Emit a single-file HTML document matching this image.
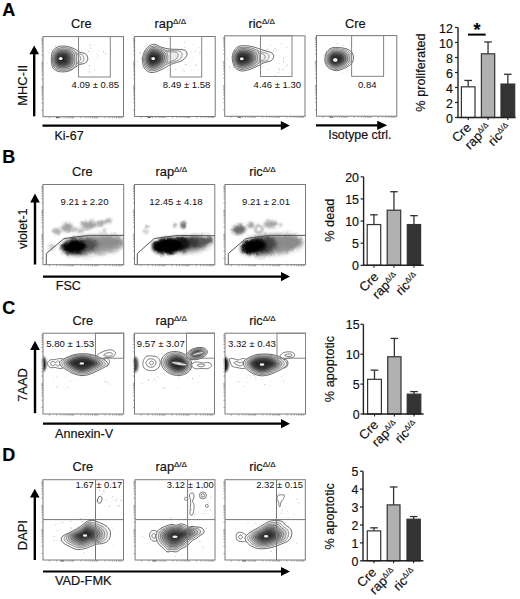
<!DOCTYPE html>
<html><head><meta charset="utf-8"><style>
html,body{margin:0;padding:0;background:#fff;}
body{width:520px;height:599px;overflow:hidden;font-family:"Liberation Sans",sans-serif;}
svg{display:block;}
text{stroke:#111;stroke-width:0.18px;}
</style></head><body>
<svg width="520" height="599" viewBox="0 0 520 599" font-family="Liberation Sans"><defs><filter id="wig" x="-10%" y="-10%" width="120%" height="120%"><feTurbulence type="fractalNoise" baseFrequency="0.25" numOctaves="2" seed="5" result="n"/><feDisplacementMap in="SourceGraphic" in2="n" scale="2.5" xChannelSelector="R" yChannelSelector="G"/></filter><filter id="lumpy" x="-10%" y="-10%" width="120%" height="120%"><feTurbulence type="fractalNoise" baseFrequency="0.14" numOctaves="2" seed="3" result="n"/><feDisplacementMap in="SourceGraphic" in2="n" scale="3.5" xChannelSelector="R" yChannelSelector="G"/></filter><filter id="b0_5" x="-50%" y="-50%" width="200%" height="200%"><feGaussianBlur stdDeviation="0.5"/></filter><filter id="b1_3" x="-50%" y="-50%" width="200%" height="200%"><feGaussianBlur stdDeviation="1.3"/></filter><filter id="b1_4" x="-50%" y="-50%" width="200%" height="200%"><feGaussianBlur stdDeviation="1.4"/></filter><filter id="b1_2" x="-50%" y="-50%" width="200%" height="200%"><feGaussianBlur stdDeviation="1.2"/></filter><filter id="b1" x="-50%" y="-50%" width="200%" height="200%"><feGaussianBlur stdDeviation="1"/></filter><filter id="b2_3" x="-50%" y="-50%" width="200%" height="200%"><feGaussianBlur stdDeviation="2.3"/></filter><filter id="b2_1" x="-50%" y="-50%" width="200%" height="200%"><feGaussianBlur stdDeviation="2.1"/></filter><filter id="b1_8" x="-50%" y="-50%" width="200%" height="200%"><feGaussianBlur stdDeviation="1.8"/></filter><filter id="b0_8" x="-50%" y="-50%" width="200%" height="200%"><feGaussianBlur stdDeviation="0.8"/></filter><filter id="b2_2" x="-50%" y="-50%" width="200%" height="200%"><feGaussianBlur stdDeviation="2.2"/></filter><filter id="b1_6" x="-50%" y="-50%" width="200%" height="200%"><feGaussianBlur stdDeviation="1.6"/></filter><filter id="b1_5" x="-50%" y="-50%" width="200%" height="200%"><feGaussianBlur stdDeviation="1.5"/></filter><filter id="b2" x="-50%" y="-50%" width="200%" height="200%"><feGaussianBlur stdDeviation="2"/></filter><filter id="b1_0" x="-50%" y="-50%" width="200%" height="200%"><feGaussianBlur stdDeviation="1.0"/></filter></defs><rect width="520" height="599" fill="#fff"/><text x="2.2" y="15.9" font-size="18" text-anchor="start" font-weight="bold" fill="#000" >A</text>
<text x="2.2" y="163.4" font-size="18" text-anchor="start" font-weight="bold" fill="#000" >B</text>
<text x="2.2" y="313.6" font-size="18" text-anchor="start" font-weight="bold" fill="#000" >C</text>
<text x="2.2" y="461.3" font-size="18" text-anchor="start" font-weight="bold" fill="#000" >D</text>
<rect x="43" y="36.6" width="80.5" height="80.1" fill="#fff" stroke="#7a7a7a" stroke-width="1"/>
<path d="M41.4,110.3h1.6 M49.4,116.7v1.6 M41.4,103.1h1.6 M56.7,116.7v1.6 M41.4,98.8h1.6 M61.0,116.7v1.6 M41.4,95.8h1.6 M64.0,116.7v1.6 M41.4,93.5h1.6 M66.3,116.7v1.6 M41.4,91.6h1.6 M68.2,116.7v1.6 M41.4,90.0h1.6 M69.8,116.7v1.6 M41.4,88.6h1.6 M71.2,116.7v1.6 M41.4,87.4h1.6 M72.5,116.7v1.6 M41.4,86.3h1.6 M73.6,116.7v1.6 M41.4,79.0h1.6 M80.9,116.7v1.6 M41.4,74.8h1.6 M85.1,116.7v1.6 M41.4,71.8h1.6 M88.1,116.7v1.6 M41.4,69.5h1.6 M90.5,116.7v1.6 M41.4,67.6h1.6 M92.4,116.7v1.6 M41.4,66.0h1.6 M94.0,116.7v1.6 M41.4,64.6h1.6 M95.4,116.7v1.6 M41.4,63.3h1.6 M96.6,116.7v1.6 M41.4,62.2h1.6 M97.7,116.7v1.6 M41.4,55.0h1.6 M105.0,116.7v1.6 M41.4,50.8h1.6 M109.3,116.7v1.6 M41.4,47.8h1.6 M112.3,116.7v1.6 M41.4,45.4h1.6 M114.6,116.7v1.6 M41.4,43.5h1.6 M116.5,116.7v1.6 M41.4,41.9h1.6 M118.1,116.7v1.6 M41.4,40.5h1.6 M119.5,116.7v1.6 M41.4,39.3h1.6 M120.8,116.7v1.6 M41.4,38.2h1.6 M121.9,116.7v1.6" stroke="#7a7a7a" stroke-width="0.65" fill="none"/>
<rect x="134.6" y="36.5" width="80.6" height="80.0" fill="#fff" stroke="#7a7a7a" stroke-width="1"/>
<path d="M133.0,110.1h1.6 M141.0,116.5v1.6 M133.0,102.9h1.6 M148.3,116.5v1.6 M133.0,98.6h1.6 M152.6,116.5v1.6 M133.0,95.7h1.6 M155.6,116.5v1.6 M133.0,93.3h1.6 M157.9,116.5v1.6 M133.0,91.4h1.6 M159.9,116.5v1.6 M133.0,89.8h1.6 M161.5,116.5v1.6 M133.0,88.4h1.6 M162.9,116.5v1.6 M133.0,87.2h1.6 M164.1,116.5v1.6 M133.0,86.1h1.6 M165.2,116.5v1.6 M133.0,78.9h1.6 M172.5,116.5v1.6 M133.0,74.6h1.6 M176.8,116.5v1.6 M133.0,71.7h1.6 M179.8,116.5v1.6 M133.0,69.3h1.6 M182.1,116.5v1.6 M133.0,67.4h1.6 M184.0,116.5v1.6 M133.0,65.8h1.6 M185.7,116.5v1.6 M133.0,64.4h1.6 M187.1,116.5v1.6 M133.0,63.2h1.6 M188.3,116.5v1.6 M133.0,62.1h1.6 M189.4,116.5v1.6 M133.0,54.9h1.6 M196.7,116.5v1.6 M133.0,50.6h1.6 M200.9,116.5v1.6 M133.0,47.7h1.6 M204.0,116.5v1.6 M133.0,45.3h1.6 M206.3,116.5v1.6 M133.0,43.4h1.6 M208.2,116.5v1.6 M133.0,41.8h1.6 M209.8,116.5v1.6 M133.0,40.4h1.6 M211.2,116.5v1.6 M133.0,39.2h1.6 M212.5,116.5v1.6 M133.0,38.1h1.6 M213.6,116.5v1.6" stroke="#7a7a7a" stroke-width="0.65" fill="none"/>
<rect x="224.7" y="35.8" width="80.30000000000001" height="80.5" fill="#fff" stroke="#7a7a7a" stroke-width="1"/>
<path d="M223.1,109.9h1.6 M231.1,116.3v1.6 M223.1,102.6h1.6 M238.4,116.3v1.6 M223.1,98.3h1.6 M242.6,116.3v1.6 M223.1,95.3h1.6 M245.6,116.3v1.6 M223.1,93.0h1.6 M248.0,116.3v1.6 M223.1,91.1h1.6 M249.9,116.3v1.6 M223.1,89.5h1.6 M251.5,116.3v1.6 M223.1,88.1h1.6 M252.9,116.3v1.6 M223.1,86.8h1.6 M254.1,116.3v1.6 M223.1,85.7h1.6 M255.2,116.3v1.6 M223.1,78.4h1.6 M262.5,116.3v1.6 M223.1,74.2h1.6 M266.7,116.3v1.6 M223.1,71.2h1.6 M269.7,116.3v1.6 M223.1,68.8h1.6 M272.1,116.3v1.6 M223.1,66.9h1.6 M274.0,116.3v1.6 M223.1,65.3h1.6 M275.6,116.3v1.6 M223.1,63.9h1.6 M277.0,116.3v1.6 M223.1,62.7h1.6 M278.2,116.3v1.6 M223.1,61.6h1.6 M279.3,116.3v1.6 M223.1,54.3h1.6 M286.6,116.3v1.6 M223.1,50.0h1.6 M290.8,116.3v1.6 M223.1,47.0h1.6 M293.8,116.3v1.6 M223.1,44.7h1.6 M296.1,116.3v1.6 M223.1,42.8h1.6 M298.0,116.3v1.6 M223.1,41.2h1.6 M299.7,116.3v1.6 M223.1,39.8h1.6 M301.1,116.3v1.6 M223.1,38.5h1.6 M302.3,116.3v1.6 M223.1,37.4h1.6 M303.4,116.3v1.6" stroke="#7a7a7a" stroke-width="0.65" fill="none"/>
<rect x="316.5" y="35.6" width="80.30000000000001" height="80.6" fill="#fff" stroke="#7a7a7a" stroke-width="1"/>
<path d="M314.9,109.8h1.6 M322.9,116.2v1.6 M314.9,102.5h1.6 M330.2,116.2v1.6 M314.9,98.2h1.6 M334.4,116.2v1.6 M314.9,95.2h1.6 M337.4,116.2v1.6 M314.9,92.9h1.6 M339.8,116.2v1.6 M314.9,90.9h1.6 M341.7,116.2v1.6 M314.9,89.3h1.6 M343.3,116.2v1.6 M314.9,87.9h1.6 M344.7,116.2v1.6 M314.9,86.7h1.6 M345.9,116.2v1.6 M314.9,85.6h1.6 M347.0,116.2v1.6 M314.9,78.3h1.6 M354.3,116.2v1.6 M314.9,74.0h1.6 M358.5,116.2v1.6 M314.9,71.0h1.6 M361.5,116.2v1.6 M314.9,68.7h1.6 M363.9,116.2v1.6 M314.9,66.8h1.6 M365.8,116.2v1.6 M314.9,65.1h1.6 M367.4,116.2v1.6 M314.9,63.7h1.6 M368.8,116.2v1.6 M314.9,62.5h1.6 M370.0,116.2v1.6 M314.9,61.4h1.6 M371.1,116.2v1.6 M314.9,54.1h1.6 M378.4,116.2v1.6 M314.9,49.9h1.6 M382.6,116.2v1.6 M314.9,46.8h1.6 M385.6,116.2v1.6 M314.9,44.5h1.6 M387.9,116.2v1.6 M314.9,42.6h1.6 M389.8,116.2v1.6 M314.9,41.0h1.6 M391.5,116.2v1.6 M314.9,39.6h1.6 M392.9,116.2v1.6 M314.9,38.3h1.6 M394.1,116.2v1.6 M314.9,37.2h1.6 M395.2,116.2v1.6" stroke="#7a7a7a" stroke-width="0.65" fill="none"/>
<circle cx="86.4" cy="47.5" r="0.41" fill="#d8d8d8"/><circle cx="94.6" cy="70.3" r="0.41" fill="#bcbcbc"/><circle cx="89.9" cy="45.1" r="0.54" fill="#b4b4b4"/><circle cx="77.9" cy="60.0" r="0.56" fill="#bdbdbd"/><circle cx="94.7" cy="44.9" r="0.50" fill="#d4d4d4"/><circle cx="103.5" cy="51.7" r="0.54" fill="#b8b8b8"/><circle cx="94.3" cy="59.8" r="0.45" fill="#dadada"/><circle cx="94.6" cy="62.2" r="0.42" fill="#c6c6c6"/><circle cx="98.8" cy="59.9" r="0.45" fill="#d6d6d6"/><circle cx="97.8" cy="55.8" r="0.52" fill="#c3c3c3"/><circle cx="105.6" cy="53.8" r="0.60" fill="#bebebe"/><circle cx="98.4" cy="50.3" r="0.48" fill="#d3d3d3"/><circle cx="91.8" cy="53.3" r="0.47" fill="#cbcbcb"/><circle cx="89.4" cy="65.7" r="0.63" fill="#b8b8b8"/><circle cx="89.5" cy="71.9" r="0.59" fill="#b3b3b3"/><circle cx="94.3" cy="69.3" r="0.49" fill="#c3c3c3"/><circle cx="87.2" cy="57.9" r="0.42" fill="#cccccc"/><circle cx="79.0" cy="51.1" r="0.57" fill="#dbdbdb"/><circle cx="77.9" cy="64.0" r="0.54" fill="#d8d8d8"/><circle cx="97.8" cy="56.4" r="0.50" fill="#dcdcdc"/><circle cx="90.8" cy="48.0" r="0.52" fill="#b6b6b6"/><circle cx="83.0" cy="51.6" r="0.46" fill="#dedede"/><circle cx="88.5" cy="69.1" r="0.44" fill="#b4b4b4"/><circle cx="88.9" cy="51.3" r="0.60" fill="#b7b7b7"/><circle cx="103.6" cy="51.4" r="0.65" fill="#c9c9c9"/><circle cx="97.8" cy="54.4" r="0.44" fill="#bdbdbd"/><circle cx="81.6" cy="50.0" r="0.40" fill="#bdbdbd"/>
<circle cx="70.6" cy="50.5" r="0.40" fill="#c1c1c1"/><circle cx="57.4" cy="56.1" r="0.48" fill="#d3d3d3"/><circle cx="74.4" cy="64.6" r="0.41" fill="#dedede"/><circle cx="72.8" cy="68.4" r="0.60" fill="#dadada"/><circle cx="56.6" cy="57.0" r="0.52" fill="#b5b5b5"/><circle cx="56.8" cy="50.7" r="0.51" fill="#bcbcbc"/><circle cx="47.5" cy="63.0" r="0.40" fill="#b5b5b5"/><circle cx="55.6" cy="45.8" r="0.55" fill="#bcbcbc"/><circle cx="48.8" cy="52.6" r="0.55" fill="#c5c5c5"/><circle cx="59.2" cy="48.5" r="0.65" fill="#cecece"/><circle cx="58.9" cy="59.5" r="0.44" fill="#b4b4b4"/><circle cx="68.0" cy="67.2" r="0.61" fill="#cdcdcd"/><circle cx="74.4" cy="60.8" r="0.57" fill="#b8b8b8"/><circle cx="73.3" cy="67.7" r="0.64" fill="#c2c2c2"/><circle cx="71.6" cy="65.9" r="0.53" fill="#bfbfbf"/>
<circle cx="199.9" cy="52.4" r="0.53" fill="#bdbdbd"/><circle cx="195.5" cy="51.5" r="0.55" fill="#bdbdbd"/><circle cx="195.8" cy="65.3" r="0.60" fill="#bbbbbb"/><circle cx="196.8" cy="64.7" r="0.45" fill="#bdbdbd"/><circle cx="185.8" cy="64.4" r="0.60" fill="#b0b0b0"/><circle cx="185.1" cy="47.2" r="0.64" fill="#d5d5d5"/><circle cx="184.2" cy="71.0" r="0.64" fill="#c5c5c5"/><circle cx="181.4" cy="48.1" r="0.52" fill="#bdbdbd"/><circle cx="180.5" cy="56.4" r="0.61" fill="#d6d6d6"/><circle cx="185.3" cy="61.9" r="0.42" fill="#d8d8d8"/><circle cx="191.5" cy="70.1" r="0.58" fill="#e1e1e1"/><circle cx="175.8" cy="69.4" r="0.60" fill="#cacaca"/><circle cx="180.3" cy="66.6" r="0.50" fill="#dddddd"/><circle cx="182.6" cy="71.3" r="0.44" fill="#dddddd"/><circle cx="189.1" cy="55.9" r="0.44" fill="#d8d8d8"/><circle cx="191.3" cy="52.2" r="0.54" fill="#d2d2d2"/><circle cx="193.7" cy="44.3" r="0.63" fill="#dedede"/><circle cx="183.7" cy="68.9" r="0.41" fill="#bcbcbc"/><circle cx="176.2" cy="57.0" r="0.55" fill="#dfdfdf"/><circle cx="177.8" cy="54.4" r="0.42" fill="#b7b7b7"/><circle cx="194.2" cy="69.7" r="0.55" fill="#d9d9d9"/><circle cx="199.7" cy="54.5" r="0.43" fill="#cfcfcf"/><circle cx="174.2" cy="57.3" r="0.59" fill="#cbcbcb"/><circle cx="189.7" cy="65.8" r="0.44" fill="#b8b8b8"/><circle cx="185.1" cy="64.2" r="0.42" fill="#d2d2d2"/><circle cx="192.2" cy="58.0" r="0.60" fill="#cdcdcd"/><circle cx="172.6" cy="58.9" r="0.45" fill="#bebebe"/><circle cx="184.4" cy="41.9" r="0.51" fill="#b3b3b3"/><circle cx="189.8" cy="57.2" r="0.45" fill="#cfcfcf"/><circle cx="178.4" cy="57.3" r="0.53" fill="#cdcdcd"/><circle cx="177.4" cy="57.7" r="0.63" fill="#bfbfbf"/><circle cx="199.4" cy="47.5" r="0.43" fill="#cbcbcb"/><circle cx="173.1" cy="55.1" r="0.57" fill="#b3b3b3"/>
<circle cx="149.9" cy="51.4" r="0.60" fill="#c2c2c2"/><circle cx="158.5" cy="64.8" r="0.46" fill="#b8b8b8"/><circle cx="141.1" cy="59.0" r="0.64" fill="#dedede"/><circle cx="148.9" cy="59.6" r="0.61" fill="#d9d9d9"/><circle cx="141.8" cy="57.9" r="0.50" fill="#cfcfcf"/><circle cx="149.6" cy="55.7" r="0.58" fill="#b4b4b4"/><circle cx="137.6" cy="61.6" r="0.58" fill="#cbcbcb"/><circle cx="148.5" cy="60.5" r="0.53" fill="#c1c1c1"/><circle cx="140.1" cy="53.0" r="0.63" fill="#b1b1b1"/><circle cx="142.4" cy="67.7" r="0.61" fill="#cacaca"/><circle cx="157.3" cy="73.4" r="0.44" fill="#c8c8c8"/><circle cx="164.6" cy="62.1" r="0.48" fill="#dbdbdb"/>
<circle cx="267.5" cy="69.2" r="0.51" fill="#bababa"/><circle cx="279.6" cy="69.3" r="0.55" fill="#b4b4b4"/><circle cx="265.6" cy="51.0" r="0.51" fill="#b6b6b6"/><circle cx="269.5" cy="60.8" r="0.56" fill="#c0c0c0"/><circle cx="266.9" cy="48.2" r="0.56" fill="#c2c2c2"/><circle cx="276.1" cy="49.0" r="0.53" fill="#cbcbcb"/><circle cx="264.0" cy="53.8" r="0.65" fill="#b0b0b0"/><circle cx="275.2" cy="75.3" r="0.52" fill="#cfcfcf"/><circle cx="285.8" cy="56.7" r="0.54" fill="#cecece"/><circle cx="268.5" cy="49.3" r="0.49" fill="#bdbdbd"/><circle cx="286.3" cy="66.0" r="0.43" fill="#d7d7d7"/><circle cx="279.3" cy="71.9" r="0.44" fill="#cacaca"/><circle cx="287.6" cy="64.8" r="0.55" fill="#c1c1c1"/><circle cx="281.6" cy="43.5" r="0.44" fill="#bababa"/><circle cx="273.2" cy="51.0" r="0.64" fill="#c4c4c4"/><circle cx="276.6" cy="50.3" r="0.45" fill="#c2c2c2"/><circle cx="264.2" cy="53.4" r="0.52" fill="#b4b4b4"/><circle cx="275.1" cy="48.8" r="0.59" fill="#cfcfcf"/><circle cx="262.9" cy="62.0" r="0.41" fill="#c8c8c8"/><circle cx="268.3" cy="49.9" r="0.64" fill="#d4d4d4"/><circle cx="287.0" cy="47.3" r="0.60" fill="#dcdcdc"/><circle cx="278.3" cy="68.0" r="0.65" fill="#dddddd"/><circle cx="263.1" cy="66.6" r="0.44" fill="#d8d8d8"/><circle cx="286.0" cy="66.3" r="0.56" fill="#cfcfcf"/><circle cx="283.0" cy="69.6" r="0.63" fill="#b7b7b7"/><circle cx="283.6" cy="61.3" r="0.61" fill="#b0b0b0"/><circle cx="277.9" cy="72.4" r="0.64" fill="#dadada"/><circle cx="279.9" cy="44.9" r="0.43" fill="#b1b1b1"/><circle cx="270.3" cy="45.6" r="0.54" fill="#cbcbcb"/><circle cx="279.3" cy="63.3" r="0.46" fill="#dadada"/><circle cx="267.0" cy="57.5" r="0.59" fill="#b3b3b3"/><circle cx="275.1" cy="60.2" r="0.53" fill="#d9d9d9"/><circle cx="283.4" cy="58.1" r="0.61" fill="#b3b3b3"/>
<circle cx="234.0" cy="67.7" r="0.58" fill="#bdbdbd"/><circle cx="256.3" cy="59.8" r="0.42" fill="#c7c7c7"/><circle cx="254.3" cy="53.6" r="0.55" fill="#b1b1b1"/><circle cx="246.3" cy="47.3" r="0.48" fill="#b8b8b8"/><circle cx="246.5" cy="65.8" r="0.54" fill="#d6d6d6"/><circle cx="235.1" cy="65.2" r="0.45" fill="#dbdbdb"/><circle cx="241.7" cy="66.3" r="0.52" fill="#c1c1c1"/><circle cx="241.0" cy="48.6" r="0.45" fill="#d2d2d2"/><circle cx="227.5" cy="58.8" r="0.64" fill="#cfcfcf"/><circle cx="240.5" cy="53.1" r="0.63" fill="#bcbcbc"/><circle cx="229.7" cy="67.4" r="0.64" fill="#bfbfbf"/><circle cx="231.0" cy="69.6" r="0.47" fill="#cfcfcf"/>
<circle cx="324.1" cy="54.7" r="0.62" fill="#cecece"/><circle cx="337.5" cy="43.8" r="0.64" fill="#afafaf"/><circle cx="344.5" cy="56.0" r="0.44" fill="#dddddd"/><circle cx="332.4" cy="53.1" r="0.40" fill="#c4c4c4"/><circle cx="347.0" cy="69.9" r="0.63" fill="#b6b6b6"/><circle cx="346.6" cy="51.1" r="0.50" fill="#b3b3b3"/><circle cx="333.0" cy="56.7" r="0.61" fill="#c0c0c0"/><circle cx="330.1" cy="44.7" r="0.47" fill="#d9d9d9"/><circle cx="329.6" cy="59.4" r="0.59" fill="#bbbbbb"/><circle cx="348.3" cy="56.7" r="0.60" fill="#b0b0b0"/><circle cx="342.7" cy="72.2" r="0.54" fill="#d2d2d2"/><circle cx="346.4" cy="57.4" r="0.43" fill="#dfdfdf"/><circle cx="351.3" cy="58.5" r="0.43" fill="#d2d2d2"/><circle cx="337.0" cy="54.0" r="0.46" fill="#c2c2c2"/><circle cx="346.6" cy="63.9" r="0.56" fill="#c8c8c8"/><circle cx="330.8" cy="60.8" r="0.43" fill="#c8c8c8"/><circle cx="343.2" cy="45.4" r="0.63" fill="#cfcfcf"/><circle cx="337.9" cy="50.0" r="0.65" fill="#c4c4c4"/><circle cx="336.2" cy="47.5" r="0.46" fill="#bbbbbb"/><circle cx="326.3" cy="60.8" r="0.46" fill="#c3c3c3"/><circle cx="329.3" cy="61.2" r="0.59" fill="#b0b0b0"/>
<rect x="56" y="117.0" width="3.5" height="1.2" fill="#666" filter="url(#b0_5)"/>
<rect x="147.6" y="116.8" width="3.5" height="1.2" fill="#666" filter="url(#b0_5)"/>
<rect x="237.7" y="116.6" width="3.5" height="1.2" fill="#666" filter="url(#b0_5)"/>
<rect x="329.5" y="116.5" width="3.5" height="1.2" fill="#666" filter="url(#b0_5)"/>
<text x="71" y="27.7" font-size="12.8" text-anchor="start" font-weight="normal" fill="#111" >Cre</text>
<text x="154.6" y="27.7" font-size="12.8" text-anchor="start" fill="#111" >rap<tspan font-size="8" dy="-4">Δ/Δ</tspan></text>
<text x="248.5" y="27.7" font-size="12.8" text-anchor="start" fill="#111" >ric<tspan font-size="8" dy="-4">Δ/Δ</tspan></text>
<text x="345" y="27.7" font-size="12.8" text-anchor="start" font-weight="normal" fill="#111" >Cre</text>
<g><path d="M51.30,59.00C51.30,56.08 51.63,52.62 53.00,50.50C54.37,48.38 56.83,46.92 59.50,46.30C62.17,45.68 66.33,46.27 69.00,46.80C71.67,47.33 73.67,48.58 75.50,49.50C77.33,50.42 78.33,51.58 80.00,52.30C81.67,53.02 84.20,52.77 85.50,53.80C86.80,54.83 87.80,56.97 87.80,58.50C87.80,60.03 86.80,62.00 85.50,63.00C84.20,64.00 81.67,63.83 80.00,64.50C78.33,65.17 77.33,65.92 75.50,67.00C73.67,68.08 71.67,70.22 69.00,71.00C66.33,71.78 62.17,72.20 59.50,71.70C56.83,71.20 54.37,70.12 53.00,68.00C51.63,65.88 51.30,61.92 51.30,59.00Z" fill="#fafafa" stroke="#3a3a3a" stroke-width="0.75"/><path d="M52.59,59.00C52.59,56.49 52.87,53.51 54.05,51.69C55.23,49.87 57.35,48.61 59.64,48.08C61.93,47.55 65.52,48.05 67.81,48.51C70.10,48.97 71.82,50.04 73.40,50.83C74.98,51.62 75.84,52.62 77.27,53.24C78.70,53.85 80.88,53.64 82.00,54.53C83.12,55.42 83.98,57.25 83.98,58.57C83.98,59.89 83.12,61.58 82.00,62.44C80.88,63.30 78.70,63.16 77.27,63.73C75.84,64.30 74.98,64.95 73.40,65.88C71.82,66.81 70.10,68.65 67.81,69.32C65.52,69.99 61.93,70.35 59.64,69.92C57.35,69.49 55.23,68.56 54.05,66.74C52.87,64.92 52.59,61.51 52.59,59.00Z" fill="#f4f4f4" stroke="#4a4a4a" stroke-width="0.55"/><path d="M53.69,59.00C53.69,56.84 53.94,54.28 54.95,52.71C55.96,51.14 57.79,50.06 59.76,49.60C61.73,49.15 64.82,49.58 66.79,49.97C68.76,50.37 70.24,51.29 71.60,51.97C72.96,52.65 73.70,53.51 74.93,54.04C76.16,54.57 78.04,54.39 79.00,55.15C79.96,55.92 80.70,57.50 80.70,58.63C80.70,59.76 79.96,61.22 79.00,61.96C78.04,62.70 76.16,62.58 74.93,63.07C73.70,63.56 72.96,64.12 71.60,64.92C70.24,65.72 68.76,67.30 66.79,67.88C64.82,68.46 61.73,68.77 59.76,68.40C57.79,68.03 55.96,67.23 54.95,65.66C53.94,64.09 53.69,61.16 53.69,59.00Z" fill="#ececec" stroke="#4a4a4a" stroke-width="0.55"/><path d="M52.49,59.00C52.54,56.95 52.90,54.48 53.55,52.84C54.19,51.20 54.99,49.98 56.36,49.14C57.74,48.31 59.74,48.00 61.82,47.82C63.90,47.65 66.88,47.72 68.86,48.09C70.84,48.45 72.48,49.09 73.70,50.02C74.92,50.96 75.68,52.22 76.16,53.72C76.65,55.22 76.60,57.24 76.60,59.00C76.60,60.76 76.65,62.77 76.16,64.28C75.68,65.79 75.06,67.10 73.70,68.06C72.34,69.03 70.25,69.72 67.98,70.09C65.71,70.45 62.11,70.50 60.06,70.26C58.01,70.03 56.79,69.53 55.66,68.68C54.53,67.83 53.81,66.77 53.28,65.16C52.76,63.55 52.45,61.05 52.49,59.00Z" fill="#dcdcdc" stroke="#4a4a4a" stroke-width="0.55"/><path d="M53.40,59.00C53.44,57.18 53.77,55.00 54.34,53.54C54.91,52.08 55.61,51.00 56.83,50.26C58.06,49.52 59.82,49.25 61.67,49.09C63.52,48.94 66.16,49.00 67.91,49.33C69.66,49.65 71.12,50.21 72.20,51.04C73.28,51.88 73.95,52.99 74.38,54.32C74.81,55.65 74.77,57.44 74.77,59.00C74.77,60.56 74.81,62.34 74.38,63.68C73.95,65.02 73.41,66.18 72.20,67.03C70.99,67.89 69.14,68.50 67.13,68.83C65.11,69.15 61.93,69.19 60.11,68.98C58.29,68.78 57.21,68.33 56.21,67.58C55.21,66.83 54.57,65.89 54.10,64.46C53.64,63.03 53.36,60.82 53.40,59.00Z" fill="#bcbcbc" stroke="#4a4a4a" stroke-width="0.55"/><path d="M54.31,59.00C54.35,57.41 54.63,55.51 55.13,54.24C55.63,52.97 56.24,52.03 57.30,51.38C58.37,50.74 59.91,50.50 61.52,50.36C63.13,50.23 65.43,50.28 66.96,50.57C68.49,50.85 69.76,51.34 70.70,52.06C71.64,52.79 72.23,53.76 72.60,54.92C72.98,56.08 72.94,57.64 72.94,59.00C72.94,60.36 72.98,61.91 72.60,63.08C72.23,64.25 71.75,65.26 70.70,66.00C69.65,66.75 68.04,67.28 66.28,67.57C64.52,67.85 61.75,67.89 60.16,67.70C58.57,67.52 57.63,67.14 56.76,66.48C55.89,65.82 55.33,65.01 54.92,63.76C54.52,62.51 54.28,60.59 54.31,59.00Z" fill="#969696" stroke="#4a4a4a" stroke-width="0.55"/><path d="M55.22,59.00C55.25,57.65 55.49,56.02 55.92,54.94C56.34,53.86 56.87,53.05 57.77,52.50C58.68,51.95 60.00,51.75 61.37,51.63C62.74,51.52 64.70,51.57 66.01,51.81C67.32,52.05 68.40,52.47 69.20,53.08C70.00,53.70 70.50,54.53 70.82,55.52C71.14,56.51 71.11,57.84 71.11,59.00C71.11,60.16 71.14,61.48 70.82,62.48C70.50,63.48 70.10,64.34 69.20,64.97C68.30,65.61 66.93,66.07 65.43,66.31C63.93,66.55 61.56,66.58 60.21,66.42C58.86,66.27 58.05,65.94 57.31,65.38C56.57,64.82 56.09,64.12 55.74,63.06C55.40,62.00 55.19,60.35 55.22,59.00Z" fill="#6e6e6e" stroke="#4a4a4a" stroke-width="0.55"/><path d="M56.13,59.00C56.16,57.88 56.36,56.54 56.71,55.64C57.06,54.74 57.49,54.08 58.24,53.62C59.00,53.17 60.08,53.00 61.22,52.90C62.36,52.81 63.98,52.85 65.06,53.05C66.14,53.25 67.04,53.59 67.70,54.10C68.36,54.62 68.78,55.30 69.04,56.12C69.31,56.94 69.28,58.04 69.28,59.00C69.28,59.96 69.31,61.06 69.04,61.88C68.78,62.70 68.44,63.42 67.70,63.94C66.96,64.47 65.82,64.85 64.58,65.05C63.34,65.25 61.38,65.27 60.26,65.14C59.14,65.02 58.48,64.74 57.86,64.28C57.24,63.82 56.85,63.24 56.56,62.36C56.28,61.48 56.11,60.12 56.13,59.00Z" fill="#4a4a4a" stroke="#4a4a4a" stroke-width="0.55"/><path d="M57.04,59.00C57.06,58.11 57.22,57.05 57.50,56.34C57.78,55.63 58.12,55.11 58.71,54.74C59.31,54.38 60.17,54.25 61.07,54.17C61.97,54.10 63.25,54.13 64.11,54.29C64.97,54.45 65.67,54.72 66.20,55.12C66.73,55.53 67.05,56.07 67.26,56.72C67.47,57.37 67.45,58.24 67.45,59.00C67.45,59.76 67.47,60.63 67.26,61.28C67.05,61.93 66.79,62.50 66.20,62.91C65.61,63.33 64.71,63.63 63.73,63.79C62.75,63.95 61.20,63.97 60.31,63.86C59.42,63.76 58.90,63.55 58.41,63.18C57.92,62.81 57.61,62.36 57.38,61.66C57.16,60.96 57.02,59.89 57.04,59.00Z" fill="#303030" stroke="#4a4a4a" stroke-width="0.55"/><path d="M57.77,59.00C57.78,58.30 57.91,57.46 58.13,56.90C58.35,56.34 58.62,55.92 59.09,55.64C59.56,55.36 60.24,55.25 60.95,55.19C61.66,55.13 62.68,55.16 63.35,55.28C64.03,55.41 64.58,55.62 65.00,55.94C65.42,56.26 65.68,56.69 65.84,57.20C66.00,57.71 65.99,58.40 65.99,59.00C65.99,59.60 66.00,60.28 65.84,60.80C65.68,61.31 65.47,61.76 65.00,62.09C64.53,62.42 63.82,62.66 63.05,62.78C62.27,62.91 61.05,62.92 60.35,62.84C59.65,62.76 59.23,62.59 58.85,62.30C58.47,62.01 58.22,61.65 58.04,61.10C57.86,60.55 57.75,59.70 57.77,59.00Z" fill="#222222" stroke="#4a4a4a" stroke-width="0.55"/><path d="M58.50,59.00C58.51,58.49 58.60,57.87 58.76,57.46C58.92,57.05 59.12,56.75 59.47,56.54C59.81,56.33 60.31,56.25 60.83,56.21C61.35,56.16 62.10,56.18 62.59,56.27C63.09,56.36 63.50,56.52 63.80,56.76C64.10,56.99 64.30,57.31 64.42,57.68C64.54,58.05 64.53,58.56 64.53,59.00C64.53,59.44 64.54,59.94 64.42,60.32C64.30,60.70 64.14,61.02 63.80,61.27C63.46,61.51 62.94,61.68 62.37,61.77C61.80,61.86 60.90,61.87 60.39,61.82C59.88,61.76 59.57,61.63 59.29,61.42C59.01,61.21 58.83,60.94 58.70,60.54C58.56,60.14 58.49,59.51 58.50,59.00Z" fill="#1a1a1a" stroke="#4a4a4a" stroke-width="0.55"/></g>
<ellipse cx="60.8" cy="58.6" rx="1.9" ry="1.6" fill="#fff" opacity="0.95" filter="url(#b0_5)"/>
<g><path d="M142.30,59.90C142.27,56.78 143.72,52.90 145.00,50.50C146.28,48.10 148.33,46.53 150.00,45.50C151.67,44.47 153.10,44.02 155.00,44.30C156.90,44.58 158.98,46.42 161.40,47.20C163.82,47.98 166.43,48.62 169.50,49.00C172.57,49.38 177.12,49.22 179.80,49.50C182.48,49.78 184.43,49.73 185.60,50.70C186.77,51.67 187.37,53.67 186.80,55.30C186.23,56.93 184.90,58.97 182.20,60.50C179.50,62.03 173.88,63.05 170.60,64.50C167.32,65.95 165.57,67.85 162.50,69.20C159.43,70.55 155.08,72.60 152.20,72.60C149.32,72.60 146.85,71.32 145.20,69.20C143.55,67.08 142.33,63.02 142.30,59.90Z" fill="#fafafa" stroke="#3a3a3a" stroke-width="0.75"/><path d="M143.77,59.72C143.74,57.04 144.99,53.70 146.09,51.63C147.20,49.57 148.96,48.22 150.39,47.33C151.83,46.45 153.06,46.06 154.69,46.30C156.33,46.55 158.12,48.12 160.20,48.80C162.27,49.47 164.52,50.01 167.16,50.34C169.80,50.67 173.71,50.53 176.02,50.77C178.33,51.02 180.00,50.97 181.01,51.81C182.01,52.64 182.53,54.36 182.04,55.76C181.55,57.17 180.41,58.92 178.08,60.23C175.76,61.55 170.93,62.43 168.11,63.67C165.28,64.92 163.78,66.56 161.14,67.72C158.50,68.88 154.76,70.64 152.28,70.64C149.80,70.64 147.68,69.54 146.26,67.72C144.84,65.90 143.80,62.40 143.77,59.72Z" fill="#f4f4f4" stroke="#4a4a4a" stroke-width="0.55"/><path d="M145.03,59.56C145.01,57.26 146.08,54.38 147.03,52.61C147.98,50.83 149.49,49.67 150.73,48.91C151.96,48.14 153.02,47.81 154.43,48.02C155.83,48.23 157.38,49.58 159.16,50.16C160.95,50.74 162.89,51.21 165.16,51.50C167.43,51.78 170.79,51.66 172.78,51.87C174.77,52.08 176.21,52.04 177.07,52.75C177.94,53.47 178.38,54.95 177.96,56.16C177.54,57.37 176.55,58.87 174.56,60.01C172.56,61.14 168.40,61.89 165.97,62.97C163.54,64.04 162.25,65.45 159.98,66.44C157.71,67.44 154.49,68.96 152.36,68.96C150.22,68.96 148.40,68.01 147.18,66.44C145.95,64.88 145.05,61.87 145.03,59.56Z" fill="#ececec" stroke="#4a4a4a" stroke-width="0.55"/><path d="M143.56,59.74C143.46,57.07 144.51,53.95 145.50,51.91C146.48,49.87 147.92,48.49 149.46,47.51C151.00,46.53 152.92,45.94 154.74,46.02C156.55,46.09 158.75,47.34 160.37,47.95C161.98,48.57 163.30,48.91 164.42,49.71C165.53,50.52 166.47,51.40 167.06,52.79C167.64,54.19 168.08,56.31 167.94,58.07C167.79,59.83 167.28,61.74 166.18,63.35C165.08,64.97 163.65,66.49 161.34,67.75C159.02,69.01 154.81,70.89 152.27,70.92C149.73,70.95 147.56,69.79 146.11,67.93C144.66,66.07 143.66,62.41 143.56,59.74Z" fill="#dcdcdc" stroke="#4a4a4a" stroke-width="0.55"/><path d="M144.61,59.61C144.52,57.25 145.45,54.48 146.33,52.67C147.20,50.86 148.47,49.64 149.84,48.77C151.20,47.90 152.90,47.38 154.52,47.45C156.13,47.51 158.08,48.62 159.51,49.16C160.94,49.71 162.11,50.01 163.10,50.72C164.08,51.44 164.92,52.22 165.44,53.45C165.96,54.69 166.35,56.57 166.22,58.13C166.09,59.69 165.63,61.38 164.66,62.81C163.68,64.24 162.42,65.59 160.37,66.71C158.31,67.83 154.58,69.49 152.33,69.52C150.08,69.55 148.16,68.52 146.87,66.87C145.58,65.22 144.70,61.98 144.61,59.61Z" fill="#bcbcbc" stroke="#4a4a4a" stroke-width="0.55"/><path d="M145.66,59.48C145.58,57.42 146.40,55.01 147.16,53.43C147.92,51.86 149.03,50.79 150.22,50.03C151.41,49.27 152.89,48.82 154.30,48.88C155.70,48.93 157.40,49.90 158.65,50.37C159.89,50.85 160.91,51.11 161.78,51.73C162.64,52.36 163.36,53.04 163.82,54.11C164.27,55.19 164.61,56.83 164.50,58.19C164.38,59.55 163.99,61.03 163.14,62.27C162.29,63.52 161.19,64.70 159.40,65.67C157.61,66.65 154.35,68.10 152.39,68.12C150.43,68.14 148.75,67.25 147.63,65.81C146.51,64.37 145.74,61.55 145.66,59.48Z" fill="#969696" stroke="#4a4a4a" stroke-width="0.55"/><path d="M146.71,59.35C146.64,57.59 147.34,55.54 147.99,54.19C148.63,52.85 149.58,51.94 150.60,51.29C151.61,50.64 152.88,50.26 154.08,50.31C155.27,50.35 156.72,51.18 157.79,51.58C158.85,51.99 159.72,52.21 160.46,52.74C161.19,53.27 161.81,53.85 162.20,54.77C162.58,55.69 162.87,57.09 162.78,58.25C162.68,59.41 162.34,60.67 161.62,61.73C160.89,62.80 159.95,63.80 158.43,64.63C156.90,65.46 154.12,66.70 152.45,66.72C150.78,66.74 149.35,65.98 148.39,64.75C147.44,63.52 146.78,61.11 146.71,59.35Z" fill="#6e6e6e" stroke="#4a4a4a" stroke-width="0.55"/><path d="M147.76,59.22C147.70,57.77 148.28,56.06 148.82,54.95C149.35,53.84 150.14,53.09 150.98,52.55C151.82,52.02 152.86,51.70 153.86,51.74C154.85,51.78 156.05,52.46 156.93,52.79C157.81,53.13 158.53,53.31 159.14,53.75C159.74,54.19 160.26,54.67 160.58,55.43C160.90,56.19 161.14,57.35 161.06,58.31C160.98,59.27 160.70,60.31 160.10,61.19C159.50,62.07 158.72,62.90 157.46,63.59C156.19,64.28 153.90,65.30 152.51,65.32C151.13,65.34 149.94,64.70 149.15,63.69C148.36,62.67 147.82,60.68 147.76,59.22Z" fill="#4a4a4a" stroke="#4a4a4a" stroke-width="0.55"/><path d="M148.81,59.09C148.77,57.94 149.22,56.59 149.65,55.71C150.07,54.83 150.69,54.24 151.36,53.81C152.02,53.39 152.85,53.13 153.64,53.17C154.42,53.20 155.37,53.74 156.07,54.00C156.76,54.27 157.33,54.41 157.82,54.76C158.30,55.11 158.70,55.49 158.96,56.09C159.21,56.69 159.40,57.61 159.34,58.37C159.27,59.13 159.05,59.96 158.58,60.65C158.10,61.35 157.49,62.01 156.49,62.55C155.49,63.10 153.67,63.91 152.57,63.92C151.48,63.93 150.54,63.43 149.91,62.63C149.28,61.82 148.85,60.25 148.81,59.09Z" fill="#303030" stroke="#4a4a4a" stroke-width="0.55"/><path d="M149.65,58.99C149.62,58.08 149.97,57.02 150.31,56.32C150.65,55.62 151.13,55.16 151.66,54.82C152.19,54.48 152.84,54.29 153.46,54.31C154.08,54.34 154.83,54.76 155.38,54.97C155.93,55.18 156.38,55.30 156.76,55.57C157.14,55.84 157.46,56.15 157.66,56.62C157.86,57.10 158.01,57.82 157.96,58.42C157.91,59.02 157.74,59.67 157.36,60.22C156.99,60.77 156.50,61.29 155.71,61.72C154.92,62.15 153.49,62.79 152.62,62.80C151.75,62.81 151.02,62.41 150.52,61.78C150.03,61.15 149.69,59.90 149.65,58.99Z" fill="#222222" stroke="#4a4a4a" stroke-width="0.55"/><path d="M150.49,58.89C150.46,58.22 150.73,57.44 150.97,56.93C151.22,56.42 151.58,56.07 151.96,55.83C152.35,55.58 152.83,55.44 153.28,55.45C153.74,55.47 154.29,55.78 154.69,55.94C155.10,56.09 155.43,56.18 155.70,56.38C155.98,56.58 156.22,56.80 156.36,57.15C156.51,57.50 156.62,58.03 156.58,58.47C156.55,58.91 156.42,59.38 156.14,59.79C155.87,60.19 155.51,60.57 154.93,60.89C154.35,61.20 153.30,61.67 152.67,61.68C152.03,61.69 151.49,61.40 151.13,60.93C150.77,60.47 150.52,59.55 150.49,58.89Z" fill="#1a1a1a" stroke="#4a4a4a" stroke-width="0.55"/></g>
<ellipse cx="153.2" cy="58.6" rx="1.9" ry="1.6" fill="#fff" opacity="0.95" filter="url(#b0_5)"/>
<g><path d="M232.20,57.60C232.20,54.80 233.20,51.93 234.50,50.00C235.80,48.07 237.42,46.65 240.00,46.00C242.58,45.35 246.97,45.70 250.00,46.10C253.03,46.50 255.70,47.63 258.20,48.40C260.70,49.17 262.70,49.93 265.00,50.70C267.30,51.47 270.55,52.03 272.00,53.00C273.45,53.97 273.80,55.25 273.70,56.50C273.60,57.75 273.02,59.45 271.40,60.50C269.78,61.55 266.40,61.83 264.00,62.80C261.60,63.77 259.50,65.15 257.00,66.30C254.50,67.45 251.70,68.93 249.00,69.70C246.30,70.47 243.22,71.38 240.80,70.90C238.38,70.42 235.93,69.02 234.50,66.80C233.07,64.58 232.20,60.40 232.20,57.60Z" fill="#fafafa" stroke="#3a3a3a" stroke-width="0.75"/><path d="M233.40,57.74C233.40,55.33 234.26,52.87 235.38,51.20C236.50,49.54 237.89,48.32 240.11,47.76C242.33,47.21 246.10,47.51 248.71,47.85C251.32,48.19 253.61,49.17 255.76,49.83C257.91,50.49 259.63,51.15 261.61,51.81C263.59,52.47 266.38,52.95 267.63,53.78C268.88,54.62 269.18,55.72 269.09,56.79C269.01,57.87 268.51,59.33 267.12,60.23C265.73,61.14 262.82,61.38 260.75,62.21C258.69,63.04 256.88,64.23 254.73,65.22C252.58,66.21 250.17,67.49 247.85,68.15C245.53,68.81 242.88,69.59 240.80,69.18C238.72,68.76 236.61,67.56 235.38,65.65C234.15,63.75 233.40,60.15 233.40,57.74Z" fill="#f4f4f4" stroke="#4a4a4a" stroke-width="0.55"/><path d="M234.44,57.86C234.44,55.79 235.18,53.67 236.14,52.24C237.10,50.81 238.30,49.76 240.21,49.28C242.12,48.79 245.36,49.05 247.61,49.35C249.85,49.65 251.83,50.48 253.68,51.05C255.53,51.62 257.01,52.19 258.71,52.75C260.41,53.32 262.81,53.74 263.89,54.46C264.96,55.17 265.22,56.12 265.15,57.05C265.07,57.97 264.64,59.23 263.44,60.01C262.25,60.78 259.74,60.99 257.97,61.71C256.19,62.42 254.64,63.45 252.79,64.30C250.94,65.15 248.87,66.25 246.87,66.81C244.87,67.38 242.59,68.06 240.80,67.70C239.01,67.34 237.20,66.31 236.14,64.67C235.08,63.03 234.44,59.93 234.44,57.86Z" fill="#ececec" stroke="#4a4a4a" stroke-width="0.55"/><path d="M233.23,57.72C233.23,55.26 234.11,52.73 235.26,51.03C236.40,49.33 237.82,48.08 240.10,47.51C242.37,46.94 246.55,47.37 248.90,47.60C251.24,47.83 252.71,48.35 254.18,48.92C255.64,49.49 256.82,49.95 257.70,51.03C258.58,52.12 259.16,53.82 259.46,55.43C259.75,57.05 259.90,59.17 259.46,60.71C259.02,62.25 258.14,63.57 256.82,64.67C255.50,65.77 253.44,66.58 251.54,67.31C249.63,68.05 247.17,68.72 245.38,69.07C243.59,69.42 242.49,69.97 240.80,69.42C239.11,68.88 236.52,67.77 235.26,65.82C233.99,63.87 233.23,60.18 233.23,57.72Z" fill="#dcdcdc" stroke="#4a4a4a" stroke-width="0.55"/><path d="M234.09,57.82C234.09,55.64 234.87,53.40 235.89,51.89C236.90,50.38 238.16,49.28 240.18,48.77C242.19,48.27 245.90,48.64 247.98,48.85C250.06,49.06 251.36,49.51 252.66,50.02C253.96,50.53 255.00,50.93 255.78,51.89C256.56,52.85 257.08,54.36 257.34,55.79C257.60,57.22 257.73,59.11 257.34,60.47C256.95,61.84 256.17,63.01 255.00,63.98C253.83,64.96 252.01,65.67 250.32,66.32C248.63,66.97 246.44,67.57 244.86,67.88C243.27,68.19 242.30,68.68 240.80,68.19C239.31,67.71 237.00,66.72 235.89,65.00C234.77,63.27 234.09,60.00 234.09,57.82Z" fill="#bcbcbc" stroke="#4a4a4a" stroke-width="0.55"/><path d="M234.95,57.92C234.95,56.02 235.63,54.07 236.52,52.75C237.40,51.44 238.50,50.47 240.26,50.03C242.01,49.59 245.24,49.92 247.06,50.10C248.87,50.28 250.00,50.68 251.14,51.12C252.27,51.56 253.18,51.91 253.86,52.75C254.54,53.59 254.99,54.91 255.22,56.15C255.44,57.40 255.56,59.04 255.22,60.23C254.88,61.42 254.20,62.44 253.18,63.29C252.16,64.14 250.57,64.77 249.10,65.33C247.62,65.90 245.72,66.42 244.34,66.69C242.95,66.96 242.10,67.38 240.80,66.96C239.50,66.54 237.49,65.68 236.52,64.18C235.54,62.67 234.95,59.82 234.95,57.92Z" fill="#969696" stroke="#4a4a4a" stroke-width="0.55"/><path d="M235.81,58.02C235.81,56.40 236.39,54.73 237.15,53.61C237.90,52.49 238.84,51.67 240.34,51.29C241.83,50.91 244.59,51.20 246.14,51.35C247.68,51.50 248.65,51.84 249.62,52.22C250.58,52.60 251.36,52.90 251.94,53.61C252.52,54.33 252.90,55.45 253.10,56.51C253.29,57.58 253.39,58.98 253.10,59.99C252.81,61.01 252.23,61.88 251.36,62.60C250.49,63.33 249.13,63.86 247.88,64.34C246.62,64.83 245.00,65.27 243.82,65.50C242.64,65.73 241.91,66.09 240.80,65.73C239.69,65.38 237.98,64.64 237.15,63.36C236.31,62.07 235.81,59.64 235.81,58.02Z" fill="#6e6e6e" stroke="#4a4a4a" stroke-width="0.55"/><path d="M236.67,58.12C236.67,56.78 237.15,55.40 237.78,54.47C238.40,53.54 239.18,52.86 240.42,52.55C241.66,52.24 243.94,52.47 245.22,52.60C246.50,52.73 247.30,53.01 248.10,53.32C248.90,53.63 249.54,53.88 250.02,54.47C250.50,55.06 250.82,55.99 250.98,56.87C251.14,57.75 251.22,58.91 250.98,59.75C250.74,60.59 250.26,61.31 249.54,61.91C248.82,62.51 247.70,62.95 246.66,63.35C245.62,63.75 244.27,64.12 243.30,64.31C242.32,64.50 241.72,64.80 240.80,64.50C239.88,64.21 238.46,63.60 237.78,62.54C237.09,61.47 236.67,59.46 236.67,58.12Z" fill="#4a4a4a" stroke="#4a4a4a" stroke-width="0.55"/><path d="M237.53,58.22C237.53,57.16 237.91,56.07 238.41,55.33C238.90,54.60 239.51,54.06 240.50,53.81C241.48,53.56 243.28,53.75 244.30,53.85C245.31,53.95 245.94,54.17 246.58,54.42C247.21,54.67 247.72,54.86 248.10,55.33C248.48,55.80 248.73,56.54 248.86,57.23C248.98,57.93 249.05,58.85 248.86,59.51C248.67,60.18 248.29,60.75 247.72,61.22C247.15,61.70 246.26,62.05 245.44,62.36C244.61,62.68 243.55,62.97 242.78,63.12C242.00,63.27 241.53,63.51 240.80,63.27C240.07,63.04 238.95,62.56 238.41,61.72C237.86,60.87 237.53,59.28 237.53,58.22Z" fill="#303030" stroke="#4a4a4a" stroke-width="0.55"/><path d="M238.22,58.30C238.22,57.46 238.52,56.60 238.91,56.02C239.30,55.44 239.78,55.02 240.56,54.82C241.34,54.62 242.76,54.77 243.56,54.85C244.36,54.93 244.86,55.11 245.36,55.30C245.86,55.50 246.26,55.65 246.56,56.02C246.86,56.39 247.06,56.97 247.16,57.52C247.26,58.07 247.31,58.80 247.16,59.32C247.01,59.84 246.71,60.30 246.26,60.67C245.81,61.05 245.11,61.32 244.46,61.57C243.81,61.82 242.97,62.05 242.36,62.17C241.75,62.29 241.38,62.48 240.80,62.29C240.23,62.11 239.34,61.73 238.91,61.06C238.48,60.40 238.22,59.14 238.22,58.30Z" fill="#222222" stroke="#4a4a4a" stroke-width="0.55"/><path d="M238.91,58.38C238.91,57.76 239.13,57.13 239.41,56.71C239.70,56.28 240.06,55.97 240.62,55.83C241.19,55.69 242.24,55.79 242.82,55.85C243.41,55.91 243.78,56.04 244.14,56.18C244.51,56.32 244.80,56.44 245.02,56.71C245.24,56.98 245.39,57.40 245.46,57.81C245.54,58.21 245.57,58.74 245.46,59.13C245.35,59.51 245.13,59.84 244.80,60.12C244.47,60.39 243.96,60.59 243.48,60.78C243.01,60.96 242.39,61.13 241.94,61.22C241.50,61.31 241.22,61.44 240.80,61.31C240.38,61.17 239.73,60.89 239.41,60.40C239.10,59.92 238.91,59.00 238.91,58.38Z" fill="#1a1a1a" stroke="#4a4a4a" stroke-width="0.55"/></g>
<ellipse cx="241.8" cy="58.8" rx="1.9" ry="1.5" fill="#fff" opacity="0.95" filter="url(#b0_5)"/>
<g><path d="M324.90,58.20C325.17,56.22 325.65,53.27 327.00,51.50C328.35,49.73 330.17,48.15 333.00,47.60C335.83,47.05 341.02,47.60 344.00,48.20C346.98,48.80 349.32,49.68 350.90,51.20C352.48,52.72 353.37,55.27 353.50,57.30C353.63,59.33 353.00,61.67 351.70,63.40C350.40,65.13 348.28,66.48 345.70,67.70C343.12,68.92 339.08,70.70 336.20,70.70C333.32,70.70 330.20,68.92 328.40,67.70C326.60,66.48 325.98,64.98 325.40,63.40C324.82,61.82 324.63,60.18 324.90,58.20Z" fill="#fafafa" stroke="#3a3a3a" stroke-width="0.75"/><path d="M325.89,58.33C326.13,56.55 326.56,53.89 327.78,52.30C329.00,50.71 330.63,49.28 333.18,48.79C335.73,48.30 340.39,48.79 343.08,49.33C345.76,49.87 347.86,50.66 349.29,52.03C350.71,53.40 351.51,55.69 351.63,57.52C351.75,59.35 351.18,61.45 350.01,63.01C348.84,64.57 346.94,65.78 344.61,66.88C342.29,67.97 338.66,69.58 336.06,69.58C333.46,69.58 330.66,67.97 329.04,66.88C327.42,65.78 326.86,64.44 326.34,63.01C325.81,61.59 325.65,60.12 325.89,58.33Z" fill="#e8e8e8" stroke="#4a4a4a" stroke-width="0.55"/><path d="M326.88,58.46C327.09,56.87 327.48,54.51 328.56,53.10C329.64,51.69 331.09,50.42 333.36,49.98C335.63,49.54 339.77,49.98 342.16,50.46C344.55,50.94 346.41,51.65 347.68,52.86C348.95,54.07 349.65,56.11 349.76,57.74C349.87,59.37 349.36,61.23 348.32,62.62C347.28,64.01 345.59,65.09 343.52,66.06C341.45,67.03 338.23,68.46 335.92,68.46C333.61,68.46 331.12,67.03 329.68,66.06C328.24,65.09 327.75,63.89 327.28,62.62C326.81,61.35 326.67,60.05 326.88,58.46Z" fill="#c8c8c8" stroke="#4a4a4a" stroke-width="0.55"/><path d="M327.87,58.59C328.06,57.20 328.40,55.14 329.34,53.90C330.29,52.66 331.56,51.55 333.54,51.17C335.52,50.79 339.15,51.17 341.24,51.59C343.33,52.01 344.96,52.63 346.07,53.69C347.18,54.75 347.80,56.54 347.89,57.96C347.98,59.38 347.54,61.02 346.63,62.23C345.72,63.44 344.24,64.39 342.43,65.24C340.62,66.09 337.80,67.34 335.78,67.34C333.76,67.34 331.58,66.09 330.32,65.24C329.06,64.39 328.63,63.34 328.22,62.23C327.81,61.12 327.68,59.98 327.87,58.59Z" fill="#a0a0a0" stroke="#4a4a4a" stroke-width="0.55"/><path d="M328.86,58.72C329.02,57.53 329.31,55.76 330.12,54.70C330.93,53.64 332.02,52.69 333.72,52.36C335.42,52.03 338.53,52.36 340.32,52.72C342.11,53.08 343.51,53.61 344.46,54.52C345.41,55.43 345.94,56.96 346.02,58.18C346.10,59.40 345.72,60.80 344.94,61.84C344.16,62.88 342.89,63.69 341.34,64.42C339.79,65.15 337.37,66.22 335.64,66.22C333.91,66.22 332.04,65.15 330.96,64.42C329.88,63.69 329.51,62.79 329.16,61.84C328.81,60.89 328.70,59.91 328.86,58.72Z" fill="#767676" stroke="#4a4a4a" stroke-width="0.55"/><path d="M329.85,58.85C329.98,57.86 330.22,56.38 330.90,55.50C331.57,54.62 332.48,53.82 333.90,53.55C335.32,53.27 337.91,53.55 339.40,53.85C340.89,54.15 342.06,54.59 342.85,55.35C343.64,56.11 344.08,57.38 344.15,58.40C344.22,59.42 343.90,60.58 343.25,61.45C342.60,62.32 341.54,62.99 340.25,63.60C338.96,64.21 336.94,65.10 335.50,65.10C334.06,65.10 332.50,64.21 331.60,63.60C330.70,62.99 330.39,62.24 330.10,61.45C329.81,60.66 329.72,59.84 329.85,58.85Z" fill="#4c4c4c" stroke="#4a4a4a" stroke-width="0.55"/><path d="M330.84,58.98C330.95,58.19 331.14,57.01 331.68,56.30C332.22,55.59 332.95,54.96 334.08,54.74C335.21,54.52 337.29,54.74 338.48,54.98C339.67,55.22 340.61,55.57 341.24,56.18C341.87,56.79 342.23,57.81 342.28,58.62C342.33,59.43 342.08,60.37 341.56,61.06C341.04,61.75 340.19,62.29 339.16,62.78C338.13,63.27 336.51,63.98 335.36,63.98C334.21,63.98 332.96,63.27 332.24,62.78C331.52,62.29 331.27,61.69 331.04,61.06C330.81,60.43 330.73,59.77 330.84,58.98Z" fill="#303030" stroke="#4a4a4a" stroke-width="0.55"/><path d="M331.83,59.11C331.91,58.52 332.06,57.63 332.46,57.10C332.87,56.57 333.41,56.09 334.26,55.93C335.11,55.77 336.67,55.93 337.56,56.11C338.45,56.29 339.15,56.56 339.63,57.01C340.11,57.47 340.37,58.23 340.41,58.84C340.45,59.45 340.26,60.15 339.87,60.67C339.48,61.19 338.84,61.59 338.07,61.96C337.30,62.33 336.09,62.86 335.22,62.86C334.36,62.86 333.42,62.33 332.88,61.96C332.34,61.59 332.16,61.15 331.98,60.67C331.81,60.20 331.75,59.70 331.83,59.11Z" fill="#202020" stroke="#4a4a4a" stroke-width="0.55"/><path d="M332.82,59.24C332.87,58.84 332.97,58.25 333.24,57.90C333.51,57.55 333.87,57.23 334.44,57.12C335.01,57.01 336.04,57.12 336.64,57.24C337.24,57.36 337.70,57.54 338.02,57.84C338.34,58.14 338.51,58.65 338.54,59.06C338.57,59.47 338.44,59.93 338.18,60.28C337.92,60.63 337.50,60.90 336.98,61.14C336.46,61.38 335.66,61.74 335.08,61.74C334.50,61.74 333.88,61.38 333.52,61.14C333.16,60.90 333.04,60.60 332.92,60.28C332.80,59.96 332.77,59.64 332.82,59.24Z" fill="#181818" stroke="#4a4a4a" stroke-width="0.55"/></g>
<ellipse cx="335.3" cy="59.9" rx="2.3" ry="1.9" fill="#fff" opacity="0.95" filter="url(#b0_5)"/>
<rect x="78.5" y="36.5" width="31.799999999999997" height="40.5" fill="none" stroke="#858585" stroke-width="1"/>
<rect x="170.3" y="36.5" width="31.399999999999977" height="40.5" fill="none" stroke="#858585" stroke-width="1"/>
<rect x="260.5" y="35.8" width="31.5" height="40.7" fill="none" stroke="#858585" stroke-width="1"/>
<rect x="351.6" y="35.6" width="32.0" height="40.699999999999996" fill="none" stroke="#858585" stroke-width="1"/>
<text x="71.6" y="88.3" font-size="9.5" text-anchor="start" font-weight="normal" fill="#111" style="stroke:none" >4.09 ± 0.85</text>
<text x="162.8" y="88.3" font-size="9.5" text-anchor="start" font-weight="normal" fill="#111" style="stroke:none" >8.49 ± 1.58</text>
<text x="253.6" y="88.3" font-size="9.5" text-anchor="start" font-weight="normal" fill="#111" style="stroke:none" >4.46 ± 1.30</text>
<text x="358" y="88.3" font-size="9.5" text-anchor="start" font-weight="normal" fill="#111" style="stroke:none" >0.84</text>
<line x1="34.2" y1="53.7" x2="34.2" y2="116.3" stroke="#000" stroke-width="2.4"/>
<polygon points="34.2,45.5 29.400000000000002,54.2 39.0,54.2" fill="#000"/>
<text x="0" y="0" font-size="12.9" text-anchor="middle" font-weight="normal" fill="#111" transform="translate(27.3 85.3) rotate(-90)">MHC-II</text>
<line x1="42.5" y1="125.6" x2="281.3" y2="125.6" stroke="#000" stroke-width="2.2"/>
<polygon points="289.8,125.6 280.8,121.0 280.8,130.2" fill="#000"/>
<text x="54.6" y="139.6" font-size="12.4" text-anchor="start" font-weight="normal" fill="#111" >Ki-67</text>
<line x1="315.9" y1="125.3" x2="377.7" y2="125.3" stroke="#000" stroke-width="2.2"/>
<polygon points="387.2,125.3 377.2,120.7 377.2,129.9" fill="#000"/>
<text x="328.2" y="139.3" font-size="12.4" text-anchor="start" font-weight="normal" fill="#111" >Isotype ctrl.</text>
<line x1="468.2" y1="86.825" x2="468.2" y2="80.45" stroke="#333" stroke-width="1.3"/>
<line x1="464.4" y1="80.45" x2="472.0" y2="80.45" stroke="#333" stroke-width="1.3"/>
<rect x="461.4" y="86.825" width="13.600000000000023" height="30.674999999999997" fill="#fff" stroke="#333" stroke-width="1.2"/>
<line x1="488.04999999999995" y1="53.824999999999996" x2="488.04999999999995" y2="41.974999999999994" stroke="#333" stroke-width="1.3"/>
<line x1="484.24999999999994" y1="41.974999999999994" x2="491.84999999999997" y2="41.974999999999994" stroke="#333" stroke-width="1.3"/>
<rect x="481.4" y="53.824999999999996" width="13.300000000000011" height="63.675000000000004" fill="#b0b0b0" stroke="#333" stroke-width="1.2"/>
<line x1="507.85" y1="84.05" x2="507.85" y2="74.30000000000001" stroke="#333" stroke-width="1.3"/>
<line x1="504.05" y1="74.30000000000001" x2="511.65000000000003" y2="74.30000000000001" stroke="#333" stroke-width="1.3"/>
<rect x="501" y="84.05" width="13.700000000000045" height="33.45" fill="#333" stroke="#333" stroke-width="1.2"/>
<line x1="458" y1="27.5" x2="458" y2="117.5" stroke="#222" stroke-width="1.4"/>
<line x1="457.3" y1="117.5" x2="515.5" y2="117.5" stroke="#222" stroke-width="1.4"/>
<line x1="455" y1="117.5" x2="458" y2="117.5" stroke="#222" stroke-width="1.2"/>
<text x="452.79999999999995" y="122.6" font-size="12.4" text-anchor="end" fill="#111">0</text>
<line x1="455" y1="102.5" x2="458" y2="102.5" stroke="#222" stroke-width="1.2"/>
<text x="452.79999999999995" y="107.6" font-size="12.4" text-anchor="end" fill="#111">2</text>
<line x1="455" y1="87.5" x2="458" y2="87.5" stroke="#222" stroke-width="1.2"/>
<text x="452.79999999999995" y="92.6" font-size="12.4" text-anchor="end" fill="#111">4</text>
<line x1="455" y1="72.5" x2="458" y2="72.5" stroke="#222" stroke-width="1.2"/>
<text x="452.79999999999995" y="77.6" font-size="12.4" text-anchor="end" fill="#111">6</text>
<line x1="455" y1="57.5" x2="458" y2="57.5" stroke="#222" stroke-width="1.2"/>
<text x="452.79999999999995" y="62.6" font-size="12.4" text-anchor="end" fill="#111">8</text>
<line x1="455" y1="42.5" x2="458" y2="42.5" stroke="#222" stroke-width="1.2"/>
<text x="452.79999999999995" y="47.6" font-size="12.4" text-anchor="end" fill="#111">10</text>
<line x1="455" y1="27.5" x2="458" y2="27.5" stroke="#222" stroke-width="1.2"/>
<text x="452.79999999999995" y="32.6" font-size="12.4" text-anchor="end" fill="#111">12</text>
<line x1="468.2" y1="117.5" x2="468.2" y2="120.0" stroke="#222" stroke-width="1.1"/>
<line x1="488.04999999999995" y1="117.5" x2="488.04999999999995" y2="120.0" stroke="#222" stroke-width="1.1"/>
<line x1="507.85" y1="117.5" x2="507.85" y2="120.0" stroke="#222" stroke-width="1.1"/>
<text x="0" y="0" font-size="13" text-anchor="end" fill="#111" transform="translate(472.0 128.29999999999998) rotate(-45)">Cre</text>
<text x="0" y="0" font-size="13" text-anchor="end" fill="#111" transform="translate(491.84999999999997 128.29999999999998) rotate(-45)">rap<tspan font-size="7.6" dy="-4.2">Δ/Δ</tspan></text>
<text x="0" y="0" font-size="13" text-anchor="end" fill="#111" transform="translate(511.65000000000003 128.29999999999998) rotate(-45)">ric<tspan font-size="7.6" dy="-4.2">Δ/Δ</tspan></text>
<text x="0" y="0" font-size="12.7" text-anchor="middle" fill="#111" transform="translate(425.2 72.5) rotate(-90)">% proliferated</text>
<line x1="468" y1="34.6" x2="485.7" y2="34.6" stroke="#000" stroke-width="2"/>
<text x="477.05" y="36.2" font-size="18" text-anchor="middle" font-weight="bold" fill="#000">*</text>
<line x1="373.95" y1="224.54575" x2="373.95" y2="214.81075" stroke="#333" stroke-width="1.3"/>
<line x1="370.15" y1="214.81075" x2="377.75" y2="214.81075" stroke="#333" stroke-width="1.3"/>
<rect x="367.2" y="224.54575" width="13.5" height="40.75425000000001" fill="#fff" stroke="#333" stroke-width="1.2"/>
<line x1="393.95" y1="210.20875" x2="393.95" y2="191.71225000000004" stroke="#333" stroke-width="1.3"/>
<line x1="390.15" y1="191.71225000000004" x2="397.75" y2="191.71225000000004" stroke="#333" stroke-width="1.3"/>
<rect x="387.2" y="210.20875" width="13.5" height="55.09125" fill="#b0b0b0" stroke="#333" stroke-width="1.2"/>
<line x1="413.95000000000005" y1="224.54575" x2="413.95000000000005" y2="215.6515" stroke="#333" stroke-width="1.3"/>
<line x1="410.15000000000003" y1="215.6515" x2="417.75000000000006" y2="215.6515" stroke="#333" stroke-width="1.3"/>
<rect x="407.3" y="224.54575" width="13.300000000000011" height="40.75425000000001" fill="#333" stroke="#333" stroke-width="1.2"/>
<line x1="363.6" y1="176.8" x2="363.6" y2="265.3" stroke="#222" stroke-width="1.4"/>
<line x1="362.90000000000003" y1="265.3" x2="423.6" y2="265.3" stroke="#222" stroke-width="1.4"/>
<line x1="360.6" y1="265.3" x2="363.6" y2="265.3" stroke="#222" stroke-width="1.2"/>
<text x="359.0" y="270.40000000000003" font-size="12.4" text-anchor="end" fill="#111">0</text>
<line x1="360.6" y1="243.175" x2="363.6" y2="243.175" stroke="#222" stroke-width="1.2"/>
<text x="359.0" y="248.275" font-size="12.4" text-anchor="end" fill="#111">5</text>
<line x1="360.6" y1="221.05" x2="363.6" y2="221.05" stroke="#222" stroke-width="1.2"/>
<text x="359.0" y="226.15" font-size="12.4" text-anchor="end" fill="#111">10</text>
<line x1="360.6" y1="198.925" x2="363.6" y2="198.925" stroke="#222" stroke-width="1.2"/>
<text x="359.0" y="204.025" font-size="12.4" text-anchor="end" fill="#111">15</text>
<line x1="360.6" y1="176.8" x2="363.6" y2="176.8" stroke="#222" stroke-width="1.2"/>
<text x="359.0" y="181.9" font-size="12.4" text-anchor="end" fill="#111">20</text>
<line x1="373.95" y1="265.3" x2="373.95" y2="267.8" stroke="#222" stroke-width="1.1"/>
<line x1="393.95" y1="265.3" x2="393.95" y2="267.8" stroke="#222" stroke-width="1.1"/>
<line x1="413.95000000000005" y1="265.3" x2="413.95000000000005" y2="267.8" stroke="#222" stroke-width="1.1"/>
<text x="0" y="0" font-size="13" text-anchor="end" fill="#111" transform="translate(379.35 277.70000000000005) rotate(-45)">Cre</text>
<text x="0" y="0" font-size="13" text-anchor="end" fill="#111" transform="translate(399.35 277.70000000000005) rotate(-45)">rap<tspan font-size="7.6" dy="-4.2">Δ/Δ</tspan></text>
<text x="0" y="0" font-size="13" text-anchor="end" fill="#111" transform="translate(419.3500000000001 277.70000000000005) rotate(-45)">ric<tspan font-size="7.6" dy="-4.2">Δ/Δ</tspan></text>
<text x="0" y="0" font-size="12.7" text-anchor="middle" fill="#111" transform="translate(334 220.2) rotate(-90)">% dead</text>
<line x1="374.5" y1="379.31600000000003" x2="374.5" y2="370.1666" stroke="#333" stroke-width="1.3"/>
<line x1="370.7" y1="370.1666" x2="378.3" y2="370.1666" stroke="#333" stroke-width="1.3"/>
<rect x="367.6" y="379.31600000000003" width="13.799999999999955" height="34.68399999999997" fill="#fff" stroke="#333" stroke-width="1.2"/>
<line x1="394.35" y1="356.77139999999997" x2="394.35" y2="338.4128" stroke="#333" stroke-width="1.3"/>
<line x1="390.55" y1="338.4128" x2="398.15000000000003" y2="338.4128" stroke="#333" stroke-width="1.3"/>
<rect x="387.7" y="356.77139999999997" width="13.300000000000011" height="57.22860000000003" fill="#b0b0b0" stroke="#333" stroke-width="1.2"/>
<line x1="414.0" y1="394.1464" x2="414.0" y2="391.575" stroke="#333" stroke-width="1.3"/>
<line x1="410.2" y1="391.575" x2="417.8" y2="391.575" stroke="#333" stroke-width="1.3"/>
<rect x="407.2" y="394.1464" width="13.600000000000023" height="19.85359999999997" fill="#333" stroke="#333" stroke-width="1.2"/>
<line x1="363.4" y1="324.3" x2="363.4" y2="414" stroke="#222" stroke-width="1.4"/>
<line x1="362.7" y1="414" x2="423.6" y2="414" stroke="#222" stroke-width="1.4"/>
<line x1="360.4" y1="414.0" x2="363.4" y2="414.0" stroke="#222" stroke-width="1.2"/>
<text x="359.59999999999997" y="419.1" font-size="12.4" text-anchor="end" fill="#111">0</text>
<line x1="360.4" y1="384.1" x2="363.4" y2="384.1" stroke="#222" stroke-width="1.2"/>
<text x="359.59999999999997" y="389.20000000000005" font-size="12.4" text-anchor="end" fill="#111">5</text>
<line x1="360.4" y1="354.2" x2="363.4" y2="354.2" stroke="#222" stroke-width="1.2"/>
<text x="359.59999999999997" y="359.3" font-size="12.4" text-anchor="end" fill="#111">10</text>
<line x1="360.4" y1="324.3" x2="363.4" y2="324.3" stroke="#222" stroke-width="1.2"/>
<text x="359.59999999999997" y="329.40000000000003" font-size="12.4" text-anchor="end" fill="#111">15</text>
<line x1="374.5" y1="414" x2="374.5" y2="416.5" stroke="#222" stroke-width="1.1"/>
<line x1="394.35" y1="414" x2="394.35" y2="416.5" stroke="#222" stroke-width="1.1"/>
<line x1="414.0" y1="414" x2="414.0" y2="416.5" stroke="#222" stroke-width="1.1"/>
<text x="0" y="0" font-size="13" text-anchor="end" fill="#111" transform="translate(379.1 425.6) rotate(-45)">Cre</text>
<text x="0" y="0" font-size="13" text-anchor="end" fill="#111" transform="translate(398.95000000000005 425.6) rotate(-45)">rap<tspan font-size="7.6" dy="-4.2">Δ/Δ</tspan></text>
<text x="0" y="0" font-size="13" text-anchor="end" fill="#111" transform="translate(418.6 425.6) rotate(-45)">ric<tspan font-size="7.6" dy="-4.2">Δ/Δ</tspan></text>
<text x="0" y="0" font-size="12.7" text-anchor="middle" fill="#111" transform="translate(334 369) rotate(-90)">% apoptotic</text>
<line x1="374.0" y1="530.8736" x2="374.0" y2="527.8272" stroke="#333" stroke-width="1.3"/>
<line x1="370.2" y1="527.8272" x2="377.8" y2="527.8272" stroke="#333" stroke-width="1.3"/>
<rect x="367.3" y="530.8736" width="13.399999999999977" height="29.926399999999944" fill="#fff" stroke="#333" stroke-width="1.2"/>
<line x1="393.6" y1="504.8896" x2="393.6" y2="486.96959999999996" stroke="#333" stroke-width="1.3"/>
<line x1="389.8" y1="486.96959999999996" x2="397.40000000000003" y2="486.96959999999996" stroke="#333" stroke-width="1.3"/>
<rect x="387.2" y="504.8896" width="12.800000000000011" height="55.91039999999998" fill="#b0b0b0" stroke="#333" stroke-width="1.2"/>
<line x1="413.65" y1="519.2256" x2="413.65" y2="516.5376" stroke="#333" stroke-width="1.3"/>
<line x1="409.84999999999997" y1="516.5376" x2="417.45" y2="516.5376" stroke="#333" stroke-width="1.3"/>
<rect x="407" y="519.2256" width="13.300000000000011" height="41.57439999999997" fill="#333" stroke="#333" stroke-width="1.2"/>
<line x1="363" y1="471.2" x2="363" y2="560.8" stroke="#222" stroke-width="1.4"/>
<line x1="362.3" y1="560.8" x2="423.4" y2="560.8" stroke="#222" stroke-width="1.4"/>
<line x1="360" y1="560.8" x2="363" y2="560.8" stroke="#222" stroke-width="1.2"/>
<text x="358.4" y="565.9" font-size="12.4" text-anchor="end" fill="#111">0</text>
<line x1="360" y1="542.88" x2="363" y2="542.88" stroke="#222" stroke-width="1.2"/>
<text x="358.4" y="547.98" font-size="12.4" text-anchor="end" fill="#111">1</text>
<line x1="360" y1="524.9599999999999" x2="363" y2="524.9599999999999" stroke="#222" stroke-width="1.2"/>
<text x="358.4" y="530.06" font-size="12.4" text-anchor="end" fill="#111">2</text>
<line x1="360" y1="507.03999999999996" x2="363" y2="507.03999999999996" stroke="#222" stroke-width="1.2"/>
<text x="358.4" y="512.14" font-size="12.4" text-anchor="end" fill="#111">3</text>
<line x1="360" y1="489.12" x2="363" y2="489.12" stroke="#222" stroke-width="1.2"/>
<text x="358.4" y="494.22" font-size="12.4" text-anchor="end" fill="#111">4</text>
<line x1="360" y1="471.2" x2="363" y2="471.2" stroke="#222" stroke-width="1.2"/>
<text x="358.4" y="476.3" font-size="12.4" text-anchor="end" fill="#111">5</text>
<line x1="374.0" y1="560.8" x2="374.0" y2="563.3" stroke="#222" stroke-width="1.1"/>
<line x1="393.6" y1="560.8" x2="393.6" y2="563.3" stroke="#222" stroke-width="1.1"/>
<line x1="413.65" y1="560.8" x2="413.65" y2="563.3" stroke="#222" stroke-width="1.1"/>
<text x="0" y="0" font-size="13" text-anchor="end" fill="#111" transform="translate(377.1 573.1999999999999) rotate(-45)">Cre</text>
<text x="0" y="0" font-size="13" text-anchor="end" fill="#111" transform="translate(396.70000000000005 573.1999999999999) rotate(-45)">rap<tspan font-size="7.6" dy="-4.2">Δ/Δ</tspan></text>
<text x="0" y="0" font-size="13" text-anchor="end" fill="#111" transform="translate(416.75 573.1999999999999) rotate(-45)">ric<tspan font-size="7.6" dy="-4.2">Δ/Δ</tspan></text>
<text x="0" y="0" font-size="12.7" text-anchor="middle" fill="#111" transform="translate(334.2 516.3) rotate(-90)">% apoptotic</text>
<rect x="43" y="184.5" width="80.7" height="80.19999999999999" fill="#fff" stroke="#7a7a7a" stroke-width="1"/>
<path d="M41.4,258.3h1.6 M49.5,264.7v1.6 M41.4,251.0h1.6 M56.7,264.7v1.6 M41.4,246.8h1.6 M61.0,264.7v1.6 M41.4,243.8h1.6 M64.0,264.7v1.6 M41.4,241.5h1.6 M66.4,264.7v1.6 M41.4,239.6h1.6 M68.3,264.7v1.6 M41.4,238.0h1.6 M69.9,264.7v1.6 M41.4,236.6h1.6 M71.3,264.7v1.6 M41.4,235.3h1.6 M72.6,264.7v1.6 M41.4,234.2h1.6 M73.7,264.7v1.6 M41.4,227.0h1.6 M81.0,264.7v1.6 M41.4,222.7h1.6 M85.2,264.7v1.6 M41.4,219.7h1.6 M88.2,264.7v1.6 M41.4,217.4h1.6 M90.6,264.7v1.6 M41.4,215.5h1.6 M92.5,264.7v1.6 M41.4,213.9h1.6 M94.1,264.7v1.6 M41.4,212.5h1.6 M95.5,264.7v1.6 M41.4,211.3h1.6 M96.8,264.7v1.6 M41.4,210.2h1.6 M97.9,264.7v1.6 M41.4,202.9h1.6 M105.2,264.7v1.6 M41.4,198.7h1.6 M109.4,264.7v1.6 M41.4,195.7h1.6 M112.5,264.7v1.6 M41.4,193.3h1.6 M114.8,264.7v1.6 M41.4,191.4h1.6 M116.7,264.7v1.6 M41.4,189.8h1.6 M118.3,264.7v1.6 M41.4,188.4h1.6 M119.7,264.7v1.6 M41.4,187.2h1.6 M121.0,264.7v1.6 M41.4,186.1h1.6 M122.1,264.7v1.6" stroke="#7a7a7a" stroke-width="0.65" fill="none"/>
<rect x="134.5" y="184.5" width="80.30000000000001" height="80.19999999999999" fill="#fff" stroke="#7a7a7a" stroke-width="1"/>
<path d="M132.9,258.3h1.6 M140.9,264.7v1.6 M132.9,251.0h1.6 M148.2,264.7v1.6 M132.9,246.8h1.6 M152.4,264.7v1.6 M132.9,243.8h1.6 M155.4,264.7v1.6 M132.9,241.5h1.6 M157.8,264.7v1.6 M132.9,239.6h1.6 M159.7,264.7v1.6 M132.9,238.0h1.6 M161.3,264.7v1.6 M132.9,236.6h1.6 M162.7,264.7v1.6 M132.9,235.3h1.6 M163.9,264.7v1.6 M132.9,234.2h1.6 M165.0,264.7v1.6 M132.9,227.0h1.6 M172.3,264.7v1.6 M132.9,222.7h1.6 M176.5,264.7v1.6 M132.9,219.7h1.6 M179.5,264.7v1.6 M132.9,217.4h1.6 M181.9,264.7v1.6 M132.9,215.5h1.6 M183.8,264.7v1.6 M132.9,213.9h1.6 M185.4,264.7v1.6 M132.9,212.5h1.6 M186.8,264.7v1.6 M132.9,211.3h1.6 M188.0,264.7v1.6 M132.9,210.2h1.6 M189.1,264.7v1.6 M132.9,202.9h1.6 M196.4,264.7v1.6 M132.9,198.7h1.6 M200.6,264.7v1.6 M132.9,195.7h1.6 M203.6,264.7v1.6 M132.9,193.3h1.6 M205.9,264.7v1.6 M132.9,191.4h1.6 M207.8,264.7v1.6 M132.9,189.8h1.6 M209.5,264.7v1.6 M132.9,188.4h1.6 M210.9,264.7v1.6 M132.9,187.2h1.6 M212.1,264.7v1.6 M132.9,186.1h1.6 M213.2,264.7v1.6" stroke="#7a7a7a" stroke-width="0.65" fill="none"/>
<rect x="225" y="184.5" width="80.5" height="80.19999999999999" fill="#fff" stroke="#7a7a7a" stroke-width="1"/>
<path d="M223.4,258.3h1.6 M231.4,264.7v1.6 M223.4,251.0h1.6 M238.7,264.7v1.6 M223.4,246.8h1.6 M243.0,264.7v1.6 M223.4,243.8h1.6 M246.0,264.7v1.6 M223.4,241.5h1.6 M248.3,264.7v1.6 M223.4,239.6h1.6 M250.2,264.7v1.6 M223.4,238.0h1.6 M251.8,264.7v1.6 M223.4,236.6h1.6 M253.2,264.7v1.6 M223.4,235.3h1.6 M254.5,264.7v1.6 M223.4,234.2h1.6 M255.6,264.7v1.6 M223.4,227.0h1.6 M262.9,264.7v1.6 M223.4,222.7h1.6 M267.1,264.7v1.6 M223.4,219.7h1.6 M270.1,264.7v1.6 M223.4,217.4h1.6 M272.5,264.7v1.6 M223.4,215.5h1.6 M274.4,264.7v1.6 M223.4,213.9h1.6 M276.0,264.7v1.6 M223.4,212.5h1.6 M277.4,264.7v1.6 M223.4,211.3h1.6 M278.6,264.7v1.6 M223.4,210.2h1.6 M279.7,264.7v1.6 M223.4,202.9h1.6 M287.0,264.7v1.6 M223.4,198.7h1.6 M291.3,264.7v1.6 M223.4,195.7h1.6 M294.3,264.7v1.6 M223.4,193.3h1.6 M296.6,264.7v1.6 M223.4,191.4h1.6 M298.5,264.7v1.6 M223.4,189.8h1.6 M300.1,264.7v1.6 M223.4,188.4h1.6 M301.5,264.7v1.6 M223.4,187.2h1.6 M302.8,264.7v1.6 M223.4,186.1h1.6 M303.9,264.7v1.6" stroke="#7a7a7a" stroke-width="0.65" fill="none"/>
<text x="72" y="176" font-size="12.8" text-anchor="start" font-weight="normal" fill="#111" >Cre</text>
<text x="155.6" y="176" font-size="12.8" text-anchor="start" fill="#111" >rap<tspan font-size="8" dy="-4">Δ/Δ</tspan></text>
<text x="249.2" y="176" font-size="12.8" text-anchor="start" fill="#111" >ric<tspan font-size="8" dy="-4">Δ/Δ</tspan></text>
<clipPath id="cb1"><rect x="43.5" y="185" width="79.7" height="79.19999999999999"/></clipPath><g clip-path="url(#cb1)">
<g filter="url(#lumpy)">
<ellipse cx="57" cy="231.2" rx="4.2" ry="3.3" fill="#aaa" opacity="0.9" transform="rotate(0 57 231.2)" filter="url(#b1_3)"/>
<ellipse cx="67" cy="227.4" rx="6" ry="4.6" fill="#9a9a9a" opacity="0.9" transform="rotate(0 67 227.4)" filter="url(#b1_4)"/>
<ellipse cx="75" cy="229.5" rx="3" ry="2.6" fill="#b0b0b0" opacity="0.8" transform="rotate(0 75 229.5)" filter="url(#b1_2)"/>
<ellipse cx="81" cy="230.5" rx="3" ry="2.6" fill="#b0b0b0" opacity="0.8" transform="rotate(0 81 230.5)" filter="url(#b1_2)"/>
<ellipse cx="88.6" cy="225" rx="8" ry="4.2" fill="#9a9a9a" opacity="0.9" transform="rotate(-5 88.6 225)" filter="url(#b1_4)"/>
<ellipse cx="100.5" cy="223.5" rx="4.5" ry="3" fill="#a0a0a0" opacity="0.85" transform="rotate(0 100.5 223.5)" filter="url(#b1_3)"/>
<ellipse cx="107.5" cy="221.2" rx="4.2" ry="3" fill="#a5a5a5" opacity="0.85" transform="rotate(-15 107.5 221.2)" filter="url(#b1_3)"/>
<ellipse cx="104.8" cy="230.5" rx="2" ry="2" fill="#b0b0b0" opacity="0.8" transform="rotate(0 104.8 230.5)" filter="url(#b1)"/>
<ellipse cx="51.7" cy="247.4" rx="3.2" ry="3.2" fill="#c0c0c0" opacity="0.8" transform="rotate(0 51.7 247.4)" filter="url(#b1_4)"/>
<ellipse cx="94" cy="245" rx="31" ry="9.5" fill="#9a9a9a" opacity="0.95" transform="rotate(-5 94 245)" filter="url(#b2_3)"/>
<ellipse cx="109" cy="242" rx="14" ry="6" fill="#8a8a8a" opacity="0.9" transform="rotate(-4 109 242)" filter="url(#b2_1)"/>
<ellipse cx="80" cy="246.3" rx="18" ry="8.5" fill="#444" opacity="0.9" transform="rotate(-6 80 246.3)" filter="url(#b2_3)"/>
<ellipse cx="74" cy="246.5" rx="11.5" ry="6.5" fill="#000" opacity="1" transform="rotate(-6 74 246.5)" filter="url(#b1_8)"/>
</g></g>
<polyline points="46.3,264.5 46.3,253.5 64,238.5 88.6,235.4 124,235.4" fill="none" stroke="#555" stroke-width="1"/>
<clipPath id="cb2"><rect x="135" y="185" width="79.30000000000001" height="79.19999999999999"/></clipPath><g clip-path="url(#cb2)">
<g filter="url(#lumpy)">
<ellipse cx="147.3" cy="226.6" rx="1.7" ry="1.7" fill="#999" opacity="0.9" transform="rotate(0 147.3 226.6)" filter="url(#b0_8)"/>
<ellipse cx="145.8" cy="231.2" rx="3.2" ry="1.7" fill="#bbb" opacity="0.8" transform="rotate(0 145.8 231.2)" filter="url(#b1)"/>
<ellipse cx="175" cy="225.8" rx="1.8" ry="1.8" fill="#888" opacity="0.9" transform="rotate(0 175 225.8)" filter="url(#b0_8)"/>
<ellipse cx="183.5" cy="225" rx="3.2" ry="3.7" fill="#666" opacity="0.9" transform="rotate(0 183.5 225)" filter="url(#b1)"/>
<ellipse cx="189" cy="244" rx="24" ry="8" fill="#777" opacity="0.9" transform="rotate(-6 189 244)" filter="url(#b2_2)"/>
<ellipse cx="182" cy="244" rx="9" ry="6.5" fill="#111" opacity="0.95" transform="rotate(0 182 244)" filter="url(#b1_6)"/>
<ellipse cx="194" cy="242" rx="7" ry="5.5" fill="#333" opacity="0.9" transform="rotate(0 194 242)" filter="url(#b1_5)"/>
<ellipse cx="203" cy="241.5" rx="5" ry="4.5" fill="#555" opacity="0.9" transform="rotate(0 203 241.5)" filter="url(#b1_3)"/>
<ellipse cx="209" cy="239.7" rx="3.6" ry="3.6" fill="#555" opacity="0.9" transform="rotate(0 209 239.7)" filter="url(#b1_2)"/>
<ellipse cx="167" cy="246" rx="15" ry="8.5" fill="#000" opacity="1" transform="rotate(-4 167 246)" filter="url(#b1_8)"/>
</g></g>
<polyline points="137.3,264.5 137.3,253.5 154.2,238.5 178,235.4 215,235.8" fill="none" stroke="#555" stroke-width="1"/>
<clipPath id="cb3"><rect x="225.5" y="185" width="79.5" height="79.19999999999999"/></clipPath><g clip-path="url(#cb3)">
<g filter="url(#lumpy)">
<ellipse cx="239" cy="229.7" rx="7" ry="4.5" fill="#5a5a5a" opacity="0.9" transform="rotate(-10 239 229.7)" filter="url(#b1_5)"/>
<ellipse cx="250.6" cy="225" rx="3.3" ry="3.3" fill="#999" opacity="0.85" transform="rotate(0 250.6 225)" filter="url(#b1_3)"/>
<ellipse cx="270.6" cy="224.3" rx="7" ry="3.8" fill="#999" opacity="0.85" transform="rotate(0 270.6 224.3)" filter="url(#b1_5)"/>
<ellipse cx="280.6" cy="225" rx="1.8" ry="1.8" fill="#aaa" opacity="0.8" transform="rotate(0 280.6 225)" filter="url(#b1)"/>
<ellipse cx="273" cy="244.5" rx="30" ry="10" fill="#8a8a8a" opacity="0.95" transform="rotate(-5 273 244.5)" filter="url(#b2_3)"/>
<ellipse cx="290" cy="242" rx="11" ry="5.5" fill="#8a8a8a" opacity="0.9" transform="rotate(0 290 242)" filter="url(#b2)"/>
<ellipse cx="259" cy="246" rx="18" ry="9" fill="#3a3a3a" opacity="0.9" transform="rotate(-8 259 246)" filter="url(#b2_2)"/>
<ellipse cx="254" cy="246.5" rx="12.5" ry="7" fill="#000" opacity="1" transform="rotate(-10 254 246.5)" filter="url(#b1_8)"/>
<circle cx="259" cy="229" r="3.6" fill="none" stroke="#aaa" stroke-width="2.2" filter="url(#b1)"/>
</g></g>
<polyline points="228.3,264.5 228.3,253.5 246,238.5 270.6,235.4 305.5,235.4" fill="none" stroke="#555" stroke-width="1"/>
<text x="60.6" y="204.9" font-size="9.6" text-anchor="start" font-weight="normal" fill="#111" style="stroke:none" >9.21 ± 2.20</text>
<text x="149.3" y="204.9" font-size="9.6" text-anchor="start" font-weight="normal" fill="#111" style="stroke:none" >12.45 ± 4.18</text>
<text x="242.1" y="204.9" font-size="9.6" text-anchor="start" font-weight="normal" fill="#111" style="stroke:none" >9.21 ± 2.01</text>
<line x1="35" y1="201.9" x2="35" y2="264.5" stroke="#000" stroke-width="2.4"/>
<polygon points="35,193.5 30.2,202.4 39.8,202.4" fill="#000"/>
<text x="0" y="0" font-size="12.6" text-anchor="middle" font-weight="normal" fill="#111" transform="translate(27.3 228.7) rotate(-90)">violet-1</text>
<line x1="43" y1="276.6" x2="281.5" y2="276.6" stroke="#000" stroke-width="2.2"/>
<polygon points="290,276.6 281,272.0 281,281.20000000000005" fill="#000"/>
<text x="55.8" y="289.8" font-size="12.5" text-anchor="start" font-weight="normal" fill="#111" >FSC</text>
<rect x="43" y="333.2" width="80.7" height="80.80000000000001" fill="#fff" stroke="#7a7a7a" stroke-width="1"/>
<path d="M41.4,407.5h1.6 M49.5,414v1.6 M41.4,400.2h1.6 M56.7,414v1.6 M41.4,396.0h1.6 M61.0,414v1.6 M41.4,392.9h1.6 M64.0,414v1.6 M41.4,390.6h1.6 M66.4,414v1.6 M41.4,388.7h1.6 M68.3,414v1.6 M41.4,387.1h1.6 M69.9,414v1.6 M41.4,385.6h1.6 M71.3,414v1.6 M41.4,384.4h1.6 M72.6,414v1.6 M41.4,383.3h1.6 M73.7,414v1.6 M41.4,376.0h1.6 M81.0,414v1.6 M41.4,371.7h1.6 M85.2,414v1.6 M41.4,368.7h1.6 M88.2,414v1.6 M41.4,366.4h1.6 M90.6,414v1.6 M41.4,364.4h1.6 M92.5,414v1.6 M41.4,362.8h1.6 M94.1,414v1.6 M41.4,361.4h1.6 M95.5,414v1.6 M41.4,360.2h1.6 M96.8,414v1.6 M41.4,359.1h1.6 M97.9,414v1.6 M41.4,351.8h1.6 M105.2,414v1.6 M41.4,347.5h1.6 M109.4,414v1.6 M41.4,344.5h1.6 M112.5,414v1.6 M41.4,342.1h1.6 M114.8,414v1.6 M41.4,340.2h1.6 M116.7,414v1.6 M41.4,338.6h1.6 M118.3,414v1.6 M41.4,337.2h1.6 M119.7,414v1.6 M41.4,335.9h1.6 M121.0,414v1.6 M41.4,334.8h1.6 M122.1,414v1.6" stroke="#7a7a7a" stroke-width="0.65" fill="none"/>
<rect x="134.5" y="333.2" width="80.0" height="80.80000000000001" fill="#fff" stroke="#7a7a7a" stroke-width="1"/>
<path d="M132.9,407.5h1.6 M140.9,414v1.6 M132.9,400.2h1.6 M148.1,414v1.6 M132.9,396.0h1.6 M152.4,414v1.6 M132.9,392.9h1.6 M155.3,414v1.6 M132.9,390.6h1.6 M157.7,414v1.6 M132.9,388.7h1.6 M159.6,414v1.6 M132.9,387.1h1.6 M161.2,414v1.6 M132.9,385.6h1.6 M162.6,414v1.6 M132.9,384.4h1.6 M163.8,414v1.6 M132.9,383.3h1.6 M164.9,414v1.6 M132.9,376.0h1.6 M172.1,414v1.6 M132.9,371.7h1.6 M176.4,414v1.6 M132.9,368.7h1.6 M179.3,414v1.6 M132.9,366.4h1.6 M181.7,414v1.6 M132.9,364.4h1.6 M183.6,414v1.6 M132.9,362.8h1.6 M185.2,414v1.6 M132.9,361.4h1.6 M186.6,414v1.6 M132.9,360.2h1.6 M187.8,414v1.6 M132.9,359.1h1.6 M188.9,414v1.6 M132.9,351.8h1.6 M196.1,414v1.6 M132.9,347.5h1.6 M200.4,414v1.6 M132.9,344.5h1.6 M203.3,414v1.6 M132.9,342.1h1.6 M205.7,414v1.6 M132.9,340.2h1.6 M207.6,414v1.6 M132.9,338.6h1.6 M209.2,414v1.6 M132.9,337.2h1.6 M210.6,414v1.6 M132.9,335.9h1.6 M211.8,414v1.6 M132.9,334.8h1.6 M212.9,414v1.6" stroke="#7a7a7a" stroke-width="0.65" fill="none"/>
<rect x="225" y="333.2" width="80.5" height="80.80000000000001" fill="#fff" stroke="#7a7a7a" stroke-width="1"/>
<path d="M223.4,407.5h1.6 M231.4,414v1.6 M223.4,400.2h1.6 M238.7,414v1.6 M223.4,396.0h1.6 M243.0,414v1.6 M223.4,392.9h1.6 M246.0,414v1.6 M223.4,390.6h1.6 M248.3,414v1.6 M223.4,388.7h1.6 M250.2,414v1.6 M223.4,387.1h1.6 M251.8,414v1.6 M223.4,385.6h1.6 M253.2,414v1.6 M223.4,384.4h1.6 M254.5,414v1.6 M223.4,383.3h1.6 M255.6,414v1.6 M223.4,376.0h1.6 M262.9,414v1.6 M223.4,371.7h1.6 M267.1,414v1.6 M223.4,368.7h1.6 M270.1,414v1.6 M223.4,366.4h1.6 M272.5,414v1.6 M223.4,364.4h1.6 M274.4,414v1.6 M223.4,362.8h1.6 M276.0,414v1.6 M223.4,361.4h1.6 M277.4,414v1.6 M223.4,360.2h1.6 M278.6,414v1.6 M223.4,359.1h1.6 M279.7,414v1.6 M223.4,351.8h1.6 M287.0,414v1.6 M223.4,347.5h1.6 M291.3,414v1.6 M223.4,344.5h1.6 M294.3,414v1.6 M223.4,342.1h1.6 M296.6,414v1.6 M223.4,340.2h1.6 M298.5,414v1.6 M223.4,338.6h1.6 M300.1,414v1.6 M223.4,337.2h1.6 M301.5,414v1.6 M223.4,335.9h1.6 M302.8,414v1.6 M223.4,334.8h1.6 M303.9,414v1.6" stroke="#7a7a7a" stroke-width="0.65" fill="none"/>
<text x="72.5" y="325" font-size="12.8" text-anchor="start" font-weight="normal" fill="#111" >Cre</text>
<text x="155.5" y="325" font-size="12.8" text-anchor="start" fill="#111" >rap<tspan font-size="8" dy="-4">Δ/Δ</tspan></text>
<text x="249.2" y="325" font-size="12.8" text-anchor="start" fill="#111" >ric<tspan font-size="8" dy="-4">Δ/Δ</tspan></text>
<circle cx="76.8" cy="380.4" r="0.45" fill="#d0d0d0"/><circle cx="68.2" cy="386.5" r="0.47" fill="#cecece"/><circle cx="82.2" cy="384.3" r="0.42" fill="#bcbcbc"/><circle cx="105.8" cy="379.9" r="0.51" fill="#d8d8d8"/><circle cx="105.7" cy="381.5" r="0.52" fill="#d4d4d4"/><circle cx="107.7" cy="382.5" r="0.64" fill="#cccccc"/><circle cx="66.9" cy="375.0" r="0.44" fill="#b8b8b8"/><circle cx="101.5" cy="385.6" r="0.62" fill="#dfdfdf"/><circle cx="57.1" cy="387.0" r="0.60" fill="#afafaf"/><circle cx="66.0" cy="389.6" r="0.58" fill="#d8d8d8"/><circle cx="109.7" cy="384.3" r="0.56" fill="#d0d0d0"/><circle cx="93.9" cy="375.0" r="0.48" fill="#b3b3b3"/><circle cx="67.7" cy="387.2" r="0.40" fill="#afafaf"/><circle cx="70.1" cy="381.3" r="0.56" fill="#c3c3c3"/><circle cx="105.0" cy="381.6" r="0.54" fill="#bebebe"/><circle cx="53.8" cy="380.4" r="0.48" fill="#d8d8d8"/><circle cx="53.3" cy="382.0" r="0.56" fill="#dadada"/><circle cx="56.9" cy="377.1" r="0.63" fill="#cacaca"/><circle cx="72.3" cy="380.6" r="0.50" fill="#dadada"/><circle cx="81.7" cy="376.6" r="0.61" fill="#e0e0e0"/><circle cx="65.8" cy="377.0" r="0.62" fill="#dfdfdf"/><circle cx="58.5" cy="384.2" r="0.45" fill="#d6d6d6"/>
<circle cx="154.3" cy="378.3" r="0.41" fill="#d9d9d9"/><circle cx="178.1" cy="388.4" r="0.45" fill="#b2b2b2"/><circle cx="165.2" cy="388.0" r="0.58" fill="#c3c3c3"/><circle cx="161.1" cy="373.7" r="0.59" fill="#d0d0d0"/><circle cx="142.0" cy="383.3" r="0.61" fill="#c7c7c7"/><circle cx="203.0" cy="378.8" r="0.40" fill="#b5b5b5"/><circle cx="157.9" cy="377.0" r="0.54" fill="#b6b6b6"/><circle cx="188.6" cy="377.6" r="0.61" fill="#e0e0e0"/><circle cx="192.6" cy="378.6" r="0.58" fill="#b2b2b2"/><circle cx="152.5" cy="380.8" r="0.45" fill="#cbcbcb"/><circle cx="163.3" cy="387.9" r="0.56" fill="#b0b0b0"/><circle cx="155.9" cy="382.5" r="0.41" fill="#c8c8c8"/><circle cx="198.9" cy="375.1" r="0.42" fill="#dedede"/><circle cx="178.8" cy="377.3" r="0.64" fill="#c4c4c4"/><circle cx="179.5" cy="375.2" r="0.57" fill="#dcdcdc"/><circle cx="199.2" cy="375.9" r="0.59" fill="#dddddd"/><circle cx="198.7" cy="382.7" r="0.41" fill="#b3b3b3"/><circle cx="155.0" cy="379.5" r="0.64" fill="#cccccc"/><circle cx="164.7" cy="375.0" r="0.60" fill="#cacaca"/><circle cx="148.5" cy="379.9" r="0.60" fill="#afafaf"/><circle cx="187.3" cy="386.5" r="0.44" fill="#e0e0e0"/><circle cx="155.1" cy="387.2" r="0.49" fill="#cccccc"/>
<circle cx="243.8" cy="386.6" r="0.50" fill="#bebebe"/><circle cx="271.0" cy="381.7" r="0.48" fill="#d1d1d1"/><circle cx="261.9" cy="385.8" r="0.44" fill="#cbcbcb"/><circle cx="240.0" cy="381.3" r="0.46" fill="#dadada"/><circle cx="264.3" cy="386.9" r="0.43" fill="#dfdfdf"/><circle cx="282.5" cy="378.3" r="0.47" fill="#d3d3d3"/><circle cx="247.2" cy="377.7" r="0.46" fill="#cbcbcb"/><circle cx="246.7" cy="375.8" r="0.45" fill="#d4d4d4"/><circle cx="246.8" cy="382.5" r="0.60" fill="#d8d8d8"/><circle cx="238.1" cy="381.5" r="0.61" fill="#bdbdbd"/><circle cx="249.6" cy="375.1" r="0.55" fill="#bbbbbb"/><circle cx="281.7" cy="376.5" r="0.49" fill="#b3b3b3"/><circle cx="284.0" cy="381.1" r="0.59" fill="#bfbfbf"/><circle cx="270.2" cy="385.8" r="0.45" fill="#c5c5c5"/><circle cx="254.1" cy="375.5" r="0.65" fill="#bcbcbc"/><circle cx="281.1" cy="380.4" r="0.45" fill="#c6c6c6"/><circle cx="250.7" cy="376.7" r="0.52" fill="#e1e1e1"/><circle cx="261.0" cy="380.3" r="0.50" fill="#e1e1e1"/><circle cx="265.0" cy="384.5" r="0.56" fill="#b4b4b4"/><circle cx="255.9" cy="377.9" r="0.57" fill="#c1c1c1"/>
<clipPath id="cc1"><rect x="43.5" y="333.5" width="80.5" height="80.5"/></clipPath><g clip-path="url(#cc1)">
<ellipse cx="43" cy="364" rx="3.2" ry="7.5" fill="#000" opacity="0.9" transform="rotate(0 43 364)" filter="url(#b1_0)"/>
<path d="M47.50,363.50C47.50,362.25 48.75,360.67 50.00,360.00C51.25,359.33 53.33,359.75 55.00,359.50C56.67,359.25 58.50,358.42 60.00,358.50C61.50,358.58 63.33,358.58 64.00,360.00C64.67,361.42 64.67,365.58 64.00,367.00C63.33,368.42 61.50,368.42 60.00,368.50C58.50,368.58 56.67,367.67 55.00,367.50C53.33,367.33 51.25,368.17 50.00,367.50C48.75,366.83 47.50,364.75 47.50,363.50Z" fill="none" stroke="#3a3a3a" stroke-width="0.65"/>
<path d="M50.50,363.50C50.50,362.75 51.67,361.47 52.50,361.30C53.33,361.13 54.58,362.55 55.50,362.50C56.42,362.45 57.17,360.83 58.00,361.00C58.83,361.17 60.50,362.67 60.50,363.50C60.50,364.33 58.83,365.83 58.00,366.00C57.17,366.17 56.42,364.53 55.50,364.50C54.58,364.47 53.33,365.97 52.50,365.80C51.67,365.63 50.50,364.25 50.50,363.50Z" fill="none" stroke="#3a3a3a" stroke-width="0.65"/>
<path d="M96.00,356.50C96.33,355.42 99.17,353.53 101.00,352.50C102.83,351.47 105.17,350.72 107.00,350.30C108.83,349.88 110.62,349.63 112.00,350.00C113.38,350.37 114.97,351.50 115.30,352.50C115.63,353.50 114.88,355.17 114.00,356.00C113.12,356.83 111.33,357.25 110.00,357.50C108.67,357.75 107.17,357.33 106.00,357.50C104.83,357.67 104.17,358.25 103.00,358.50C101.83,358.75 100.17,359.33 99.00,359.00C97.83,358.67 95.67,357.58 96.00,356.50Z" fill="none" stroke="#3a3a3a" stroke-width="0.65"/>
<path d="M103.50,355.20C103.67,354.70 105.75,353.40 107.00,353.00C108.25,352.60 110.08,352.55 111.00,352.80C111.92,353.05 112.67,353.97 112.50,354.50C112.33,355.03 111.08,355.75 110.00,356.00C108.92,356.25 107.08,356.13 106.00,356.00C104.92,355.87 103.33,355.70 103.50,355.20Z" fill="none" stroke="#3a3a3a" stroke-width="0.65"/>
<path d="M104.00,360.00C104.58,358.75 106.58,358.25 107.50,358.50C108.42,358.75 109.42,360.33 109.50,361.50C109.58,362.67 108.92,364.75 108.00,365.50C107.08,366.25 104.67,366.92 104.00,366.00C103.33,365.08 103.42,361.25 104.00,360.00Z" fill="none" stroke="#3a3a3a" stroke-width="0.65"/>
<g><path d="M60.00,361.50C60.83,360.13 63.83,358.88 66.00,357.80C68.17,356.72 70.67,355.67 73.00,355.00C75.33,354.33 77.50,353.97 80.00,353.80C82.50,353.63 85.50,353.72 88.00,354.00C90.50,354.28 92.83,354.83 95.00,355.50C97.17,356.17 99.17,357.08 101.00,358.00C102.83,358.92 104.83,359.92 106.00,361.00C107.17,362.08 108.33,363.42 108.00,364.50C107.67,365.58 105.83,366.42 104.00,367.50C102.17,368.58 99.50,369.83 97.00,371.00C94.50,372.17 91.67,373.75 89.00,374.50C86.33,375.25 83.67,375.67 81.00,375.50C78.33,375.33 75.50,374.50 73.00,373.50C70.50,372.50 68.00,370.75 66.00,369.50C64.00,368.25 62.00,367.33 61.00,366.00C60.00,364.67 59.17,362.87 60.00,361.50Z" fill="#f5f5f5" stroke="#3a3a3a" stroke-width="0.75"/><path d="M62.15,361.63C62.90,360.40 65.60,359.28 67.55,358.30C69.50,357.32 71.75,356.38 73.85,355.78C75.95,355.18 77.90,354.85 80.15,354.70C82.40,354.55 85.10,354.62 87.35,354.88C89.60,355.13 91.70,355.63 93.65,356.23C95.60,356.83 97.40,357.66 99.05,358.48C100.70,359.31 102.50,360.21 103.55,361.18C104.60,362.15 105.65,363.36 105.35,364.33C105.05,365.30 103.40,366.05 101.75,367.03C100.10,368.00 97.70,369.13 95.45,370.18C93.20,371.23 90.65,372.65 88.25,373.33C85.85,374.00 83.45,374.38 81.05,374.23C78.65,374.08 76.10,373.33 73.85,372.43C71.60,371.53 69.35,369.95 67.55,368.83C65.75,367.70 63.95,366.88 63.05,365.68C62.15,364.48 61.40,362.86 62.15,361.63Z" fill="#dedede" stroke="#4a4a4a" stroke-width="0.55"/><path d="M64.30,361.76C64.97,360.67 67.37,359.67 69.10,358.80C70.83,357.93 72.83,357.09 74.70,356.56C76.57,356.03 78.30,355.73 80.30,355.60C82.30,355.47 84.70,355.53 86.70,355.76C88.70,355.99 90.57,356.43 92.30,356.96C94.03,357.49 95.63,358.23 97.10,358.96C98.57,359.69 100.17,360.49 101.10,361.36C102.03,362.23 102.97,363.29 102.70,364.16C102.43,365.03 100.97,365.69 99.50,366.56C98.03,367.43 95.90,368.43 93.90,369.36C91.90,370.29 89.63,371.56 87.50,372.16C85.37,372.76 83.23,373.09 81.10,372.96C78.97,372.83 76.70,372.16 74.70,371.36C72.70,370.56 70.70,369.16 69.10,368.16C67.50,367.16 65.90,366.43 65.10,365.36C64.30,364.29 63.63,362.85 64.30,361.76Z" fill="#b8b8b8" stroke="#4a4a4a" stroke-width="0.55"/><path d="M66.45,361.89C67.03,360.93 69.13,360.06 70.65,359.30C72.17,358.54 73.92,357.81 75.55,357.34C77.18,356.87 78.70,356.62 80.45,356.50C82.20,356.38 84.30,356.44 86.05,356.64C87.80,356.84 89.43,357.22 90.95,357.69C92.47,358.16 93.87,358.80 95.15,359.44C96.43,360.08 97.83,360.78 98.65,361.54C99.47,362.30 100.28,363.23 100.05,363.99C99.82,364.75 98.53,365.33 97.25,366.09C95.97,366.85 94.10,367.72 92.35,368.54C90.60,369.36 88.62,370.47 86.75,370.99C84.88,371.51 83.02,371.81 81.15,371.69C79.28,371.57 77.30,370.99 75.55,370.29C73.80,369.59 72.05,368.37 70.65,367.49C69.25,366.62 67.85,365.97 67.15,365.04C66.45,364.11 65.87,362.85 66.45,361.89Z" fill="#8c8c8c" stroke="#4a4a4a" stroke-width="0.55"/><path d="M68.60,362.02C69.10,361.20 70.90,360.45 72.20,359.80C73.50,359.15 75.00,358.52 76.40,358.12C77.80,357.72 79.10,357.50 80.60,357.40C82.10,357.30 83.90,357.35 85.40,357.52C86.90,357.69 88.30,358.02 89.60,358.42C90.90,358.82 92.10,359.37 93.20,359.92C94.30,360.47 95.50,361.07 96.20,361.72C96.90,362.37 97.60,363.17 97.40,363.82C97.20,364.47 96.10,364.97 95.00,365.62C93.90,366.27 92.30,367.02 90.80,367.72C89.30,368.42 87.60,369.37 86.00,369.82C84.40,370.27 82.80,370.52 81.20,370.42C79.60,370.32 77.90,369.82 76.40,369.22C74.90,368.62 73.40,367.57 72.20,366.82C71.00,366.07 69.80,365.52 69.20,364.72C68.60,363.92 68.10,362.84 68.60,362.02Z" fill="#5c5c5c" stroke="#4a4a4a" stroke-width="0.55"/><path d="M70.75,362.15C71.17,361.47 72.67,360.84 73.75,360.30C74.83,359.76 76.08,359.23 77.25,358.90C78.42,358.57 79.50,358.38 80.75,358.30C82.00,358.22 83.50,358.26 84.75,358.40C86.00,358.54 87.17,358.82 88.25,359.15C89.33,359.48 90.33,359.94 91.25,360.40C92.17,360.86 93.17,361.36 93.75,361.90C94.33,362.44 94.92,363.11 94.75,363.65C94.58,364.19 93.67,364.61 92.75,365.15C91.83,365.69 90.50,366.32 89.25,366.90C88.00,367.48 86.58,368.27 85.25,368.65C83.92,369.02 82.58,369.23 81.25,369.15C79.92,369.07 78.50,368.65 77.25,368.15C76.00,367.65 74.75,366.77 73.75,366.15C72.75,365.52 71.75,365.07 71.25,364.40C70.75,363.73 70.33,362.83 70.75,362.15Z" fill="#383838" stroke="#4a4a4a" stroke-width="0.55"/><path d="M72.90,362.28C73.23,361.73 74.43,361.23 75.30,360.80C76.17,360.37 77.17,359.95 78.10,359.68C79.03,359.41 79.90,359.27 80.90,359.20C81.90,359.13 83.10,359.17 84.10,359.28C85.10,359.39 86.03,359.61 86.90,359.88C87.77,360.15 88.57,360.51 89.30,360.88C90.03,361.25 90.83,361.65 91.30,362.08C91.77,362.51 92.23,363.05 92.10,363.48C91.97,363.91 91.23,364.25 90.50,364.68C89.77,365.11 88.70,365.61 87.70,366.08C86.70,366.55 85.57,367.18 84.50,367.48C83.43,367.78 82.37,367.95 81.30,367.88C80.23,367.81 79.10,367.48 78.10,367.08C77.10,366.68 76.10,365.98 75.30,365.48C74.50,364.98 73.70,364.61 73.30,364.08C72.90,363.55 72.57,362.83 72.90,362.28Z" fill="#262626" stroke="#4a4a4a" stroke-width="0.55"/><path d="M75.05,362.41C75.30,362.00 76.20,361.62 76.85,361.30C77.50,360.98 78.25,360.66 78.95,360.46C79.65,360.26 80.30,360.15 81.05,360.10C81.80,360.05 82.70,360.08 83.45,360.16C84.20,360.25 84.90,360.41 85.55,360.61C86.20,360.81 86.80,361.09 87.35,361.36C87.90,361.63 88.50,361.94 88.85,362.26C89.20,362.58 89.55,362.99 89.45,363.31C89.35,363.63 88.80,363.88 88.25,364.21C87.70,364.53 86.90,364.91 86.15,365.26C85.40,365.61 84.55,366.08 83.75,366.31C82.95,366.54 82.15,366.66 81.35,366.61C80.55,366.56 79.70,366.31 78.95,366.01C78.20,365.71 77.45,365.19 76.85,364.81C76.25,364.44 75.65,364.16 75.35,363.76C75.05,363.36 74.80,362.82 75.05,362.41Z" fill="#1c1c1c" stroke="#4a4a4a" stroke-width="0.55"/><path d="M77.20,362.54C77.37,362.27 77.97,362.02 78.40,361.80C78.83,361.58 79.33,361.37 79.80,361.24C80.27,361.11 80.70,361.03 81.20,361.00C81.70,360.97 82.30,360.98 82.80,361.04C83.30,361.10 83.77,361.21 84.20,361.34C84.63,361.47 85.03,361.66 85.40,361.84C85.77,362.02 86.17,362.22 86.40,362.44C86.63,362.66 86.87,362.92 86.80,363.14C86.73,363.36 86.37,363.52 86.00,363.74C85.63,363.96 85.10,364.21 84.60,364.44C84.10,364.67 83.53,364.99 83.00,365.14C82.47,365.29 81.93,365.37 81.40,365.34C80.87,365.31 80.30,365.14 79.80,364.94C79.30,364.74 78.80,364.39 78.40,364.14C78.00,363.89 77.60,363.71 77.40,363.44C77.20,363.17 77.03,362.81 77.20,362.54Z" fill="#161616" stroke="#4a4a4a" stroke-width="0.55"/></g>
<ellipse cx="81.8" cy="363.4" rx="2.4" ry="1.2" fill="#fff" opacity="0.95" filter="url(#b0_5)"/>
</g>
<clipPath id="cc2"><rect x="134.5" y="333.5" width="80.0" height="80.5"/></clipPath><g clip-path="url(#cc2)">
<ellipse cx="134.5" cy="364.5" rx="3.8" ry="8" fill="#222" opacity="0.85" transform="rotate(0 134.5 364.5)" filter="url(#b1_2)"/>
<path d="M143.00,362.00C143.42,360.25 144.50,357.50 146.00,356.50C147.50,355.50 150.17,355.92 152.00,356.00C153.83,356.08 155.67,356.17 157.00,357.00C158.33,357.83 159.67,359.33 160.00,361.00C160.33,362.67 160.00,365.42 159.00,367.00C158.00,368.58 156.00,370.00 154.00,370.50C152.00,371.00 148.75,370.58 147.00,370.00C145.25,369.42 144.17,368.33 143.50,367.00C142.83,365.67 142.58,363.75 143.00,362.00Z" fill="none" stroke="#3a3a3a" stroke-width="0.65"/>
<path d="M146.00,362.50C146.17,361.25 147.67,359.50 149.00,359.00C150.33,358.50 152.83,358.83 154.00,359.50C155.17,360.17 156.17,361.75 156.00,363.00C155.83,364.25 154.33,366.42 153.00,367.00C151.67,367.58 149.17,367.25 148.00,366.50C146.83,365.75 145.83,363.75 146.00,362.50Z" fill="none" stroke="#3a3a3a" stroke-width="0.65"/>
<path d="M149.50,363.00C149.50,362.33 150.83,361.00 151.50,361.00C152.17,361.00 153.50,362.33 153.50,363.00C153.50,363.67 152.17,365.00 151.50,365.00C150.83,365.00 149.50,363.67 149.50,363.00Z" fill="none" stroke="#3a3a3a" stroke-width="0.65"/>
<path d="M191.00,365.00C191.17,363.92 194.00,362.33 196.00,362.00C198.00,361.67 200.83,362.92 203.00,363.00C205.17,363.08 207.58,362.08 209.00,362.50C210.42,362.92 211.67,364.50 211.50,365.50C211.33,366.50 209.75,368.00 208.00,368.50C206.25,369.00 203.17,368.50 201.00,368.50C198.83,368.50 196.67,369.08 195.00,368.50C193.33,367.92 190.83,366.08 191.00,365.00Z" fill="none" stroke="#3a3a3a" stroke-width="0.65"/>
<path d="M197.00,365.30C197.00,364.83 199.67,364.00 201.00,364.00C202.33,364.00 205.00,364.83 205.00,365.30C205.00,365.77 202.33,366.80 201.00,366.80C199.67,366.80 197.00,365.77 197.00,365.30Z" fill="none" stroke="#3a3a3a" stroke-width="0.65"/>
<g><path d="M191.66,366.72C191.41,367.91 190.88,369.10 190.16,370.13C189.44,371.16 188.45,372.12 187.32,372.89C186.20,373.66 184.84,374.30 183.43,374.73C182.01,375.16 180.42,375.42 178.85,375.47C177.29,375.52 175.61,375.37 174.05,375.04C172.48,374.71 170.89,374.16 169.48,373.48C168.07,372.80 166.72,371.91 165.60,370.94C164.49,369.98 163.51,368.83 162.79,367.68C162.08,366.52 161.56,365.24 161.32,364.00C161.08,362.77 161.09,361.47 161.34,360.28C161.59,359.09 162.12,357.90 162.84,356.87C163.56,355.84 164.55,354.88 165.68,354.11C166.80,353.34 168.16,352.70 169.57,352.27C170.99,351.84 172.58,351.58 174.15,351.53C175.71,351.48 177.39,351.63 178.95,351.96C180.52,352.29 182.11,352.84 183.52,353.52C184.93,354.20 186.28,355.09 187.40,356.06C188.51,357.02 189.49,358.17 190.21,359.32C190.92,360.48 191.44,361.76 191.68,363.00C191.92,364.23 191.91,365.53 191.66,366.72Z" fill="#f2f2f2" stroke="#3a3a3a" stroke-width="0.75"/><path d="M190.31,366.42C190.09,367.49 189.61,368.56 188.97,369.48C188.32,370.41 187.43,371.27 186.42,371.96C185.41,372.65 184.19,373.23 182.92,373.61C181.65,374.00 180.22,374.23 178.82,374.28C177.41,374.32 175.90,374.19 174.50,373.89C173.10,373.59 171.67,373.10 170.41,372.49C169.14,371.88 167.93,371.08 166.93,370.21C165.92,369.34 165.04,368.32 164.40,367.28C163.76,366.24 163.30,365.09 163.08,363.98C162.87,362.87 162.87,361.71 163.10,360.64C163.32,359.57 163.80,358.50 164.44,357.58C165.09,356.66 165.98,355.79 166.99,355.10C168.00,354.41 169.22,353.84 170.49,353.45C171.76,353.06 173.19,352.83 174.59,352.78C176.00,352.74 177.51,352.87 178.91,353.17C180.31,353.47 181.74,353.96 183.00,354.57C184.27,355.19 185.48,355.98 186.48,356.85C187.49,357.72 188.37,358.74 189.01,359.78C189.65,360.82 190.11,361.97 190.33,363.08C190.54,364.19 190.54,365.36 190.31,366.42Z" fill="#dadada" stroke="#4a4a4a" stroke-width="0.55"/><path d="M188.96,366.12C188.76,367.07 188.35,368.02 187.77,368.83C187.20,369.65 186.41,370.42 185.51,371.03C184.62,371.64 183.54,372.15 182.42,372.49C181.29,372.83 180.02,373.04 178.78,373.08C177.54,373.12 176.20,373.00 174.96,372.74C173.72,372.47 172.45,372.04 171.33,371.50C170.21,370.95 169.13,370.25 168.25,369.48C167.36,368.71 166.58,367.80 166.01,366.88C165.45,365.96 165.04,364.94 164.84,363.96C164.65,362.98 164.66,361.94 164.86,361.00C165.06,360.05 165.47,359.11 166.05,358.29C166.62,357.47 167.41,356.70 168.31,356.10C169.20,355.49 170.28,354.97 171.40,354.63C172.53,354.29 173.80,354.08 175.04,354.04C176.28,354.00 177.62,354.12 178.86,354.39C180.10,354.65 181.37,355.08 182.49,355.63C183.61,356.17 184.69,356.87 185.57,357.64C186.46,358.41 187.24,359.32 187.81,360.24C188.37,361.16 188.78,362.18 188.98,363.16C189.17,364.14 189.16,365.18 188.96,366.12Z" fill="#b4b4b4" stroke="#4a4a4a" stroke-width="0.55"/><path d="M187.61,365.82C187.44,366.65 187.08,367.47 186.58,368.18C186.07,368.90 185.39,369.56 184.61,370.10C183.83,370.63 182.89,371.07 181.91,371.37C180.93,371.67 179.83,371.85 178.74,371.88C177.66,371.92 176.50,371.82 175.42,371.59C174.33,371.36 173.23,370.98 172.25,370.50C171.28,370.03 170.34,369.42 169.57,368.75C168.80,368.08 168.12,367.29 167.62,366.48C167.13,365.68 166.77,364.79 166.60,363.94C166.44,363.09 166.44,362.18 166.62,361.36C166.79,360.54 167.15,359.71 167.65,359.00C168.16,358.29 168.84,357.62 169.62,357.09C170.40,356.56 171.34,356.11 172.32,355.81C173.30,355.52 174.40,355.34 175.49,355.30C176.57,355.27 177.73,355.37 178.81,355.60C179.90,355.83 181.00,356.21 181.98,356.68C182.95,357.15 183.89,357.77 184.66,358.44C185.43,359.11 186.11,359.90 186.61,360.70C187.10,361.50 187.46,362.39 187.63,363.24C187.79,364.10 187.79,365.00 187.61,365.82Z" fill="#8a8a8a" stroke="#4a4a4a" stroke-width="0.55"/><path d="M186.27,365.52C186.12,366.23 185.81,366.93 185.38,367.54C184.95,368.14 184.37,368.71 183.71,369.16C183.04,369.62 182.24,370.00 181.41,370.25C180.57,370.50 179.63,370.66 178.71,370.69C177.79,370.72 176.79,370.63 175.87,370.43C174.95,370.24 174.01,369.92 173.18,369.51C172.35,369.11 171.55,368.59 170.89,368.01C170.23,367.44 169.65,366.77 169.23,366.09C168.81,365.40 168.51,364.65 168.37,363.92C168.22,363.19 168.23,362.42 168.37,361.72C168.52,361.02 168.83,360.32 169.26,359.71C169.69,359.10 170.27,358.53 170.93,358.08C171.60,357.63 172.40,357.25 173.23,357.00C174.07,356.74 175.01,356.59 175.93,356.56C176.85,356.53 177.85,356.62 178.77,356.81C179.69,357.01 180.63,357.33 181.46,357.73C182.29,358.14 183.09,358.66 183.75,359.23C184.41,359.80 184.99,360.48 185.41,361.16C185.83,361.84 186.13,362.60 186.27,363.33C186.42,364.05 186.41,364.82 186.27,365.52Z" fill="#5e5e5e" stroke="#4a4a4a" stroke-width="0.55"/><path d="M184.92,365.22C184.79,365.80 184.54,366.39 184.18,366.89C183.83,367.39 183.35,367.86 182.80,368.23C182.25,368.61 181.59,368.92 180.90,369.13C180.21,369.34 179.43,369.47 178.67,369.49C177.91,369.52 177.09,369.44 176.33,369.28C175.57,369.12 174.79,368.85 174.10,368.52C173.42,368.19 172.76,367.75 172.21,367.28C171.67,366.81 171.19,366.25 170.84,365.69C170.49,365.13 170.24,364.50 170.13,363.90C170.01,363.30 170.01,362.66 170.13,362.08C170.26,361.50 170.51,360.92 170.87,360.42C171.22,359.92 171.70,359.45 172.25,359.08C172.80,358.70 173.46,358.39 174.15,358.18C174.84,357.97 175.62,357.84 176.38,357.82C177.14,357.79 177.96,357.87 178.72,358.03C179.48,358.19 180.26,358.45 180.95,358.79C181.63,359.12 182.29,359.55 182.84,360.03C183.38,360.50 183.86,361.05 184.21,361.62C184.56,362.18 184.81,362.81 184.92,363.41C185.04,364.01 185.04,364.65 184.92,365.22Z" fill="#3a3a3a" stroke="#4a4a4a" stroke-width="0.55"/><path d="M183.57,364.93C183.47,365.38 183.27,365.84 182.99,366.24C182.71,366.63 182.33,367.01 181.90,367.30C181.47,367.60 180.94,367.84 180.40,368.01C179.85,368.17 179.24,368.27 178.64,368.29C178.03,368.31 177.39,368.26 176.79,368.13C176.18,368.00 175.57,367.79 175.03,367.53C174.49,367.26 173.96,366.92 173.53,366.55C173.11,366.18 172.73,365.74 172.45,365.29C172.18,364.85 171.98,364.35 171.89,363.88C171.79,363.40 171.80,362.90 171.89,362.44C171.99,361.99 172.19,361.53 172.47,361.13C172.75,360.74 173.13,360.36 173.56,360.07C173.99,359.77 174.52,359.53 175.06,359.36C175.61,359.19 176.22,359.09 176.82,359.07C177.43,359.05 178.07,359.11 178.67,359.24C179.28,359.37 179.89,359.58 180.43,359.84C180.97,360.10 181.50,360.45 181.93,360.82C182.35,361.19 182.73,361.63 183.01,362.08C183.28,362.52 183.48,363.02 183.57,363.49C183.67,363.97 183.66,364.47 183.57,364.93Z" fill="#262626" stroke="#4a4a4a" stroke-width="0.55"/><path d="M182.22,364.63C182.15,364.96 182.00,365.30 181.79,365.59C181.59,365.88 181.31,366.15 180.99,366.37C180.68,366.58 180.29,366.77 179.89,366.89C179.49,367.01 179.04,367.08 178.60,367.10C178.16,367.11 177.68,367.07 177.24,366.98C176.80,366.88 176.35,366.73 175.95,366.53C175.55,366.34 175.17,366.09 174.86,365.82C174.54,365.54 174.26,365.22 174.06,364.90C173.86,364.57 173.72,364.21 173.65,363.86C173.58,363.51 173.58,363.14 173.65,362.80C173.72,362.47 173.87,362.13 174.08,361.84C174.28,361.55 174.56,361.28 174.88,361.06C175.19,360.85 175.58,360.66 175.98,360.54C176.38,360.42 176.83,360.35 177.27,360.33C177.71,360.32 178.19,360.36 178.63,360.45C179.07,360.55 179.52,360.70 179.92,360.90C180.32,361.09 180.70,361.34 181.01,361.61C181.33,361.89 181.61,362.21 181.81,362.54C182.01,362.86 182.15,363.23 182.22,363.57C182.29,363.92 182.29,364.29 182.22,364.63Z" fill="#1c1c1c" stroke="#4a4a4a" stroke-width="0.55"/><path d="M180.87,364.33C180.82,364.54 180.73,364.75 180.60,364.94C180.47,365.12 180.29,365.30 180.09,365.44C179.89,365.57 179.64,365.69 179.39,365.77C179.13,365.85 178.84,365.89 178.56,365.90C178.28,365.91 177.98,365.88 177.70,365.82C177.42,365.76 177.13,365.67 176.88,365.54C176.62,365.42 176.38,365.26 176.18,365.09C175.98,364.91 175.80,364.71 175.67,364.50C175.54,364.29 175.45,364.06 175.41,363.84C175.36,363.61 175.37,363.38 175.41,363.17C175.46,362.95 175.55,362.74 175.68,362.55C175.81,362.37 175.99,362.19 176.19,362.06C176.39,361.92 176.64,361.80 176.89,361.72C177.15,361.65 177.44,361.60 177.72,361.59C178.00,361.58 178.30,361.61 178.58,361.67C178.86,361.73 179.15,361.83 179.40,361.95C179.66,362.07 179.90,362.23 180.10,362.41C180.30,362.58 180.48,362.79 180.61,362.99C180.74,363.20 180.83,363.43 180.87,363.66C180.92,363.88 180.91,364.11 180.87,364.33Z" fill="#161616" stroke="#4a4a4a" stroke-width="0.55"/></g>
<g><path d="M207.19,351.06C207.33,351.64 207.31,352.29 207.12,352.92C206.94,353.56 206.57,354.23 206.07,354.85C205.57,355.48 204.89,356.11 204.12,356.66C203.36,357.21 202.44,357.74 201.48,358.17C200.53,358.60 199.45,358.97 198.40,359.23C197.35,359.49 196.23,359.67 195.19,359.74C194.14,359.81 193.08,359.78 192.15,359.65C191.21,359.52 190.32,359.28 189.58,358.96C188.85,358.65 188.21,358.23 187.74,357.75C187.28,357.28 186.96,356.72 186.81,356.14C186.67,355.56 186.69,354.91 186.88,354.28C187.06,353.64 187.43,352.97 187.93,352.35C188.43,351.72 189.11,351.09 189.88,350.54C190.64,349.99 191.56,349.46 192.52,349.03C193.47,348.60 194.55,348.23 195.60,347.97C196.65,347.71 197.77,347.53 198.81,347.46C199.86,347.39 200.92,347.42 201.85,347.55C202.79,347.68 203.68,347.92 204.42,348.24C205.15,348.55 205.79,348.97 206.26,349.45C206.72,349.92 207.04,350.48 207.19,351.06Z" fill="#f2f2f2" stroke="#3a3a3a" stroke-width="0.75"/><path d="M205.90,351.39C206.02,351.89 206.00,352.45 205.84,353.00C205.68,353.55 205.36,354.13 204.92,354.67C204.49,355.21 203.90,355.76 203.24,356.24C202.58,356.72 201.78,357.17 200.95,357.55C200.13,357.92 199.19,358.24 198.28,358.46C197.37,358.69 196.40,358.85 195.49,358.91C194.59,358.97 193.67,358.94 192.86,358.83C192.05,358.71 191.27,358.51 190.64,358.23C190.00,357.96 189.45,357.60 189.04,357.19C188.64,356.78 188.36,356.29 188.24,355.79C188.11,355.29 188.13,354.72 188.29,354.17C188.46,353.63 188.78,353.04 189.21,352.50C189.64,351.96 190.23,351.41 190.89,350.93C191.56,350.46 192.36,350.00 193.18,349.63C194.01,349.26 194.94,348.94 195.85,348.71C196.76,348.48 197.73,348.33 198.64,348.27C199.54,348.21 200.46,348.23 201.27,348.35C202.08,348.46 202.86,348.67 203.50,348.94C204.13,349.21 204.69,349.58 205.09,349.99C205.49,350.39 205.77,350.88 205.90,351.39Z" fill="#dadada" stroke="#4a4a4a" stroke-width="0.55"/><path d="M204.60,351.71C204.71,352.14 204.69,352.61 204.56,353.08C204.42,353.54 204.15,354.04 203.78,354.49C203.42,354.95 202.92,355.41 202.36,355.82C201.80,356.22 201.12,356.61 200.42,356.92C199.72,357.24 198.93,357.51 198.16,357.70C197.39,357.89 196.57,358.02 195.80,358.07C195.04,358.13 194.26,358.10 193.57,358.01C192.89,357.91 192.23,357.74 191.69,357.51C191.16,357.28 190.68,356.97 190.35,356.62C190.01,356.28 189.77,355.86 189.66,355.44C189.56,355.01 189.57,354.53 189.71,354.07C189.85,353.61 190.12,353.11 190.48,352.65C190.85,352.20 191.35,351.73 191.91,351.33C192.47,350.92 193.15,350.54 193.85,350.22C194.55,349.91 195.33,349.64 196.10,349.45C196.87,349.25 197.70,349.12 198.46,349.07C199.23,349.02 200.01,349.04 200.69,349.14C201.38,349.23 202.03,349.41 202.57,349.64C203.11,349.87 203.58,350.18 203.92,350.53C204.26,350.87 204.50,351.29 204.60,351.71Z" fill="#b4b4b4" stroke="#4a4a4a" stroke-width="0.55"/><path d="M203.31,352.04C203.40,352.38 203.39,352.77 203.27,353.15C203.16,353.53 202.94,353.94 202.64,354.31C202.34,354.69 201.93,355.06 201.47,355.40C201.02,355.73 200.46,356.04 199.89,356.30C199.32,356.56 198.67,356.78 198.04,356.94C197.41,357.09 196.74,357.20 196.11,357.24C195.49,357.28 194.85,357.27 194.29,357.19C193.73,357.11 193.19,356.97 192.75,356.78C192.31,356.59 191.92,356.34 191.65,356.05C191.37,355.77 191.17,355.43 191.09,355.08C191.00,354.74 191.01,354.35 191.13,353.97C191.24,353.59 191.46,353.18 191.76,352.81C192.06,352.43 192.47,352.06 192.93,351.72C193.38,351.39 193.94,351.08 194.51,350.82C195.08,350.56 195.73,350.34 196.36,350.18C196.99,350.03 197.66,349.92 198.29,349.88C198.91,349.84 199.55,349.85 200.11,349.93C200.67,350.01 201.21,350.15 201.65,350.34C202.09,350.53 202.48,350.78 202.75,351.07C203.03,351.35 203.23,351.69 203.31,352.04Z" fill="#8a8a8a" stroke="#4a4a4a" stroke-width="0.55"/><path d="M202.02,352.36C202.09,352.63 202.08,352.94 201.99,353.23C201.90,353.53 201.73,353.84 201.50,354.13C201.26,354.42 200.95,354.72 200.59,354.97C200.23,355.23 199.80,355.48 199.36,355.68C198.91,355.88 198.41,356.05 197.92,356.17C197.43,356.30 196.91,356.38 196.42,356.41C195.93,356.44 195.44,356.43 195.00,356.37C194.57,356.31 194.15,356.20 193.81,356.05C193.46,355.90 193.16,355.71 192.95,355.49C192.73,355.27 192.58,355.00 192.51,354.73C192.44,354.46 192.46,354.16 192.54,353.86C192.63,353.57 192.80,353.25 193.04,352.96C193.27,352.67 193.59,352.38 193.94,352.12C194.30,351.86 194.73,351.61 195.17,351.42C195.62,351.22 196.12,351.04 196.61,350.92C197.10,350.80 197.63,350.72 198.11,350.68C198.60,350.65 199.10,350.66 199.53,350.73C199.97,350.79 200.39,350.90 200.73,351.04C201.07,351.19 201.37,351.39 201.59,351.61C201.80,351.83 201.95,352.09 202.02,352.36Z" fill="#5e5e5e" stroke="#4a4a4a" stroke-width="0.55"/><path d="M200.73,352.69C200.78,352.88 200.77,353.10 200.71,353.31C200.65,353.52 200.52,353.74 200.36,353.95C200.19,354.16 199.96,354.37 199.71,354.55C199.45,354.74 199.15,354.91 198.83,355.06C198.51,355.20 198.15,355.32 197.80,355.41C197.45,355.50 197.08,355.56 196.73,355.58C196.38,355.60 196.03,355.59 195.72,355.55C195.40,355.51 195.11,355.43 194.86,355.32C194.62,355.22 194.40,355.08 194.25,354.92C194.09,354.76 193.99,354.57 193.94,354.38C193.89,354.19 193.90,353.97 193.96,353.76C194.02,353.55 194.14,353.32 194.31,353.12C194.48,352.91 194.70,352.70 194.96,352.51C195.21,352.33 195.52,352.15 195.84,352.01C196.16,351.87 196.52,351.74 196.87,351.66C197.22,351.57 197.59,351.51 197.94,351.49C198.29,351.46 198.64,351.47 198.95,351.52C199.26,351.56 199.56,351.64 199.81,351.75C200.05,351.85 200.26,351.99 200.42,352.15C200.57,352.31 200.68,352.49 200.73,352.69Z" fill="#3a3a3a" stroke="#4a4a4a" stroke-width="0.55"/><path d="M199.44,353.01C199.47,353.13 199.46,353.26 199.42,353.38C199.39,353.51 199.31,353.65 199.21,353.77C199.11,353.90 198.98,354.02 198.82,354.13C198.67,354.24 198.49,354.35 198.30,354.43C198.11,354.52 197.89,354.59 197.68,354.65C197.47,354.70 197.25,354.73 197.04,354.75C196.83,354.76 196.62,354.76 196.43,354.73C196.24,354.70 196.06,354.66 195.92,354.59C195.77,354.53 195.64,354.45 195.55,354.35C195.46,354.26 195.39,354.14 195.36,354.03C195.33,353.91 195.34,353.78 195.38,353.66C195.41,353.53 195.49,353.39 195.59,353.27C195.69,353.14 195.82,353.02 195.98,352.91C196.13,352.80 196.31,352.69 196.50,352.61C196.69,352.52 196.91,352.45 197.12,352.39C197.33,352.34 197.55,352.31 197.76,352.29C197.97,352.28 198.18,352.28 198.37,352.31C198.56,352.34 198.74,352.38 198.88,352.45C199.03,352.51 199.16,352.59 199.25,352.69C199.34,352.78 199.41,352.90 199.44,353.01Z" fill="#262626" stroke="#4a4a4a" stroke-width="0.55"/></g>
<ellipse cx="179" cy="363.6" rx="7.5" ry="1.3" transform="rotate(10 179 363.6)" fill="#fff" opacity="0.9" filter="url(#b0_5)"/>
<ellipse cx="198" cy="353.4" rx="5" ry="1" transform="rotate(-14 198 353.4)" fill="#fff" opacity="0.85" filter="url(#b0_5)"/>
</g>
<clipPath id="cc3"><rect x="225" y="333.5" width="80.5" height="80.5"/></clipPath><g clip-path="url(#cc3)">
<ellipse cx="225" cy="364.5" rx="3.6" ry="7.5" fill="#000" opacity="0.9" transform="rotate(0 225 364.5)" filter="url(#b1_0)"/>
<path d="M229.50,359.00C229.67,357.75 231.58,358.33 233.00,358.50C234.42,358.67 236.33,360.00 238.00,360.00C239.67,360.00 241.67,358.50 243.00,358.50C244.33,358.50 245.50,358.50 246.00,360.00C246.50,361.50 246.67,366.08 246.00,367.50C245.33,368.92 243.50,368.50 242.00,368.50C240.50,368.50 238.67,367.92 237.00,367.50C235.33,367.08 233.25,367.42 232.00,366.00C230.75,364.58 229.33,360.25 229.50,359.00Z" fill="none" stroke="#3a3a3a" stroke-width="0.65"/>
<path d="M234.00,362.80C234.00,362.25 236.00,361.47 237.00,361.50C238.00,361.53 239.08,362.95 240.00,363.00C240.92,363.05 242.00,361.55 242.50,361.80C243.00,362.05 243.42,363.80 243.00,364.50C242.58,365.20 241.00,365.95 240.00,366.00C239.00,366.05 238.00,365.33 237.00,364.80C236.00,364.27 234.00,363.35 234.00,362.80Z" fill="none" stroke="#3a3a3a" stroke-width="0.65"/>
<path d="M280.00,356.00C280.17,354.92 282.33,353.20 284.00,352.50C285.67,351.80 288.30,351.63 290.00,351.80C291.70,351.97 293.53,352.72 294.20,353.50C294.87,354.28 294.70,355.75 294.00,356.50C293.30,357.25 291.33,357.67 290.00,358.00C288.67,358.33 287.17,358.33 286.00,358.50C284.83,358.67 284.00,359.42 283.00,359.00C282.00,358.58 279.83,357.08 280.00,356.00Z" fill="none" stroke="#3a3a3a" stroke-width="0.65"/>
<path d="M284.50,355.30C284.42,354.88 286.42,354.22 287.50,354.00C288.58,353.78 290.33,353.67 291.00,354.00C291.67,354.33 292.00,355.58 291.50,356.00C291.00,356.42 289.17,356.62 288.00,356.50C286.83,356.38 284.58,355.72 284.50,355.30Z" fill="none" stroke="#3a3a3a" stroke-width="0.65"/>
<path d="M282.00,361.00C282.67,359.67 285.00,359.17 286.00,359.50C287.00,359.83 287.92,361.75 288.00,363.00C288.08,364.25 287.50,366.25 286.50,367.00C285.50,367.75 282.75,368.50 282.00,367.50C281.25,366.50 281.33,362.33 282.00,361.00Z" fill="none" stroke="#3a3a3a" stroke-width="0.65"/>
<g><path d="M244.00,361.00C245.00,359.58 247.83,358.08 250.00,357.00C252.17,355.92 254.67,355.00 257.00,354.50C259.33,354.00 261.50,354.00 264.00,354.00C266.50,354.00 269.50,354.08 272.00,354.50C274.50,354.92 277.00,355.67 279.00,356.50C281.00,357.33 282.67,358.33 284.00,359.50C285.33,360.67 286.83,362.25 287.00,363.50C287.17,364.75 286.33,365.83 285.00,367.00C283.67,368.17 281.50,369.25 279.00,370.50C276.50,371.75 273.00,373.62 270.00,374.50C267.00,375.38 263.83,375.97 261.00,375.80C258.17,375.63 255.33,374.55 253.00,373.50C250.67,372.45 248.50,370.83 247.00,369.50C245.50,368.17 244.50,366.92 244.00,365.50C243.50,364.08 243.00,362.42 244.00,361.00Z" fill="#f5f5f5" stroke="#3a3a3a" stroke-width="0.75"/><path d="M245.70,361.28C246.60,360.00 249.15,358.65 251.10,357.68C253.05,356.71 255.30,355.88 257.40,355.43C259.50,354.98 261.45,354.98 263.70,354.98C265.95,354.98 268.65,355.06 270.90,355.43C273.15,355.81 275.40,356.48 277.20,357.23C279.00,357.98 280.50,358.88 281.70,359.93C282.90,360.98 284.25,362.40 284.40,363.53C284.55,364.65 283.80,365.63 282.60,366.68C281.40,367.73 279.45,368.70 277.20,369.83C274.95,370.95 271.80,372.63 269.10,373.43C266.40,374.23 263.55,374.75 261.00,374.60C258.45,374.45 255.90,373.47 253.80,372.53C251.70,371.58 249.75,370.13 248.40,368.93C247.05,367.73 246.15,366.61 245.70,365.33C245.25,364.05 244.80,362.55 245.70,361.28Z" fill="#dedede" stroke="#4a4a4a" stroke-width="0.55"/><path d="M247.40,361.56C248.20,360.43 250.47,359.23 252.20,358.36C253.93,357.49 255.93,356.76 257.80,356.36C259.67,355.96 261.40,355.96 263.40,355.96C265.40,355.96 267.80,356.03 269.80,356.36C271.80,356.69 273.80,357.29 275.40,357.96C277.00,358.63 278.33,359.43 279.40,360.36C280.47,361.29 281.67,362.56 281.80,363.56C281.93,364.56 281.27,365.43 280.20,366.36C279.13,367.29 277.40,368.16 275.40,369.16C273.40,370.16 270.60,371.65 268.20,372.36C265.80,373.07 263.27,373.53 261.00,373.40C258.73,373.27 256.47,372.40 254.60,371.56C252.73,370.72 251.00,369.43 249.80,368.36C248.60,367.29 247.80,366.29 247.40,365.16C247.00,364.03 246.60,362.69 247.40,361.56Z" fill="#b8b8b8" stroke="#4a4a4a" stroke-width="0.55"/><path d="M249.10,361.84C249.80,360.85 251.78,359.80 253.30,359.04C254.82,358.28 256.57,357.64 258.20,357.29C259.83,356.94 261.35,356.94 263.10,356.94C264.85,356.94 266.95,357.00 268.70,357.29C270.45,357.58 272.20,358.11 273.60,358.69C275.00,359.27 276.17,359.97 277.10,360.79C278.03,361.61 279.08,362.72 279.20,363.59C279.32,364.47 278.73,365.22 277.80,366.04C276.87,366.86 275.35,367.62 273.60,368.49C271.85,369.37 269.40,370.67 267.30,371.29C265.20,371.91 262.98,372.32 261.00,372.20C259.02,372.08 257.03,371.33 255.40,370.59C253.77,369.86 252.25,368.72 251.20,367.79C250.15,366.86 249.45,365.98 249.10,364.99C248.75,364.00 248.40,362.83 249.10,361.84Z" fill="#8c8c8c" stroke="#4a4a4a" stroke-width="0.55"/><path d="M250.80,362.12C251.40,361.27 253.10,360.37 254.40,359.72C255.70,359.07 257.20,358.52 258.60,358.22C260.00,357.92 261.30,357.92 262.80,357.92C264.30,357.92 266.10,357.97 267.60,358.22C269.10,358.47 270.60,358.92 271.80,359.42C273.00,359.92 274.00,360.52 274.80,361.22C275.60,361.92 276.50,362.87 276.60,363.62C276.70,364.37 276.20,365.02 275.40,365.72C274.60,366.42 273.30,367.07 271.80,367.82C270.30,368.57 268.20,369.69 266.40,370.22C264.60,370.75 262.70,371.10 261.00,371.00C259.30,370.90 257.60,370.25 256.20,369.62C254.80,368.99 253.50,368.02 252.60,367.22C251.70,366.42 251.10,365.67 250.80,364.82C250.50,363.97 250.20,362.97 250.80,362.12Z" fill="#5c5c5c" stroke="#4a4a4a" stroke-width="0.55"/><path d="M252.50,362.40C253.00,361.69 254.42,360.94 255.50,360.40C256.58,359.86 257.83,359.40 259.00,359.15C260.17,358.90 261.25,358.90 262.50,358.90C263.75,358.90 265.25,358.94 266.50,359.15C267.75,359.36 269.00,359.73 270.00,360.15C271.00,360.57 271.83,361.07 272.50,361.65C273.17,362.23 273.92,363.02 274.00,363.65C274.08,364.27 273.67,364.82 273.00,365.40C272.33,365.98 271.25,366.52 270.00,367.15C268.75,367.77 267.00,368.71 265.50,369.15C264.00,369.59 262.42,369.88 261.00,369.80C259.58,369.72 258.17,369.17 257.00,368.65C255.83,368.12 254.75,367.32 254.00,366.65C253.25,365.98 252.75,365.36 252.50,364.65C252.25,363.94 252.00,363.11 252.50,362.40Z" fill="#383838" stroke="#4a4a4a" stroke-width="0.55"/><path d="M254.20,362.68C254.60,362.11 255.73,361.51 256.60,361.08C257.47,360.65 258.47,360.28 259.40,360.08C260.33,359.88 261.20,359.88 262.20,359.88C263.20,359.88 264.40,359.91 265.40,360.08C266.40,360.25 267.40,360.55 268.20,360.88C269.00,361.21 269.67,361.61 270.20,362.08C270.73,362.55 271.33,363.18 271.40,363.68C271.47,364.18 271.13,364.61 270.60,365.08C270.07,365.55 269.20,365.98 268.20,366.48C267.20,366.98 265.80,367.73 264.60,368.08C263.40,368.43 262.13,368.67 261.00,368.60C259.87,368.53 258.73,368.10 257.80,367.68C256.87,367.26 256.00,366.61 255.40,366.08C254.80,365.55 254.40,365.05 254.20,364.48C254.00,363.91 253.80,363.25 254.20,362.68Z" fill="#262626" stroke="#4a4a4a" stroke-width="0.55"/><path d="M255.90,362.96C256.20,362.54 257.05,362.08 257.70,361.76C258.35,361.44 259.10,361.16 259.80,361.01C260.50,360.86 261.15,360.86 261.90,360.86C262.65,360.86 263.55,360.88 264.30,361.01C265.05,361.13 265.80,361.36 266.40,361.61C267.00,361.86 267.50,362.16 267.90,362.51C268.30,362.86 268.75,363.34 268.80,363.71C268.85,364.09 268.60,364.41 268.20,364.76C267.80,365.11 267.15,365.44 266.40,365.81C265.65,366.19 264.60,366.75 263.70,367.01C262.80,367.27 261.85,367.45 261.00,367.40C260.15,367.35 259.30,367.02 258.60,366.71C257.90,366.39 257.25,365.91 256.80,365.51C256.35,365.11 256.05,364.74 255.90,364.31C255.75,363.88 255.60,363.39 255.90,362.96Z" fill="#1c1c1c" stroke="#4a4a4a" stroke-width="0.55"/><path d="M257.60,363.24C257.80,362.96 258.37,362.66 258.80,362.44C259.23,362.22 259.73,362.04 260.20,361.94C260.67,361.84 261.10,361.84 261.60,361.84C262.10,361.84 262.70,361.86 263.20,361.94C263.70,362.02 264.20,362.17 264.60,362.34C265.00,362.51 265.33,362.71 265.60,362.94C265.87,363.17 266.17,363.49 266.20,363.74C266.23,363.99 266.07,364.21 265.80,364.44C265.53,364.67 265.10,364.89 264.60,365.14C264.10,365.39 263.40,365.76 262.80,365.94C262.20,366.12 261.57,366.23 261.00,366.20C260.43,366.17 259.87,365.95 259.40,365.74C258.93,365.53 258.50,365.21 258.20,364.94C257.90,364.67 257.70,364.42 257.60,364.14C257.50,363.86 257.40,363.52 257.60,363.24Z" fill="#161616" stroke="#4a4a4a" stroke-width="0.55"/></g>
<ellipse cx="262" cy="364.5" rx="2.4" ry="1.2" fill="#fff" opacity="0.95" filter="url(#b0_5)"/>
</g>
<rect x="95.5" y="333.2" width="28.200000000000003" height="25.0" fill="none" stroke="#858585" stroke-width="1"/>
<rect x="186.5" y="333.2" width="28.0" height="25.0" fill="none" stroke="#858585" stroke-width="1"/>
<rect x="277" y="333.2" width="28.5" height="25.0" fill="none" stroke="#858585" stroke-width="1"/>
<text x="46.2" y="346.9" font-size="9.6" text-anchor="start" font-weight="normal" fill="#111" style="stroke:none" >5.80 ± 1.53</text>
<text x="136.8" y="346.9" font-size="9.6" text-anchor="start" font-weight="normal" fill="#111" style="stroke:none" >9.57 ± 3.07</text>
<text x="228" y="346.9" font-size="9.6" text-anchor="start" font-weight="normal" fill="#111" style="stroke:none" >3.32 ± 0.43</text>
<line x1="35" y1="349.5" x2="35" y2="413.2" stroke="#000" stroke-width="2.4"/>
<polygon points="35,340.8 30.2,350 39.8,350" fill="#000"/>
<text x="0" y="0" font-size="12.9" text-anchor="middle" font-weight="normal" fill="#111" transform="translate(27.4 385) rotate(-90)">7AAD</text>
<line x1="43" y1="423.7" x2="281.5" y2="423.7" stroke="#000" stroke-width="2.2"/>
<polygon points="290,423.7 281,419.09999999999997 281,428.3" fill="#000"/>
<text x="55" y="437.6" font-size="12.6" text-anchor="start" font-weight="normal" fill="#111" >Annexin-V</text>
<rect x="43" y="479.7" width="80.5" height="80.30000000000001" fill="#fff" stroke="#7a7a7a" stroke-width="1"/>
<path d="M41.4,553.6h1.6 M49.4,560v1.6 M41.4,546.3h1.6 M56.7,560v1.6 M41.4,542.1h1.6 M61.0,560v1.6 M41.4,539.1h1.6 M64.0,560v1.6 M41.4,536.7h1.6 M66.3,560v1.6 M41.4,534.8h1.6 M68.2,560v1.6 M41.4,533.2h1.6 M69.8,560v1.6 M41.4,531.8h1.6 M71.2,560v1.6 M41.4,530.6h1.6 M72.5,560v1.6 M41.4,529.5h1.6 M73.6,560v1.6 M41.4,522.2h1.6 M80.9,560v1.6 M41.4,518.0h1.6 M85.1,560v1.6 M41.4,515.0h1.6 M88.1,560v1.6 M41.4,512.6h1.6 M90.5,560v1.6 M41.4,510.7h1.6 M92.4,560v1.6 M41.4,509.1h1.6 M94.0,560v1.6 M41.4,507.7h1.6 M95.4,560v1.6 M41.4,506.5h1.6 M96.6,560v1.6 M41.4,505.4h1.6 M97.7,560v1.6 M41.4,498.1h1.6 M105.0,560v1.6 M41.4,493.9h1.6 M109.3,560v1.6 M41.4,490.9h1.6 M112.3,560v1.6 M41.4,488.6h1.6 M114.6,560v1.6 M41.4,486.7h1.6 M116.5,560v1.6 M41.4,485.0h1.6 M118.1,560v1.6 M41.4,483.6h1.6 M119.5,560v1.6 M41.4,482.4h1.6 M120.8,560v1.6 M41.4,481.3h1.6 M121.9,560v1.6" stroke="#7a7a7a" stroke-width="0.65" fill="none"/>
<rect x="135.1" y="479.7" width="79.9" height="80.30000000000001" fill="#fff" stroke="#7a7a7a" stroke-width="1"/>
<path d="M133.5,553.6h1.6 M141.5,560v1.6 M133.5,546.3h1.6 M148.7,560v1.6 M133.5,542.1h1.6 M152.9,560v1.6 M133.5,539.1h1.6 M155.9,560v1.6 M133.5,536.7h1.6 M158.2,560v1.6 M133.5,534.8h1.6 M160.1,560v1.6 M133.5,533.2h1.6 M161.7,560v1.6 M133.5,531.8h1.6 M163.1,560v1.6 M133.5,530.6h1.6 M164.4,560v1.6 M133.5,529.5h1.6 M165.5,560v1.6 M133.5,522.2h1.6 M172.7,560v1.6 M133.5,518.0h1.6 M176.9,560v1.6 M133.5,515.0h1.6 M179.9,560v1.6 M133.5,512.6h1.6 M182.2,560v1.6 M133.5,510.7h1.6 M184.1,560v1.6 M133.5,509.1h1.6 M185.7,560v1.6 M133.5,507.7h1.6 M187.1,560v1.6 M133.5,506.5h1.6 M188.3,560v1.6 M133.5,505.4h1.6 M189.4,560v1.6 M133.5,498.1h1.6 M196.6,560v1.6 M133.5,493.9h1.6 M200.9,560v1.6 M133.5,490.9h1.6 M203.9,560v1.6 M133.5,488.6h1.6 M206.2,560v1.6 M133.5,486.7h1.6 M208.1,560v1.6 M133.5,485.0h1.6 M209.7,560v1.6 M133.5,483.6h1.6 M211.1,560v1.6 M133.5,482.4h1.6 M212.3,560v1.6 M133.5,481.3h1.6 M213.4,560v1.6" stroke="#7a7a7a" stroke-width="0.65" fill="none"/>
<rect x="225" y="479.7" width="80.30000000000001" height="80.30000000000001" fill="#fff" stroke="#7a7a7a" stroke-width="1"/>
<path d="M223.4,553.6h1.6 M231.4,560v1.6 M223.4,546.3h1.6 M238.7,560v1.6 M223.4,542.1h1.6 M242.9,560v1.6 M223.4,539.1h1.6 M245.9,560v1.6 M223.4,536.7h1.6 M248.3,560v1.6 M223.4,534.8h1.6 M250.2,560v1.6 M223.4,533.2h1.6 M251.8,560v1.6 M223.4,531.8h1.6 M253.2,560v1.6 M223.4,530.6h1.6 M254.4,560v1.6 M223.4,529.5h1.6 M255.5,560v1.6 M223.4,522.2h1.6 M262.8,560v1.6 M223.4,518.0h1.6 M267.0,560v1.6 M223.4,515.0h1.6 M270.0,560v1.6 M223.4,512.6h1.6 M272.4,560v1.6 M223.4,510.7h1.6 M274.3,560v1.6 M223.4,509.1h1.6 M275.9,560v1.6 M223.4,507.7h1.6 M277.3,560v1.6 M223.4,506.5h1.6 M278.5,560v1.6 M223.4,505.4h1.6 M279.6,560v1.6 M223.4,498.1h1.6 M286.9,560v1.6 M223.4,493.9h1.6 M291.1,560v1.6 M223.4,490.9h1.6 M294.1,560v1.6 M223.4,488.6h1.6 M296.4,560v1.6 M223.4,486.7h1.6 M298.3,560v1.6 M223.4,485.0h1.6 M300.0,560v1.6 M223.4,483.6h1.6 M301.4,560v1.6 M223.4,482.4h1.6 M302.6,560v1.6 M223.4,481.3h1.6 M303.7,560v1.6" stroke="#7a7a7a" stroke-width="0.65" fill="none"/>
<text x="72.5" y="471.2" font-size="12.8" text-anchor="start" font-weight="normal" fill="#111" >Cre</text>
<text x="155.5" y="471.2" font-size="12.8" text-anchor="start" fill="#111" >rap<tspan font-size="8" dy="-4">Δ/Δ</tspan></text>
<text x="249.2" y="471.2" font-size="12.8" text-anchor="start" fill="#111" >ric<tspan font-size="8" dy="-4">Δ/Δ</tspan></text>
<circle cx="105.7" cy="487.6" r="0.54" fill="#dedede"/><circle cx="104.0" cy="499.3" r="0.65" fill="#e0e0e0"/><circle cx="104.2" cy="492.3" r="0.50" fill="#dddddd"/><circle cx="120.4" cy="499.9" r="0.51" fill="#b9b9b9"/><circle cx="117.0" cy="499.0" r="0.52" fill="#c6c6c6"/><circle cx="109.4" cy="506.5" r="0.42" fill="#c8c8c8"/><circle cx="111.4" cy="497.9" r="0.44" fill="#cfcfcf"/><circle cx="103.7" cy="491.2" r="0.63" fill="#b9b9b9"/><circle cx="97.0" cy="501.7" r="0.64" fill="#e1e1e1"/><circle cx="99.5" cy="490.1" r="0.64" fill="#b1b1b1"/><circle cx="107.5" cy="487.7" r="0.50" fill="#d7d7d7"/><circle cx="119.3" cy="505.9" r="0.56" fill="#b9b9b9"/><circle cx="118.0" cy="505.9" r="0.61" fill="#d6d6d6"/><circle cx="117.2" cy="491.9" r="0.41" fill="#bcbcbc"/><circle cx="104.1" cy="490.8" r="0.60" fill="#dddddd"/><circle cx="99.4" cy="514.3" r="0.57" fill="#dfdfdf"/><circle cx="112.7" cy="496.4" r="0.55" fill="#c7c7c7"/><circle cx="109.4" cy="506.1" r="0.56" fill="#c2c2c2"/><circle cx="102.6" cy="494.0" r="0.56" fill="#c7c7c7"/><circle cx="106.5" cy="500.0" r="0.40" fill="#b0b0b0"/><circle cx="121.6" cy="500.9" r="0.59" fill="#cbcbcb"/><circle cx="115.8" cy="500.7" r="0.60" fill="#bababa"/><circle cx="105.2" cy="488.1" r="0.51" fill="#c5c5c5"/><circle cx="96.6" cy="500.1" r="0.56" fill="#cfcfcf"/>
<circle cx="112.7" cy="528.5" r="0.53" fill="#dddddd"/><circle cx="53.7" cy="536.2" r="0.56" fill="#c7c7c7"/><circle cx="54.5" cy="540.6" r="0.60" fill="#dbdbdb"/><circle cx="83.4" cy="554.3" r="0.44" fill="#e1e1e1"/><circle cx="54.5" cy="530.0" r="0.46" fill="#dfdfdf"/><circle cx="72.0" cy="540.5" r="0.44" fill="#cccccc"/><circle cx="84.2" cy="552.8" r="0.55" fill="#bcbcbc"/><circle cx="91.9" cy="525.5" r="0.41" fill="#c6c6c6"/><circle cx="62.4" cy="522.4" r="0.57" fill="#c0c0c0"/><circle cx="103.4" cy="520.6" r="0.41" fill="#d0d0d0"/><circle cx="80.8" cy="536.9" r="0.62" fill="#dbdbdb"/><circle cx="92.8" cy="531.8" r="0.47" fill="#c6c6c6"/><circle cx="117.4" cy="539.1" r="0.48" fill="#c6c6c6"/><circle cx="55.5" cy="525.2" r="0.59" fill="#d6d6d6"/><circle cx="67.2" cy="541.6" r="0.63" fill="#d4d4d4"/><circle cx="110.9" cy="545.3" r="0.41" fill="#dedede"/><circle cx="60.2" cy="540.6" r="0.50" fill="#cacaca"/><circle cx="74.8" cy="517.9" r="0.46" fill="#cecece"/><circle cx="57.2" cy="530.3" r="0.50" fill="#bdbdbd"/><circle cx="70.5" cy="521.3" r="0.56" fill="#c6c6c6"/><circle cx="82.3" cy="521.4" r="0.58" fill="#bebebe"/><circle cx="80.7" cy="518.5" r="0.62" fill="#b8b8b8"/><circle cx="103.2" cy="532.1" r="0.64" fill="#bfbfbf"/><circle cx="110.7" cy="539.8" r="0.51" fill="#d4d4d4"/><circle cx="113.7" cy="545.3" r="0.44" fill="#bebebe"/><circle cx="57.1" cy="540.5" r="0.64" fill="#d9d9d9"/><circle cx="59.7" cy="524.0" r="0.56" fill="#d5d5d5"/><circle cx="94.0" cy="532.6" r="0.44" fill="#d6d6d6"/><circle cx="71.0" cy="528.0" r="0.65" fill="#b2b2b2"/><circle cx="99.3" cy="535.1" r="0.40" fill="#d1d1d1"/><circle cx="107.4" cy="545.8" r="0.42" fill="#cccccc"/><circle cx="94.6" cy="523.0" r="0.47" fill="#b5b5b5"/><circle cx="93.8" cy="520.9" r="0.63" fill="#dedede"/><circle cx="53.6" cy="541.4" r="0.51" fill="#dadada"/><circle cx="103.6" cy="536.9" r="0.47" fill="#bfbfbf"/><circle cx="55.8" cy="536.3" r="0.47" fill="#b9b9b9"/>
<circle cx="191.6" cy="509.8" r="0.59" fill="#b9b9b9"/><circle cx="194.2" cy="514.2" r="0.55" fill="#c4c4c4"/><circle cx="195.6" cy="513.3" r="0.65" fill="#dbdbdb"/><circle cx="208.6" cy="503.2" r="0.61" fill="#cdcdcd"/><circle cx="204.5" cy="513.4" r="0.64" fill="#cacaca"/><circle cx="191.5" cy="514.3" r="0.45" fill="#e1e1e1"/><circle cx="202.4" cy="488.5" r="0.44" fill="#b9b9b9"/><circle cx="211.0" cy="497.0" r="0.58" fill="#b8b8b8"/><circle cx="203.0" cy="487.4" r="0.58" fill="#b3b3b3"/><circle cx="186.8" cy="504.9" r="0.45" fill="#c6c6c6"/><circle cx="211.7" cy="503.1" r="0.42" fill="#d9d9d9"/><circle cx="190.8" cy="489.6" r="0.64" fill="#b1b1b1"/><circle cx="210.5" cy="510.1" r="0.61" fill="#b4b4b4"/><circle cx="202.7" cy="495.2" r="0.43" fill="#b5b5b5"/><circle cx="207.2" cy="506.7" r="0.48" fill="#c1c1c1"/>
<circle cx="170.8" cy="517.8" r="0.63" fill="#bfbfbf"/><circle cx="203.9" cy="547.8" r="0.53" fill="#d5d5d5"/><circle cx="199.9" cy="541.7" r="0.60" fill="#b0b0b0"/><circle cx="144.1" cy="537.7" r="0.49" fill="#b5b5b5"/><circle cx="189.9" cy="538.5" r="0.58" fill="#bcbcbc"/><circle cx="198.3" cy="540.0" r="0.44" fill="#c1c1c1"/><circle cx="142.3" cy="536.6" r="0.57" fill="#cecece"/><circle cx="182.3" cy="555.3" r="0.47" fill="#cfcfcf"/><circle cx="206.2" cy="528.3" r="0.63" fill="#bcbcbc"/><circle cx="157.7" cy="523.6" r="0.59" fill="#d7d7d7"/><circle cx="175.3" cy="556.6" r="0.60" fill="#d2d2d2"/><circle cx="184.7" cy="531.2" r="0.63" fill="#c8c8c8"/><circle cx="202.6" cy="546.8" r="0.62" fill="#cacaca"/><circle cx="159.9" cy="553.0" r="0.44" fill="#cfcfcf"/><circle cx="208.8" cy="542.2" r="0.43" fill="#cccccc"/><circle cx="182.4" cy="544.6" r="0.56" fill="#d5d5d5"/><circle cx="165.7" cy="530.1" r="0.62" fill="#b8b8b8"/><circle cx="172.6" cy="539.1" r="0.44" fill="#c3c3c3"/><circle cx="171.8" cy="547.9" r="0.46" fill="#d4d4d4"/><circle cx="164.7" cy="542.7" r="0.46" fill="#dbdbdb"/><circle cx="155.0" cy="529.1" r="0.61" fill="#dcdcdc"/><circle cx="184.0" cy="545.9" r="0.58" fill="#bebebe"/><circle cx="183.0" cy="530.9" r="0.48" fill="#bebebe"/><circle cx="191.6" cy="521.1" r="0.43" fill="#d9d9d9"/>
<circle cx="286.8" cy="517.5" r="0.48" fill="#e1e1e1"/><circle cx="284.3" cy="494.8" r="0.56" fill="#b5b5b5"/><circle cx="279.0" cy="492.6" r="0.52" fill="#c7c7c7"/><circle cx="288.2" cy="493.1" r="0.47" fill="#d7d7d7"/><circle cx="282.8" cy="513.3" r="0.54" fill="#dbdbdb"/><circle cx="297.0" cy="499.5" r="0.57" fill="#bdbdbd"/><circle cx="294.3" cy="514.1" r="0.58" fill="#d8d8d8"/><circle cx="299.9" cy="507.7" r="0.43" fill="#d8d8d8"/><circle cx="288.1" cy="494.3" r="0.42" fill="#dbdbdb"/><circle cx="287.7" cy="511.0" r="0.58" fill="#dcdcdc"/><circle cx="280.4" cy="513.2" r="0.51" fill="#cdcdcd"/><circle cx="293.4" cy="499.1" r="0.57" fill="#dadada"/><circle cx="279.0" cy="494.0" r="0.44" fill="#bcbcbc"/><circle cx="290.5" cy="489.2" r="0.51" fill="#d3d3d3"/><circle cx="281.7" cy="501.2" r="0.56" fill="#b0b0b0"/><circle cx="299.2" cy="502.7" r="0.59" fill="#c9c9c9"/><circle cx="288.8" cy="517.7" r="0.50" fill="#bababa"/><circle cx="297.4" cy="489.9" r="0.49" fill="#d6d6d6"/><circle cx="277.6" cy="494.8" r="0.42" fill="#c8c8c8"/><circle cx="293.6" cy="507.6" r="0.47" fill="#d4d4d4"/><circle cx="282.3" cy="509.7" r="0.64" fill="#d0d0d0"/><circle cx="288.9" cy="491.3" r="0.42" fill="#e0e0e0"/><circle cx="298.4" cy="492.2" r="0.54" fill="#d8d8d8"/><circle cx="285.9" cy="506.4" r="0.60" fill="#e1e1e1"/>
<circle cx="263.8" cy="528.8" r="0.56" fill="#d2d2d2"/><circle cx="285.0" cy="535.8" r="0.61" fill="#e1e1e1"/><circle cx="250.2" cy="532.0" r="0.65" fill="#bfbfbf"/><circle cx="278.2" cy="536.3" r="0.60" fill="#dddddd"/><circle cx="256.3" cy="543.2" r="0.52" fill="#c3c3c3"/><circle cx="261.1" cy="542.5" r="0.62" fill="#d9d9d9"/><circle cx="242.4" cy="529.1" r="0.41" fill="#c7c7c7"/><circle cx="285.3" cy="522.6" r="0.56" fill="#c5c5c5"/><circle cx="296.7" cy="543.2" r="0.55" fill="#bfbfbf"/><circle cx="271.3" cy="551.2" r="0.59" fill="#bababa"/><circle cx="255.6" cy="523.1" r="0.60" fill="#c8c8c8"/><circle cx="273.4" cy="548.3" r="0.63" fill="#d9d9d9"/><circle cx="269.3" cy="542.5" r="0.45" fill="#c2c2c2"/><circle cx="279.1" cy="538.2" r="0.61" fill="#dedede"/><circle cx="277.6" cy="521.7" r="0.47" fill="#b6b6b6"/><circle cx="247.9" cy="522.6" r="0.54" fill="#cecece"/><circle cx="264.9" cy="553.2" r="0.52" fill="#dbdbdb"/><circle cx="265.9" cy="538.6" r="0.40" fill="#dedede"/><circle cx="289.2" cy="535.7" r="0.52" fill="#d3d3d3"/><circle cx="252.2" cy="535.6" r="0.50" fill="#cacaca"/><circle cx="275.3" cy="542.4" r="0.41" fill="#b0b0b0"/><circle cx="238.4" cy="536.4" r="0.62" fill="#dfdfdf"/><circle cx="274.5" cy="530.5" r="0.49" fill="#d9d9d9"/><circle cx="264.3" cy="538.0" r="0.63" fill="#e0e0e0"/><circle cx="251.3" cy="530.7" r="0.54" fill="#bfbfbf"/><circle cx="288.2" cy="528.7" r="0.50" fill="#cecece"/><circle cx="266.3" cy="527.9" r="0.49" fill="#cfcfcf"/><circle cx="245.8" cy="536.7" r="0.48" fill="#b6b6b6"/><circle cx="253.6" cy="529.0" r="0.64" fill="#d4d4d4"/><circle cx="259.1" cy="539.2" r="0.54" fill="#c8c8c8"/><circle cx="235.4" cy="529.0" r="0.41" fill="#afafaf"/><circle cx="287.9" cy="536.0" r="0.56" fill="#e0e0e0"/><circle cx="273.6" cy="541.7" r="0.57" fill="#d7d7d7"/>
<rect x="60.5" y="560.3" width="3.5" height="1.2" fill="#666" filter="url(#b0_5)"/>
<rect x="152.6" y="560.3" width="3.5" height="1.2" fill="#666" filter="url(#b0_5)"/>
<rect x="242.5" y="560.3" width="3.5" height="1.2" fill="#666" filter="url(#b0_5)"/>
<ellipse cx="99.7" cy="499.8" rx="2.2" ry="3.6" transform="rotate(15 99.7 499.8)" fill="none" stroke="#3a3a3a" stroke-width="0.7"/>
<g><path d="M61.30,538.10C61.48,536.85 62.37,536.35 64.20,535.20C66.03,534.05 69.60,532.65 72.30,531.20C75.00,529.75 78.08,528.05 80.40,526.50C82.72,524.95 84.28,522.95 86.20,521.90C88.12,520.85 90.27,520.30 91.90,520.20C93.53,520.10 94.55,520.82 96.00,521.30C97.45,521.78 98.78,522.23 100.60,523.10C102.42,523.97 105.27,524.97 106.90,526.50C108.53,528.03 110.02,530.18 110.40,532.30C110.78,534.42 110.35,537.37 109.20,539.20C108.05,541.03 105.80,542.43 103.50,543.30C101.20,544.17 98.10,543.63 95.40,544.40C92.70,545.17 90.18,547.03 87.30,547.90C84.42,548.77 80.78,549.70 78.10,549.60C75.42,549.50 73.70,548.45 71.20,547.30C68.70,546.15 64.75,544.23 63.10,542.70C61.45,541.17 61.12,539.35 61.30,538.10Z" fill="#f8f8f8" stroke="#3a3a3a" stroke-width="0.75"/><path d="M64.18,537.65C64.34,536.56 65.12,536.12 66.72,535.11C68.33,534.11 71.45,532.88 73.82,531.61C76.18,530.34 78.88,528.85 80.91,527.49C82.94,526.14 84.31,524.39 85.99,523.47C87.67,522.55 89.55,522.07 90.98,521.98C92.41,521.89 93.30,522.52 94.57,522.94C95.84,523.36 97.01,523.76 98.60,524.52C100.19,525.28 102.69,526.15 104.12,527.49C105.55,528.84 106.84,530.72 107.18,532.57C107.52,534.43 107.14,537.01 106.13,538.62C105.12,540.22 103.15,541.45 101.14,542.21C99.12,542.97 96.41,542.50 94.05,543.17C91.68,543.84 89.48,545.48 86.95,546.23C84.43,546.99 81.25,547.81 78.90,547.72C76.55,547.64 75.04,546.72 72.85,545.71C70.66,544.70 67.20,543.02 65.76,541.68C64.32,540.34 64.02,538.75 64.18,537.65Z" fill="#e8e8e8" stroke="#4a4a4a" stroke-width="0.55"/><path d="M66.50,537.29C66.64,536.32 67.33,535.94 68.75,535.04C70.17,534.15 72.94,533.06 75.03,531.94C77.13,530.81 79.52,529.50 81.32,528.29C83.12,527.09 84.33,525.54 85.82,524.72C87.31,523.91 88.97,523.48 90.24,523.40C91.51,523.33 92.30,523.88 93.42,524.26C94.55,524.63 95.58,524.98 96.99,525.65C98.40,526.33 100.61,527.10 101.88,528.29C103.15,529.48 104.30,531.15 104.60,532.79C104.89,534.44 104.56,536.72 103.67,538.15C102.77,539.57 101.03,540.66 99.24,541.33C97.46,542.00 95.05,541.59 92.96,542.18C90.86,542.78 88.91,544.23 86.67,544.90C84.44,545.57 81.62,546.29 79.53,546.22C77.45,546.14 76.12,545.32 74.18,544.43C72.24,543.54 69.18,542.05 67.89,540.86C66.61,539.67 66.36,538.26 66.50,537.29Z" fill="#d0d0d0" stroke="#4a4a4a" stroke-width="0.55"/><path d="M68.64,536.96C68.76,536.11 69.37,535.76 70.62,534.98C71.87,534.19 74.31,533.24 76.16,532.24C78.00,531.25 80.11,530.09 81.70,529.03C83.28,527.97 84.35,526.60 85.66,525.88C86.97,525.17 88.44,524.79 89.56,524.72C90.68,524.65 91.37,525.14 92.36,525.47C93.35,525.81 94.27,526.11 95.51,526.71C96.75,527.30 98.70,527.98 99.82,529.03C100.93,530.08 101.95,531.55 102.21,533.00C102.47,534.44 102.17,536.46 101.39,537.71C100.60,538.97 99.06,539.92 97.49,540.52C95.92,541.11 93.80,540.74 91.95,541.27C90.11,541.79 88.39,543.07 86.41,543.66C84.44,544.25 81.96,544.89 80.12,544.82C78.29,544.76 77.12,544.04 75.41,543.25C73.70,542.47 71.00,541.16 69.87,540.11C68.74,539.06 68.51,537.82 68.64,536.96Z" fill="#b4b4b4" stroke="#4a4a4a" stroke-width="0.55"/><path d="M70.67,536.65C70.78,535.90 71.31,535.60 72.40,534.92C73.49,534.23 75.62,533.40 77.23,532.53C78.84,531.67 80.67,530.65 82.06,529.73C83.44,528.81 84.37,527.61 85.51,526.99C86.66,526.36 87.94,526.03 88.91,525.98C89.89,525.92 90.49,526.34 91.36,526.63C92.22,526.92 93.01,527.19 94.10,527.70C95.18,528.22 96.88,528.82 97.85,529.73C98.83,530.64 99.71,531.93 99.94,533.19C100.17,534.45 99.91,536.21 99.22,537.30C98.54,538.39 97.20,539.23 95.83,539.75C94.46,540.26 92.61,539.94 91.00,540.40C89.39,540.86 87.89,541.97 86.17,542.49C84.45,543.00 82.28,543.56 80.68,543.50C79.09,543.44 78.06,542.82 76.57,542.13C75.08,541.45 72.73,540.30 71.74,539.39C70.76,538.47 70.56,537.39 70.67,536.65Z" fill="#969696" stroke="#4a4a4a" stroke-width="0.55"/><path d="M72.63,536.34C72.72,535.70 73.17,535.45 74.11,534.86C75.05,534.27 76.87,533.55 78.26,532.81C79.64,532.07 81.22,531.20 82.40,530.41C83.59,529.61 84.39,528.59 85.37,528.05C86.35,527.51 87.45,527.23 88.29,527.18C89.12,527.13 89.64,527.50 90.39,527.74C91.13,527.99 91.81,528.22 92.74,528.67C93.67,529.11 95.13,529.62 95.96,530.41C96.80,531.19 97.56,532.29 97.76,533.37C97.95,534.46 97.73,535.97 97.14,536.91C96.55,537.84 95.40,538.56 94.22,539.00C93.05,539.45 91.46,539.17 90.08,539.57C88.70,539.96 87.41,540.91 85.93,541.36C84.46,541.80 82.60,542.28 81.22,542.23C79.85,542.18 78.97,541.64 77.69,541.05C76.41,540.46 74.39,539.48 73.55,538.70C72.70,537.91 72.53,536.98 72.63,536.34Z" fill="#777777" stroke="#4a4a4a" stroke-width="0.55"/><path d="M74.53,536.05C74.60,535.51 74.98,535.30 75.77,534.80C76.56,534.31 78.09,533.70 79.25,533.08C80.42,532.46 81.74,531.73 82.74,531.06C83.73,530.39 84.41,529.53 85.23,529.08C86.05,528.63 86.98,528.39 87.68,528.35C88.38,528.31 88.82,528.62 89.44,528.82C90.07,529.03 90.64,529.23 91.42,529.60C92.20,529.97 93.43,530.40 94.13,531.06C94.83,531.72 95.47,532.64 95.64,533.55C95.80,534.46 95.61,535.73 95.12,536.52C94.63,537.31 93.66,537.91 92.67,538.28C91.68,538.66 90.35,538.43 89.19,538.76C88.03,539.09 86.94,539.89 85.70,540.26C84.46,540.63 82.90,541.04 81.75,540.99C80.59,540.95 79.86,540.50 78.78,540.00C77.71,539.51 76.01,538.68 75.30,538.03C74.59,537.37 74.45,536.59 74.53,536.05Z" fill="#5a5a5a" stroke="#4a4a4a" stroke-width="0.55"/><path d="M76.38,535.76C76.44,535.32 76.75,535.15 77.39,534.75C78.03,534.34 79.28,533.85 80.23,533.34C81.17,532.84 82.25,532.24 83.06,531.70C83.88,531.16 84.42,530.46 85.10,530.09C85.77,529.72 86.52,529.53 87.09,529.49C87.66,529.46 88.02,529.71 88.53,529.88C89.03,530.05 89.50,530.20 90.14,530.51C90.77,530.81 91.77,531.16 92.34,531.70C92.92,532.24 93.43,532.99 93.57,533.73C93.70,534.47 93.55,535.50 93.15,536.15C92.75,536.79 91.96,537.28 91.15,537.58C90.35,537.88 89.26,537.70 88.32,537.97C87.37,538.23 86.49,538.89 85.48,539.19C84.47,539.50 83.20,539.82 82.26,539.79C81.32,539.75 80.72,539.38 79.84,538.98C78.97,538.58 77.58,537.91 77.01,537.37C76.43,536.83 76.31,536.20 76.38,535.76Z" fill="#424242" stroke="#4a4a4a" stroke-width="0.55"/><path d="M78.19,535.48C78.24,535.14 78.48,535.00 78.98,534.69C79.48,534.38 80.45,534.00 81.18,533.60C81.92,533.21 82.75,532.75 83.38,532.32C84.01,531.90 84.44,531.36 84.96,531.07C85.48,530.79 86.07,530.64 86.51,530.61C86.96,530.58 87.23,530.78 87.63,530.91C88.02,531.04 88.39,531.16 88.88,531.40C89.37,531.63 90.15,531.91 90.59,532.32C91.04,532.74 91.44,533.33 91.55,533.90C91.65,534.48 91.53,535.28 91.22,535.78C90.91,536.28 90.29,536.66 89.67,536.89C89.04,537.13 88.20,536.98 87.47,537.19C86.73,537.40 86.05,537.91 85.26,538.15C84.48,538.38 83.49,538.63 82.76,538.61C82.03,538.58 81.56,538.29 80.88,537.98C80.20,537.67 79.13,537.15 78.68,536.73C78.23,536.31 78.14,535.82 78.19,535.48Z" fill="#303030" stroke="#4a4a4a" stroke-width="0.55"/><path d="M79.97,535.20C80.00,534.96 80.18,534.86 80.53,534.64C80.89,534.41 81.59,534.14 82.12,533.86C82.64,533.57 83.25,533.24 83.70,532.94C84.15,532.63 84.46,532.24 84.83,532.04C85.21,531.83 85.63,531.73 85.95,531.71C86.26,531.69 86.46,531.83 86.75,531.92C87.03,532.02 87.29,532.10 87.65,532.27C88.00,532.44 88.56,532.64 88.88,532.94C89.20,533.24 89.49,533.66 89.56,534.07C89.64,534.48 89.55,535.06 89.33,535.42C89.10,535.78 88.66,536.05 88.21,536.22C87.76,536.39 87.16,536.28 86.63,536.43C86.10,536.58 85.61,536.95 85.05,537.12C84.48,537.29 83.77,537.47 83.25,537.45C82.73,537.43 82.39,537.23 81.90,537.00C81.41,536.78 80.64,536.40 80.32,536.10C80.00,535.80 79.93,535.45 79.97,535.20Z" fill="#222222" stroke="#4a4a4a" stroke-width="0.55"/><path d="M81.72,534.93C81.74,534.78 81.84,534.72 82.06,534.58C82.28,534.45 82.71,534.28 83.04,534.10C83.36,533.93 83.73,533.73 84.01,533.54C84.29,533.35 84.47,533.11 84.70,532.99C84.93,532.86 85.19,532.80 85.39,532.78C85.58,532.77 85.71,532.86 85.88,532.92C86.05,532.97 86.21,533.03 86.43,533.13C86.65,533.24 86.99,533.36 87.19,533.54C87.38,533.72 87.56,533.98 87.61,534.24C87.65,534.49 87.60,534.84 87.46,535.06C87.33,535.28 87.06,535.45 86.78,535.56C86.50,535.66 86.13,535.60 85.81,535.69C85.48,535.78 85.18,536.00 84.84,536.11C84.49,536.21 84.05,536.32 83.73,536.31C83.41,536.30 83.20,536.17 82.90,536.04C82.60,535.90 82.13,535.67 81.93,535.48C81.73,535.30 81.69,535.08 81.72,534.93Z" fill="#1a1a1a" stroke="#4a4a4a" stroke-width="0.55"/></g>
<ellipse cx="85" cy="535.5" rx="2.2" ry="1.2" fill="#fff" opacity="0.95" filter="url(#b0_5)"/>
<path d="M149.50,536.00C149.33,534.50 150.08,532.42 151.00,531.50C151.92,530.58 153.83,530.25 155.00,530.50C156.17,530.75 157.42,531.75 158.00,533.00C158.58,534.25 158.83,536.67 158.50,538.00C158.17,539.33 157.08,540.58 156.00,541.00C154.92,541.42 153.08,541.33 152.00,540.50C150.92,539.67 149.67,537.50 149.50,536.00Z" fill="#fbfbfb" stroke="#3a3a3a" stroke-width="0.65"/>
<path d="M151.80,536.00C151.72,535.17 152.83,533.58 153.50,533.50C154.17,533.42 155.72,534.67 155.80,535.50C155.88,536.33 154.67,538.42 154.00,538.50C153.33,538.58 151.88,536.83 151.80,536.00Z" fill="none" stroke="#3a3a3a" stroke-width="0.65"/>
<g><path d="M156.00,536.50C156.05,534.75 156.50,532.45 157.50,531.00C158.50,529.55 160.42,528.72 162.00,527.80C163.58,526.88 165.33,526.08 167.00,525.50C168.67,524.92 170.50,524.33 172.00,524.30C173.50,524.27 174.58,525.38 176.00,525.30C177.42,525.22 179.00,523.88 180.50,523.80C182.00,523.72 183.67,524.27 185.00,524.80C186.33,525.33 187.33,526.73 188.50,527.00C189.67,527.27 190.58,526.40 192.00,526.40C193.42,526.40 195.50,526.80 197.00,527.00C198.50,527.20 199.87,527.10 201.00,527.60C202.13,528.10 203.38,529.07 203.80,530.00C204.22,530.93 204.13,532.28 203.50,533.20C202.87,534.12 201.17,534.65 200.00,535.50C198.83,536.35 197.75,537.47 196.50,538.30C195.25,539.13 193.67,539.63 192.50,540.50C191.33,541.37 190.58,542.50 189.50,543.50C188.42,544.50 187.42,545.58 186.00,546.50C184.58,547.42 182.58,548.12 181.00,549.00C179.42,549.88 178.08,551.40 176.50,551.80C174.92,552.20 173.08,551.40 171.50,551.40C169.92,551.40 168.33,552.28 167.00,551.80C165.67,551.32 164.67,549.55 163.50,548.50C162.33,547.45 161.05,546.67 160.00,545.50C158.95,544.33 157.87,543.00 157.20,541.50C156.53,540.00 155.95,538.25 156.00,536.50Z" fill="#f0f0f0" stroke="#3a3a3a" stroke-width="0.75"/><path d="M158.42,536.38C158.47,534.84 158.86,532.83 159.74,531.56C160.61,530.29 162.29,529.56 163.68,528.76C165.06,527.95 166.60,527.25 168.06,526.74C169.52,526.23 171.12,525.72 172.44,525.69C173.75,525.66 174.70,526.64 175.94,526.57C177.18,526.49 178.56,525.33 179.88,525.25C181.19,525.18 182.65,525.66 183.82,526.13C184.99,526.60 185.86,527.82 186.88,528.06C187.91,528.29 188.71,527.53 189.95,527.53C191.19,527.53 193.01,527.88 194.33,528.06C195.64,528.23 196.84,528.14 197.83,528.58C198.82,529.02 199.92,529.87 200.28,530.68C200.65,531.50 200.57,532.68 200.02,533.49C199.46,534.29 197.98,534.76 196.95,535.50C195.93,536.24 194.98,537.22 193.89,537.95C192.80,538.68 191.41,539.12 190.39,539.88C189.37,540.64 188.71,541.63 187.76,542.51C186.81,543.38 185.94,544.33 184.69,545.13C183.45,545.94 181.70,546.55 180.32,547.32C178.93,548.10 177.76,549.42 176.38,549.77C174.99,550.12 173.38,549.42 172.00,549.42C170.61,549.42 169.22,550.20 168.06,549.77C166.89,549.35 166.01,547.80 164.99,546.88C163.97,545.96 162.85,545.28 161.93,544.26C161.01,543.24 160.06,542.07 159.47,540.75C158.89,539.44 158.38,537.91 158.42,536.38Z" fill="#d8d8d8" stroke="#4a4a4a" stroke-width="0.55"/><path d="M160.37,536.28C160.41,534.92 160.76,533.13 161.53,532.01C162.31,530.88 163.80,530.24 165.02,529.53C166.25,528.81 167.61,528.19 168.90,527.74C170.20,527.29 171.62,526.84 172.78,526.81C173.95,526.78 174.79,527.65 175.89,527.59C176.99,527.52 178.22,526.49 179.38,526.42C180.54,526.36 181.84,526.78 182.87,527.20C183.91,527.61 184.68,528.70 185.59,528.90C186.49,529.11 187.20,528.44 188.30,528.44C189.40,528.44 191.02,528.75 192.18,528.90C193.35,529.06 194.41,528.98 195.29,529.37C196.17,529.76 197.14,530.51 197.46,531.23C197.78,531.96 197.72,533.00 197.23,533.72C196.73,534.43 195.42,534.84 194.51,535.50C193.61,536.16 192.76,537.03 191.79,537.67C190.82,538.32 189.60,538.71 188.69,539.38C187.79,540.05 187.20,540.93 186.36,541.71C185.52,542.48 184.75,543.32 183.65,544.04C182.55,544.75 181.00,545.29 179.77,545.98C178.54,546.66 177.50,547.84 176.28,548.15C175.05,548.46 173.62,547.84 172.40,547.84C171.17,547.84 169.94,548.52 168.90,548.15C167.87,547.77 167.09,546.40 166.19,545.59C165.28,544.77 164.29,544.16 163.47,543.26C162.66,542.35 161.82,541.32 161.30,540.16C160.78,538.99 160.33,537.63 160.37,536.28Z" fill="#bcbcbc" stroke="#4a4a4a" stroke-width="0.55"/><path d="M162.17,536.18C162.20,534.99 162.51,533.41 163.19,532.42C163.88,531.43 165.19,530.86 166.27,530.24C167.35,529.61 168.55,529.06 169.69,528.66C170.83,528.26 172.08,527.86 173.11,527.84C174.13,527.82 174.87,528.58 175.84,528.53C176.81,528.47 177.89,527.56 178.92,527.50C179.94,527.44 181.08,527.82 182.00,528.18C182.91,528.55 183.59,529.51 184.39,529.69C185.19,529.87 185.81,529.28 186.78,529.28C187.75,529.28 189.17,529.55 190.20,529.69C191.23,529.82 192.16,529.76 192.94,530.10C193.71,530.44 194.57,531.10 194.85,531.74C195.13,532.38 195.08,533.30 194.64,533.93C194.21,534.55 193.05,534.92 192.25,535.50C191.45,536.08 190.71,536.84 189.86,537.41C189.00,537.98 187.92,538.33 187.12,538.92C186.33,539.51 185.81,540.29 185.07,540.97C184.33,541.65 183.65,542.39 182.68,543.02C181.71,543.65 180.34,544.13 179.26,544.73C178.18,545.33 177.27,546.37 176.18,546.65C175.10,546.92 173.85,546.37 172.77,546.37C171.68,546.37 170.60,546.98 169.69,546.65C168.78,546.31 168.09,545.11 167.30,544.39C166.50,543.67 165.62,543.14 164.90,542.34C164.18,541.54 163.44,540.63 162.99,539.60C162.53,538.58 162.13,537.38 162.17,536.18Z" fill="#a0a0a0" stroke="#4a4a4a" stroke-width="0.55"/><path d="M163.88,536.10C163.91,535.05 164.17,533.68 164.77,532.82C165.37,531.95 166.51,531.46 167.45,530.91C168.40,530.36 169.44,529.89 170.43,529.54C171.43,529.19 172.52,528.84 173.41,528.82C174.31,528.80 174.95,529.47 175.80,529.42C176.64,529.37 177.59,528.57 178.48,528.53C179.37,528.48 180.37,528.80 181.16,529.12C181.96,529.44 182.55,530.27 183.25,530.43C183.95,530.59 184.49,530.08 185.34,530.08C186.18,530.08 187.42,530.31 188.32,530.43C189.21,530.55 190.03,530.49 190.70,530.79C191.38,531.09 192.12,531.66 192.37,532.22C192.62,532.78 192.57,533.58 192.19,534.13C191.81,534.68 190.80,534.99 190.11,535.50C189.41,536.01 188.76,536.67 188.02,537.17C187.27,537.67 186.33,537.96 185.63,538.48C184.94,539.00 184.49,539.67 183.85,540.27C183.20,540.87 182.60,541.51 181.76,542.06C180.91,542.60 179.72,543.02 178.78,543.55C177.83,544.07 177.04,544.98 176.10,545.22C175.15,545.46 174.06,544.98 173.12,544.98C172.17,544.98 171.23,545.51 170.43,545.22C169.64,544.93 169.04,543.88 168.35,543.25C167.65,542.62 166.89,542.16 166.26,541.46C165.63,540.77 164.99,539.97 164.59,539.08C164.19,538.18 163.85,537.14 163.88,536.10Z" fill="#868686" stroke="#4a4a4a" stroke-width="0.55"/><path d="M165.52,536.01C165.55,535.12 165.78,533.94 166.29,533.20C166.80,532.45 167.78,532.03 168.59,531.56C169.40,531.09 170.30,530.68 171.15,530.38C172.00,530.08 172.94,529.79 173.71,529.77C174.48,529.75 175.03,530.32 175.76,530.28C176.48,530.24 177.29,529.55 178.06,529.51C178.83,529.47 179.68,529.75 180.36,530.02C181.04,530.30 181.56,531.01 182.15,531.15C182.75,531.29 183.22,530.84 183.94,530.84C184.67,530.84 185.74,531.05 186.50,531.15C187.27,531.25 187.97,531.20 188.55,531.46C189.13,531.71 189.77,532.21 189.98,532.69C190.20,533.16 190.15,533.85 189.83,534.32C189.51,534.79 188.64,535.06 188.04,535.50C187.44,535.94 186.89,536.51 186.25,536.93C185.61,537.36 184.80,537.62 184.20,538.06C183.60,538.50 183.22,539.08 182.67,539.59C182.11,540.11 181.60,540.66 180.87,541.13C180.15,541.60 179.13,541.96 178.31,542.41C177.50,542.86 176.82,543.64 176.01,543.84C175.20,544.05 174.26,543.64 173.45,543.64C172.64,543.64 171.83,544.09 171.15,543.84C170.47,543.59 169.96,542.69 169.36,542.15C168.76,541.62 168.10,541.21 167.57,540.62C167.03,540.02 166.48,539.34 166.13,538.57C165.79,537.80 165.49,536.91 165.52,536.01Z" fill="#6c6c6c" stroke="#4a4a4a" stroke-width="0.55"/><path d="M167.12,535.93C167.14,535.18 167.33,534.19 167.76,533.57C168.19,532.94 169.01,532.58 169.70,532.19C170.38,531.80 171.13,531.45 171.85,531.20C172.56,530.95 173.35,530.70 174.00,530.68C174.64,530.67 175.11,531.15 175.71,531.11C176.32,531.08 177.00,530.51 177.65,530.47C178.29,530.43 179.01,530.67 179.58,530.90C180.16,531.13 180.59,531.73 181.09,531.85C181.59,531.96 181.99,531.59 182.59,531.59C183.20,531.59 184.10,531.76 184.74,531.85C185.39,531.93 185.98,531.89 186.46,532.10C186.95,532.32 187.49,532.73 187.67,533.14C187.85,533.54 187.81,534.12 187.54,534.51C187.27,534.91 186.54,535.13 186.03,535.50C185.53,535.87 185.07,536.35 184.53,536.70C183.99,537.06 183.31,537.28 182.81,537.65C182.31,538.02 181.99,538.51 181.52,538.94C181.05,539.37 180.62,539.84 180.01,540.23C179.41,540.62 178.55,540.92 177.86,541.30C177.18,541.68 176.61,542.34 175.93,542.51C175.25,542.68 174.46,542.34 173.78,542.34C173.10,542.34 172.42,542.72 171.85,542.51C171.27,542.30 170.84,541.54 170.34,541.09C169.84,540.64 169.29,540.30 168.84,539.80C168.38,539.30 167.92,538.72 167.63,538.08C167.35,537.43 167.09,536.68 167.12,535.93Z" fill="#545454" stroke="#4a4a4a" stroke-width="0.55"/><path d="M168.67,535.85C168.69,535.24 168.85,534.43 169.20,533.92C169.55,533.42 170.22,533.12 170.77,532.80C171.33,532.48 171.94,532.20 172.52,532.00C173.11,531.79 173.75,531.59 174.27,531.58C174.80,531.57 175.18,531.96 175.68,531.93C176.17,531.90 176.73,531.43 177.25,531.40C177.78,531.37 178.36,531.57 178.83,531.75C179.29,531.94 179.64,532.43 180.05,532.52C180.46,532.62 180.78,532.31 181.28,532.31C181.77,532.31 182.50,532.45 183.03,532.52C183.55,532.59 184.03,532.56 184.43,532.73C184.83,532.91 185.26,533.25 185.41,533.57C185.56,533.90 185.53,534.37 185.30,534.69C185.08,535.02 184.49,535.20 184.08,535.50C183.67,535.80 183.29,536.19 182.85,536.48C182.42,536.77 181.86,536.95 181.45,537.25C181.04,537.55 180.78,537.95 180.40,538.30C180.02,538.65 179.67,539.03 179.18,539.35C178.68,539.67 177.98,539.92 177.43,540.23C176.87,540.54 176.40,541.07 175.85,541.21C175.30,541.35 174.65,541.07 174.10,541.07C173.55,541.07 172.99,541.38 172.52,541.21C172.06,541.04 171.71,540.42 171.30,540.05C170.89,539.68 170.44,539.41 170.07,539.00C169.71,538.59 169.33,538.13 169.09,537.60C168.86,537.08 168.65,536.46 168.67,535.85Z" fill="#404040" stroke="#4a4a4a" stroke-width="0.55"/><path d="M170.20,535.77C170.21,535.30 170.33,534.67 170.60,534.28C170.88,533.88 171.40,533.65 171.83,533.41C172.26,533.16 172.73,532.94 173.19,532.78C173.64,532.62 174.14,532.46 174.55,532.45C174.96,532.44 175.25,532.75 175.64,532.73C176.02,532.70 176.45,532.34 176.86,532.32C177.27,532.29 177.72,532.44 178.08,532.59C178.45,532.73 178.72,533.12 179.04,533.19C179.35,533.26 179.60,533.02 179.99,533.02C180.37,533.02 180.94,533.13 181.35,533.19C181.76,533.24 182.13,533.21 182.44,533.35C182.75,533.49 183.09,533.75 183.20,534.00C183.31,534.26 183.29,534.62 183.12,534.87C182.94,535.12 182.48,535.27 182.16,535.50C181.85,535.73 181.55,536.04 181.21,536.26C180.87,536.49 180.44,536.62 180.12,536.86C179.81,537.10 179.60,537.40 179.31,537.68C179.01,537.95 178.74,538.24 178.36,538.49C177.97,538.74 177.43,538.93 177.00,539.17C176.57,539.41 176.20,539.83 175.77,539.93C175.34,540.04 174.84,539.83 174.41,539.83C173.98,539.83 173.55,540.07 173.19,539.93C172.82,539.80 172.55,539.32 172.24,539.04C171.92,538.75 171.57,538.54 171.28,538.22C171.00,537.90 170.70,537.54 170.52,537.13C170.34,536.72 170.18,536.25 170.20,535.77Z" fill="#303030" stroke="#4a4a4a" stroke-width="0.55"/><path d="M171.69,535.70C171.70,535.35 171.79,534.90 171.98,534.62C172.18,534.34 172.55,534.17 172.86,534.00C173.17,533.82 173.51,533.66 173.84,533.55C174.16,533.43 174.52,533.32 174.82,533.31C175.11,533.31 175.32,533.52 175.60,533.51C175.87,533.49 176.18,533.23 176.48,533.21C176.77,533.20 177.10,533.31 177.36,533.41C177.62,533.51 177.81,533.79 178.04,533.84C178.27,533.89 178.45,533.72 178.72,533.72C179.00,533.72 179.41,533.80 179.70,533.84C179.99,533.88 180.26,533.86 180.48,533.96C180.70,534.05 180.95,534.24 181.03,534.43C181.11,534.61 181.09,534.87 180.97,535.05C180.85,535.23 180.51,535.33 180.29,535.50C180.06,535.67 179.85,535.88 179.60,536.05C179.36,536.21 179.05,536.31 178.82,536.48C178.59,536.65 178.45,536.87 178.24,537.06C178.02,537.26 177.83,537.47 177.55,537.65C177.27,537.83 176.88,537.97 176.57,538.14C176.27,538.31 176.00,538.61 175.70,538.68C175.39,538.76 175.03,538.61 174.72,538.61C174.41,538.61 174.10,538.78 173.84,538.68C173.58,538.59 173.38,538.25 173.16,538.04C172.93,537.83 172.68,537.68 172.47,537.45C172.27,537.23 172.05,536.97 171.92,536.67C171.79,536.38 171.68,536.04 171.69,535.70Z" fill="#242424" stroke="#4a4a4a" stroke-width="0.55"/><path d="M173.16,535.62C173.17,535.41 173.22,535.13 173.34,534.96C173.46,534.79 173.69,534.69 173.88,534.58C174.07,534.47 174.28,534.37 174.48,534.30C174.68,534.23 174.90,534.16 175.08,534.16C175.26,534.15 175.39,534.29 175.56,534.28C175.73,534.27 175.92,534.11 176.10,534.10C176.28,534.09 176.48,534.15 176.64,534.22C176.80,534.28 176.92,534.45 177.06,534.48C177.20,534.51 177.31,534.41 177.48,534.41C177.65,534.41 177.90,534.46 178.08,534.48C178.26,534.50 178.42,534.49 178.56,534.55C178.70,534.61 178.85,534.73 178.90,534.84C178.95,534.95 178.94,535.11 178.86,535.22C178.78,535.33 178.58,535.40 178.44,535.50C178.30,535.60 178.17,535.74 178.02,535.84C177.87,535.94 177.68,536.00 177.54,536.10C177.40,536.20 177.31,536.34 177.18,536.46C177.05,536.58 176.93,536.71 176.76,536.82C176.59,536.93 176.35,537.01 176.16,537.12C175.97,537.23 175.81,537.41 175.62,537.46C175.43,537.50 175.21,537.41 175.02,537.41C174.83,537.41 174.64,537.51 174.48,537.46C174.32,537.40 174.20,537.19 174.06,537.06C173.92,536.93 173.77,536.84 173.64,536.70C173.51,536.56 173.38,536.40 173.30,536.22C173.22,536.04 173.15,535.83 173.16,535.62Z" fill="#1a1a1a" stroke="#4a4a4a" stroke-width="0.55"/></g>
<ellipse cx="175" cy="536.8" rx="2.6" ry="1.2" fill="#fff" opacity="0.95" filter="url(#b0_5)"/>
<path d="M190.00,494.00C190.58,493.50 192.33,492.50 193.00,493.00C193.67,493.50 194.08,495.67 194.00,497.00C193.92,498.33 192.50,499.67 192.50,501.00C192.50,502.33 193.83,503.17 194.00,505.00C194.17,506.83 193.83,510.33 193.50,512.00C193.17,513.67 192.58,514.67 192.00,515.00C191.42,515.33 190.25,515.50 190.00,514.00C189.75,512.50 190.42,508.33 190.50,506.00C190.58,503.67 190.67,501.67 190.50,500.00C190.33,498.33 189.58,497.00 189.50,496.00C189.42,495.00 189.42,494.50 190.00,494.00Z" fill="none" stroke="#3a3a3a" stroke-width="0.65"/>
<circle cx="186" cy="498.7" r="1.6" fill="none" stroke="#4a4a4a" stroke-width="0.6"/>
<circle cx="202.9" cy="495.4" r="3.5" fill="#fff" stroke="#3a3a3a" stroke-width="0.65"/><circle cx="202.9" cy="495.4" r="1.7" fill="none" stroke="#3a3a3a" stroke-width="0.65"/>
<circle cx="206.9" cy="505.9" r="1.5" fill="none" stroke="#4a4a4a" stroke-width="0.6"/>
<path d="M236.20,537.50C236.12,536.25 236.20,533.87 237.00,533.00C237.80,532.13 239.58,532.05 241.00,532.30C242.42,532.55 244.42,533.55 245.50,534.50C246.58,535.45 247.58,536.83 247.50,538.00C247.42,539.17 246.08,540.92 245.00,541.50C243.92,542.08 242.25,541.67 241.00,541.50C239.75,541.33 238.30,541.17 237.50,540.50C236.70,539.83 236.28,538.75 236.20,537.50Z" fill="#fbfbfb" stroke="#3a3a3a" stroke-width="0.65"/>
<path d="M238.50,537.00C238.50,536.33 239.83,535.00 240.50,535.00C241.17,535.00 242.50,536.33 242.50,537.00C242.50,537.67 241.17,539.00 240.50,539.00C239.83,539.00 238.50,537.67 238.50,537.00Z" fill="none" stroke="#3a3a3a" stroke-width="0.65"/>
<g><path d="M245.00,538.00C245.08,536.50 246.83,535.12 248.00,534.00C249.17,532.88 249.92,532.58 252.00,531.30C254.08,530.02 257.83,527.87 260.50,526.30C263.17,524.73 265.70,522.85 268.00,521.90C270.30,520.95 272.00,520.70 274.30,520.60C276.60,520.50 279.93,520.57 281.80,521.30C283.67,522.03 284.05,523.75 285.50,525.00C286.95,526.25 289.45,527.33 290.50,528.80C291.55,530.27 292.00,531.93 291.80,533.80C291.60,535.67 290.97,538.33 289.30,540.00C287.63,541.67 284.72,542.55 281.80,543.80C278.88,545.05 275.35,546.67 271.80,547.50C268.25,548.33 263.63,548.90 260.50,548.80C257.37,548.70 255.17,547.87 253.00,546.90C250.83,545.93 248.83,544.48 247.50,543.00C246.17,541.52 244.92,539.50 245.00,538.00Z" fill="#f8f8f8" stroke="#3a3a3a" stroke-width="0.75"/><path d="M247.61,537.75C247.68,536.44 249.22,535.23 250.24,534.25C251.26,533.27 251.92,533.01 253.74,531.88C255.56,530.76 258.85,528.88 261.18,527.51C263.52,526.13 265.74,524.48 267.75,523.65C269.77,522.82 271.25,522.60 273.27,522.51C275.28,522.43 278.20,522.49 279.84,523.13C281.47,523.77 281.81,525.27 283.08,526.37C284.35,527.46 286.54,528.41 287.45,529.69C288.37,530.98 288.77,532.44 288.59,534.07C288.42,535.71 287.86,538.04 286.40,539.50C284.94,540.96 282.39,541.74 279.84,542.83C277.28,543.93 274.19,545.34 271.08,546.07C267.97,546.80 263.93,547.30 261.18,547.21C258.44,547.12 256.51,546.39 254.62,545.55C252.72,544.70 250.97,543.43 249.80,542.13C248.63,540.83 247.54,539.06 247.61,537.75Z" fill="#e8e8e8" stroke="#4a4a4a" stroke-width="0.55"/><path d="M249.71,537.55C249.77,536.39 251.13,535.31 252.03,534.45C252.94,533.58 253.52,533.35 255.14,532.35C256.75,531.36 259.66,529.69 261.73,528.47C263.80,527.26 265.77,525.80 267.55,525.06C269.34,524.32 270.66,524.13 272.44,524.05C274.22,523.97 276.81,524.02 278.26,524.59C279.71,525.16 280.01,526.49 281.13,527.46C282.26,528.43 284.20,529.28 285.01,530.41C285.83,531.55 286.17,532.84 286.02,534.29C285.86,535.74 285.37,537.81 284.08,539.10C282.79,540.40 280.52,541.08 278.26,542.05C276.00,543.02 273.26,544.28 270.50,544.92C267.75,545.57 264.16,546.01 261.73,545.93C259.30,545.85 257.59,545.21 255.91,544.46C254.23,543.71 252.68,542.58 251.65,541.43C250.61,540.28 249.64,538.72 249.71,537.55Z" fill="#d0d0d0" stroke="#4a4a4a" stroke-width="0.55"/><path d="M251.64,537.37C251.70,536.34 252.89,535.40 253.69,534.63C254.49,533.87 255.00,533.66 256.43,532.79C257.85,531.91 260.42,530.44 262.24,529.37C264.06,528.30 265.79,527.01 267.37,526.36C268.94,525.71 270.10,525.54 271.68,525.47C273.25,525.40 275.53,525.45 276.80,525.95C278.08,526.45 278.34,527.62 279.33,528.48C280.32,529.33 282.03,530.07 282.75,531.08C283.47,532.08 283.78,533.22 283.64,534.50C283.50,535.77 283.07,537.60 281.93,538.73C280.79,539.87 278.80,540.48 276.80,541.33C274.81,542.19 272.39,543.29 269.97,543.86C267.54,544.43 264.38,544.82 262.24,544.75C260.10,544.68 258.59,544.11 257.11,543.45C255.63,542.79 254.26,541.80 253.35,540.79C252.44,539.77 251.58,538.39 251.64,537.37Z" fill="#b4b4b4" stroke="#4a4a4a" stroke-width="0.55"/><path d="M253.48,537.19C253.53,536.30 254.57,535.47 255.27,534.81C255.97,534.14 256.41,533.96 257.65,533.20C258.90,532.43 261.13,531.15 262.72,530.22C264.31,529.28 265.82,528.16 267.19,527.59C268.56,527.03 269.58,526.88 270.95,526.82C272.32,526.76 274.31,526.80 275.42,527.24C276.53,527.67 276.76,528.70 277.62,529.44C278.49,530.19 279.98,530.83 280.61,531.71C281.23,532.58 281.50,533.58 281.38,534.69C281.26,535.80 280.88,537.39 279.89,538.38C278.90,539.38 277.16,539.90 275.42,540.65C273.68,541.40 271.57,542.36 269.46,542.86C267.34,543.35 264.59,543.69 262.72,543.63C260.85,543.57 259.54,543.07 258.25,542.50C256.96,541.92 255.77,541.06 254.97,540.17C254.18,539.29 253.43,538.09 253.48,537.19Z" fill="#969696" stroke="#4a4a4a" stroke-width="0.55"/><path d="M255.25,537.02C255.30,536.26 256.19,535.55 256.79,534.98C257.38,534.40 257.77,534.25 258.83,533.59C259.90,532.94 261.82,531.84 263.19,531.04C264.55,530.23 265.85,529.27 267.02,528.78C268.20,528.30 269.07,528.17 270.25,528.12C271.42,528.07 273.13,528.10 274.09,528.48C275.04,528.85 275.24,529.73 275.98,530.37C276.72,531.01 278.00,531.56 278.54,532.32C279.08,533.07 279.31,533.92 279.20,534.87C279.10,535.83 278.78,537.19 277.92,538.05C277.07,538.90 275.58,539.35 274.09,539.99C272.59,540.63 270.79,541.46 268.97,541.89C267.15,542.31 264.79,542.60 263.19,542.55C261.58,542.50 260.46,542.07 259.35,541.58C258.24,541.08 257.21,540.34 256.53,539.58C255.85,538.82 255.21,537.79 255.25,537.02Z" fill="#777777" stroke="#4a4a4a" stroke-width="0.55"/><path d="M256.97,536.86C257.01,536.21 257.76,535.62 258.26,535.14C258.76,534.66 259.08,534.53 259.98,533.98C260.88,533.43 262.49,532.50 263.64,531.83C264.78,531.16 265.87,530.35 266.86,529.94C267.85,529.53 268.58,529.42 269.57,529.38C270.56,529.34 271.99,529.36 272.79,529.68C273.60,530.00 273.76,530.73 274.38,531.27C275.01,531.81 276.08,532.27 276.53,532.90C276.99,533.53 277.18,534.25 277.09,535.05C277.01,535.86 276.73,537.00 276.02,537.72C275.30,538.44 274.05,538.82 272.79,539.35C271.54,539.89 270.02,540.59 268.49,540.94C266.97,541.30 264.98,541.55 263.64,541.50C262.29,541.46 261.34,541.10 260.41,540.69C259.48,540.27 258.62,539.65 258.05,539.01C257.47,538.37 256.94,537.50 256.97,536.86Z" fill="#5a5a5a" stroke="#4a4a4a" stroke-width="0.55"/><path d="M258.65,536.70C258.68,536.18 259.29,535.69 259.70,535.30C260.11,534.91 260.37,534.80 261.10,534.35C261.83,533.90 263.14,533.15 264.07,532.60C265.01,532.06 265.89,531.40 266.70,531.06C267.51,530.73 268.10,530.64 268.91,530.61C269.71,530.57 270.88,530.60 271.53,530.85C272.19,531.11 272.32,531.71 272.83,532.15C273.34,532.59 274.21,532.97 274.58,533.48C274.95,533.99 275.10,534.58 275.03,535.23C274.96,535.88 274.74,536.82 274.16,537.40C273.57,537.98 272.55,538.29 271.53,538.73C270.51,539.17 269.27,539.73 268.03,540.03C266.79,540.32 265.17,540.52 264.07,540.48C262.98,540.45 262.21,540.16 261.45,539.82C260.69,539.48 259.99,538.97 259.52,538.45C259.06,537.93 258.62,537.23 258.65,536.70Z" fill="#424242" stroke="#4a4a4a" stroke-width="0.55"/><path d="M260.29,536.54C260.31,536.14 260.79,535.76 261.10,535.46C261.42,535.15 261.62,535.07 262.19,534.72C262.76,534.37 263.78,533.79 264.50,533.36C265.23,532.94 265.92,532.42 266.54,532.16C267.17,531.91 267.63,531.84 268.26,531.81C268.88,531.78 269.79,531.80 270.30,532.00C270.81,532.20 270.91,532.67 271.30,533.01C271.70,533.35 272.38,533.64 272.66,534.04C272.95,534.44 273.07,534.89 273.02,535.40C272.96,535.91 272.79,536.63 272.34,537.09C271.89,537.54 271.09,537.78 270.30,538.12C269.50,538.46 268.54,538.90 267.58,539.13C266.61,539.36 265.36,539.51 264.50,539.48C263.65,539.45 263.05,539.23 262.46,538.97C261.87,538.70 261.33,538.31 260.97,537.90C260.60,537.50 260.26,536.95 260.29,536.54Z" fill="#303030" stroke="#4a4a4a" stroke-width="0.55"/><path d="M261.90,536.39C261.91,536.10 262.26,535.83 262.48,535.61C262.71,535.39 262.86,535.33 263.26,535.08C263.67,534.83 264.40,534.41 264.93,534.10C265.45,533.80 265.94,533.43 266.39,533.25C266.84,533.06 267.17,533.01 267.62,532.99C268.07,532.97 268.72,532.98 269.09,533.13C269.45,533.27 269.53,533.61 269.81,533.85C270.09,534.10 270.58,534.31 270.79,534.59C270.99,534.88 271.08,535.21 271.04,535.57C271.00,535.93 270.88,536.46 270.55,536.78C270.23,537.11 269.66,537.28 269.09,537.52C268.52,537.77 267.83,538.08 267.13,538.25C266.44,538.41 265.54,538.52 264.93,538.50C264.31,538.48 263.88,538.32 263.46,538.13C263.04,537.94 262.65,537.66 262.39,537.37C262.12,537.08 261.88,536.68 261.90,536.39Z" fill="#222222" stroke="#4a4a4a" stroke-width="0.55"/><path d="M263.48,536.24C263.49,536.06 263.70,535.89 263.84,535.76C263.98,535.63 264.07,535.59 264.32,535.44C264.57,535.28 265.02,535.02 265.34,534.84C265.66,534.65 265.96,534.42 266.24,534.31C266.52,534.19 266.72,534.16 267.00,534.15C267.27,534.14 267.67,534.15 267.90,534.24C268.12,534.32 268.17,534.53 268.34,534.68C268.51,534.83 268.81,534.96 268.94,535.14C269.07,535.31 269.12,535.51 269.10,535.74C269.07,535.96 269.00,536.28 268.80,536.48C268.60,536.68 268.25,536.79 267.90,536.94C267.55,537.09 267.12,537.28 266.70,537.38C266.27,537.48 265.72,537.55 265.34,537.54C264.96,537.52 264.70,537.42 264.44,537.31C264.18,537.19 263.94,537.02 263.78,536.84C263.62,536.66 263.47,536.42 263.48,536.24Z" fill="#1a1a1a" stroke="#4a4a4a" stroke-width="0.55"/></g>
<ellipse cx="266.1" cy="536.3" rx="2.2" ry="1.2" fill="#fff" opacity="0.95" filter="url(#b0_5)"/>
<path d="M277.40,496.00C277.98,495.30 279.35,494.87 280.50,494.80C281.65,494.73 283.88,494.82 284.30,495.60C284.72,496.38 283.55,498.43 283.00,499.50C282.45,500.57 281.45,500.87 281.00,502.00C280.55,503.13 280.63,505.63 280.30,506.30C279.97,506.97 279.28,506.72 279.00,506.00C278.72,505.28 278.93,503.17 278.60,502.00C278.27,500.83 277.20,500.00 277.00,499.00C276.80,498.00 276.82,496.70 277.40,496.00Z" fill="none" stroke="#3a3a3a" stroke-width="0.65"/>
<line x1="95.5" y1="479.7" x2="95.5" y2="560" stroke="#777" stroke-width="1"/>
<line x1="43" y1="519.6" x2="123.5" y2="519.6" stroke="#777" stroke-width="1"/>
<line x1="187.6" y1="479.7" x2="187.6" y2="560" stroke="#777" stroke-width="1"/>
<line x1="135.1" y1="519.6" x2="215" y2="519.6" stroke="#777" stroke-width="1"/>
<line x1="276.5" y1="479.7" x2="276.5" y2="560" stroke="#777" stroke-width="1"/>
<line x1="225" y1="519.6" x2="305.3" y2="519.6" stroke="#777" stroke-width="1"/>
<text x="122.3" y="488.0" font-size="9.4" text-anchor="end" font-weight="normal" fill="#111" style="stroke:none" >1.67 ± 0.17</text>
<text x="213.7" y="488.0" font-size="9.4" text-anchor="end" font-weight="normal" fill="#111" style="stroke:none" >3.12 ± 1.00</text>
<text x="303" y="488.0" font-size="9.4" text-anchor="end" font-weight="normal" fill="#111" style="stroke:none" >2.32 ± 0.15</text>
<line x1="34.8" y1="497.1" x2="34.8" y2="560" stroke="#000" stroke-width="2.4"/>
<polygon points="34.8,488.8 29.999999999999996,497.6 39.599999999999994,497.6" fill="#000"/>
<text x="0" y="0" font-size="12.9" text-anchor="middle" font-weight="normal" fill="#111" transform="translate(27.3 535.1) rotate(-90)">DAPI</text>
<line x1="43" y1="571.5" x2="281.5" y2="571.5" stroke="#000" stroke-width="2.2"/>
<polygon points="290,571.5 281,566.9 281,576.1" fill="#000"/>
<text x="55" y="585.1" font-size="12.8" text-anchor="start" font-weight="normal" fill="#111" >VAD-FMK</text></svg>
</body></html>
